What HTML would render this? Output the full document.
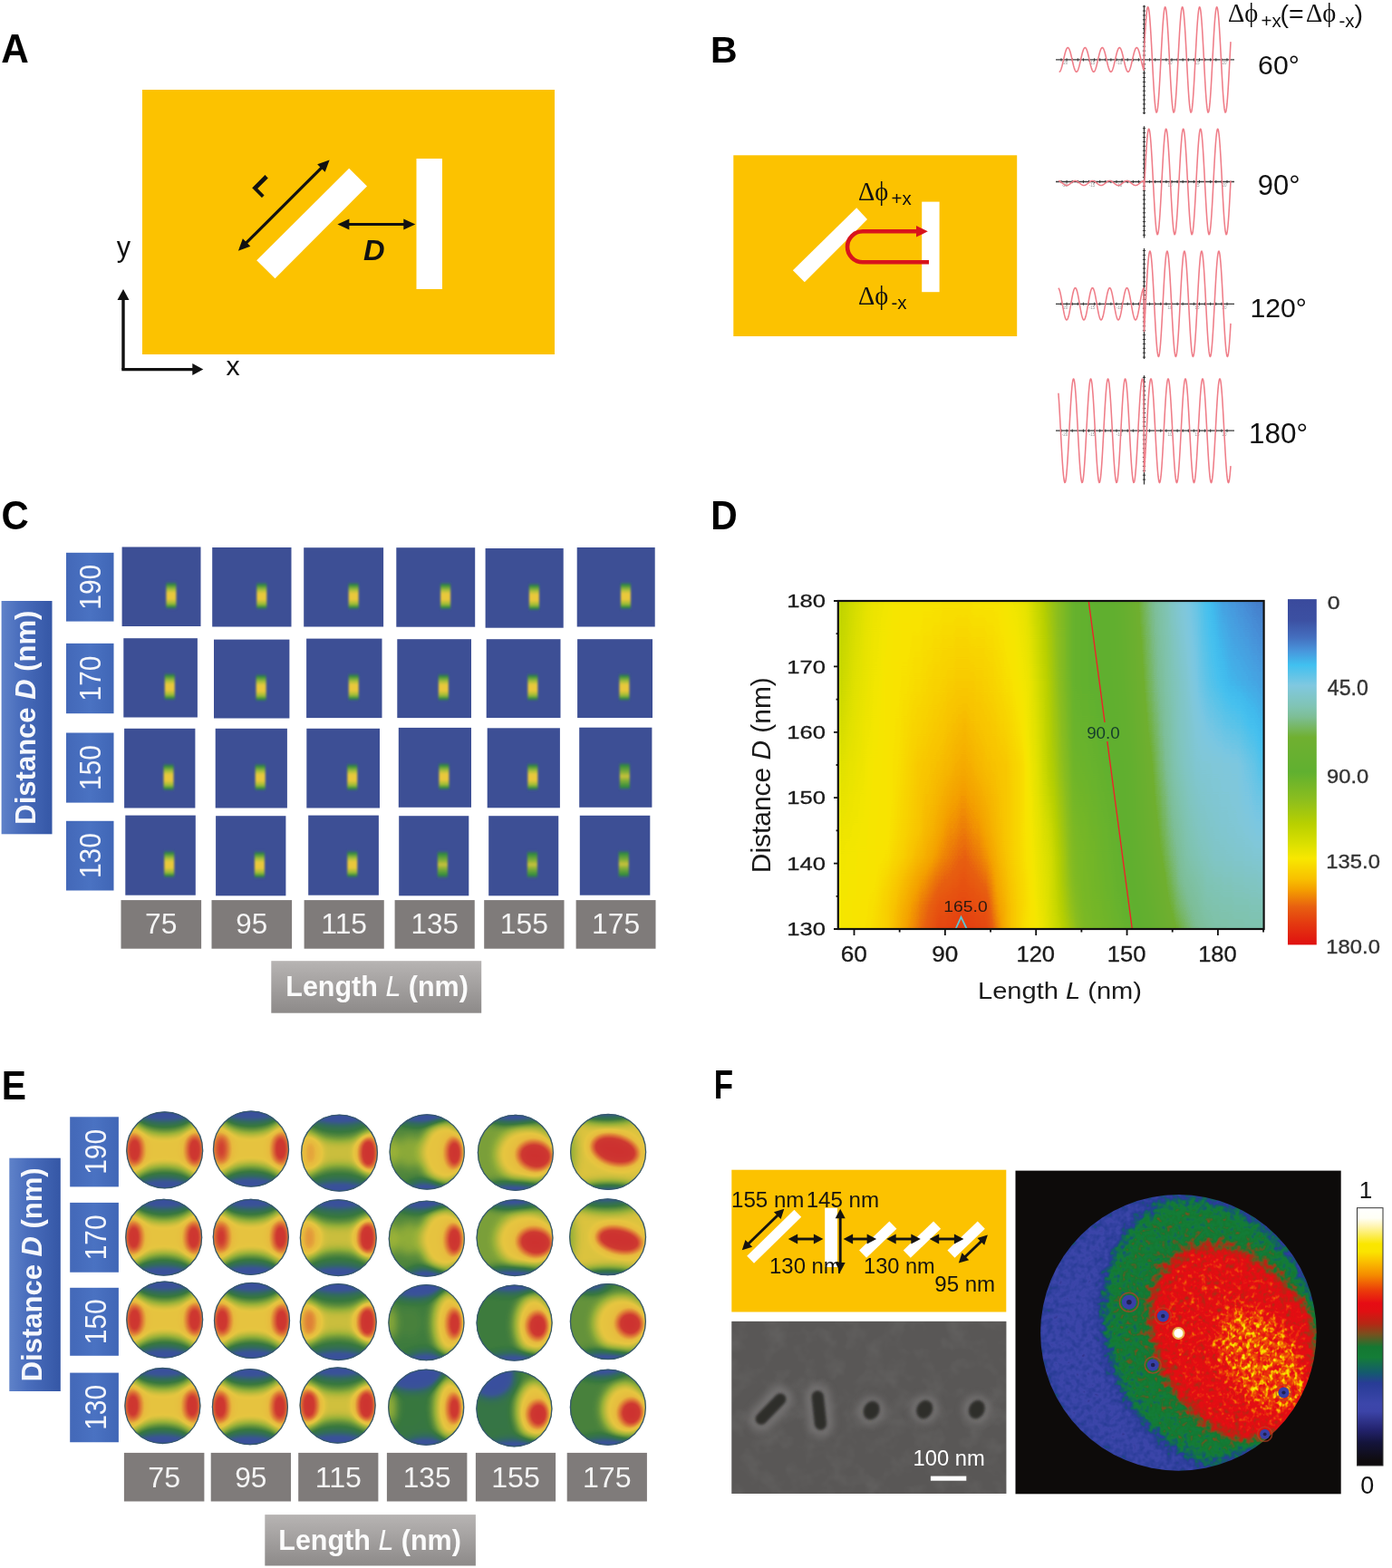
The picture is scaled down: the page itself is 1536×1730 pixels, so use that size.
<!DOCTYPE html>
<html><head><meta charset="utf-8"><title>Figure</title>
<style>html,body{margin:0;padding:0;background:#fff;}svg{display:block;}</style>
</head><body>
<svg width="1536" height="1730" viewBox="0 0 1536 1730">
<rect width="1536" height="1730" fill="#fff"/>
<text x="1.25" y="69.2" font-family="'Liberation Sans', Arial, sans-serif" font-size="44.04" font-weight="bold" textLength="30.57" lengthAdjust="spacingAndGlyphs" fill="#000" >A</text>
<text x="784.06" y="68.7" font-family="'Liberation Sans', Arial, sans-serif" font-size="40.99" font-weight="bold" fill="#000" >B</text>
<text x="1.38" y="583.6" font-family="'Liberation Sans', Arial, sans-serif" font-size="44.83" font-weight="bold" textLength="30.26" lengthAdjust="spacingAndGlyphs" fill="#000" >C</text>
<text x="784.27" y="583.6" font-family="'Liberation Sans', Arial, sans-serif" font-size="45.2" font-weight="bold" textLength="29.44" lengthAdjust="spacingAndGlyphs" fill="#000" >D</text>
<text x="1.67" y="1212.8" font-family="'Liberation Sans', Arial, sans-serif" font-size="44.33" font-weight="bold" textLength="27.22" lengthAdjust="spacingAndGlyphs" fill="#000" >E</text>
<text x="787.67" y="1212.1" font-family="'Liberation Sans', Arial, sans-serif" font-size="43.46" font-weight="bold" textLength="21.31" lengthAdjust="spacingAndGlyphs" fill="#000" >F</text>
<rect x="157" y="99" width="455" height="292" fill="#fcc200"/>
<polygon points="385.2,185.7 405,205.4 303.5,307.3 283.2,287.3" fill="#fff"/>
<rect x="459.5" y="175" width="28.5" height="144" fill="#fff"/>
<line x1="270.26" y1="269.46" x2="356.24" y2="183.74" stroke="#111" stroke-width="3.2"/><polygon points="363.6,176.4 358.63,189.83 350.16,181.33" fill="#111"/><polygon points="262.9,276.8 267.87,263.37 276.34,271.87" fill="#111"/>
<line x1="382.8" y1="247.5" x2="447.9" y2="247.5" stroke="#111" stroke-width="3.2"/><polygon points="458.3,247.5 445.3,253.5 445.3,241.5" fill="#111"/><polygon points="372.4,247.5 385.4,241.5 385.4,253.5" fill="#111"/>
<text x="0" y="0" font-family="Liberation Sans, Arial, sans-serif" font-weight="bold" font-size="28.5" text-anchor="middle" transform="translate(290.5,205) rotate(45) translate(0,10.2)" fill="#111" stroke="#111" stroke-width="0.6">L</text>
<text x="401.03" y="287" font-family="'Liberation Sans', Arial, sans-serif" font-size="30.81" font-weight="bold" font-style="italic" textLength="23.6" lengthAdjust="spacingAndGlyphs" fill="#111" >D</text>
<path d="M136,407.6 V330" stroke="#111" stroke-width="3.4" fill="none"/>
<path d="M134.3,407.6 H214" stroke="#111" stroke-width="3.4" fill="none"/>
<polygon points="136,319.1 142.5,331.1 129.5,331.1" fill="#111"/>
<polygon points="224.3,407.6 212.3,414.1 212.3,401.1" fill="#111"/>
<text x="128.68" y="282.6" font-family="'Liberation Sans', Arial, sans-serif" font-size="30.66" fill="#111" >y</text>
<text x="249.47" y="414" font-family="'Liberation Sans', Arial, sans-serif" font-size="30.28" fill="#111" >x</text>
<rect x="809.3" y="171.3" width="312.9" height="199.7" fill="#fcc200"/>
<polygon points="945.2,229.2 957,242.1 887.8,311.2 874.9,298.3" fill="#fff"/>
<rect x="1017.2" y="222.6" width="19.4" height="99.6" fill="#fff"/>
<path d="M1013,255.3 H952 A17,17 0 0 0 952,289.3 H1025" stroke="#d8141c" stroke-width="4.6" fill="none"/>
<polygon points="1023.8,255.3 1011,249 1011,261.6" fill="#d8141c"/>
<text x="947" y="221" font-family="Liberation Serif, Times New Roman, serif" font-size="28.5" fill="#111">&#916;&#981;</text>
<text x="983.5" y="226" font-family="Liberation Sans, Arial, sans-serif" font-size="20.5" fill="#111">+x</text>
<text x="947" y="335.8" font-family="Liberation Serif, Times New Roman, serif" font-size="28.5" fill="#111">&#916;&#981;</text>
<text x="983.5" y="340.5" font-family="Liberation Sans, Arial, sans-serif" font-size="20.5" fill="#111">-x</text>
<text x="1355" y="24.2" font-family="Liberation Serif, Times New Roman, serif" font-size="28.5" fill="#111">&#916;&#981;</text>
<text x="1391.5" y="30.4" font-family="Liberation Sans, Arial, sans-serif" font-size="20.5" fill="#111">+x</text>
<text x="1412.5" y="25" font-family="Liberation Sans, Arial, sans-serif" font-size="28.5" fill="#111">(=</text>
<text x="1441" y="24.2" font-family="Liberation Serif, Times New Roman, serif" font-size="28.5" fill="#111">&#916;&#981;</text>
<text x="1477.5" y="30.4" font-family="Liberation Sans, Arial, sans-serif" font-size="20.5" fill="#111">-x</text>
<text x="1494.5" y="25" font-family="Liberation Sans, Arial, sans-serif" font-size="28.5" fill="#111">)</text>
<text x="1388.09" y="81.7" font-family="'Liberation Sans', Arial, sans-serif" font-size="30.22" fill="#111" >60°</text>
<text x="1387.86" y="214.8" font-family="'Liberation Sans', Arial, sans-serif" font-size="30.93" fill="#111" >90°</text>
<text x="1379.4" y="349.8" font-family="'Liberation Sans', Arial, sans-serif" font-size="30.22" fill="#111" >120°</text>
<text x="1378.06" y="488.7" font-family="'Liberation Sans', Arial, sans-serif" font-size="31.51" fill="#111" >180°</text>
<path d="M1165,65.9 H1362 M1262.5,5.7 V126" stroke="#3a3a3a" stroke-width="1.3" fill="none"/>
<path d="M1171,64.3 V67.5 M1177.1,64.3 V67.5 M1183.2,64.3 V67.5 M1189.3,64.3 V67.5 M1195.4,64.3 V67.5 M1201.5,64.3 V67.5 M1207.6,64.3 V67.5 M1213.7,64.3 V67.5 M1219.8,64.3 V67.5 M1225.9,64.3 V67.5 M1232,64.3 V67.5 M1238.1,64.3 V67.5 M1244.2,64.3 V67.5 M1250.3,64.3 V67.5 M1256.4,64.3 V67.5 M1268.6,64.3 V67.5 M1274.7,64.3 V67.5 M1280.8,64.3 V67.5 M1286.9,64.3 V67.5 M1293,64.3 V67.5 M1299.1,64.3 V67.5 M1305.2,64.3 V67.5 M1311.3,64.3 V67.5 M1317.4,64.3 V67.5 M1323.5,64.3 V67.5 M1329.6,64.3 V67.5 M1335.7,64.3 V67.5 M1341.8,64.3 V67.5 M1347.9,64.3 V67.5 M1354,64.3 V67.5 M1260.9,7.1 H1264.1 M1260.9,12 H1264.1 M1260.9,16.9 H1264.1 M1260.9,21.8 H1264.1 M1260.9,26.7 H1264.1 M1260.9,31.6 H1264.1 M1260.9,36.5 H1264.1 M1260.9,41.4 H1264.1 M1260.9,46.3 H1264.1 M1260.9,51.2 H1264.1 M1260.9,56.1 H1264.1 M1260.9,61 H1264.1 M1260.9,70.8 H1264.1 M1260.9,75.7 H1264.1 M1260.9,80.6 H1264.1 M1260.9,85.5 H1264.1 M1260.9,90.4 H1264.1 M1260.9,95.3 H1264.1 M1260.9,100.2 H1264.1 M1260.9,105.1 H1264.1 M1260.9,110 H1264.1 M1260.9,114.9 H1264.1 M1260.9,119.8 H1264.1 M1260.9,124.7 H1264.1" stroke="#333" stroke-width="1" fill="none"/>
<text x="1175" y="71.4" font-family="Liberation Sans, Arial, sans-serif" font-size="4.5" fill="#999" text-anchor="middle">-20</text>
<text x="1205" y="71.4" font-family="Liberation Sans, Arial, sans-serif" font-size="4.5" fill="#999" text-anchor="middle">-15</text>
<text x="1235" y="71.4" font-family="Liberation Sans, Arial, sans-serif" font-size="4.5" fill="#999" text-anchor="middle">-10</text>
<text x="1291" y="71.4" font-family="Liberation Sans, Arial, sans-serif" font-size="4.5" fill="#999" text-anchor="middle">10</text>
<text x="1321" y="71.4" font-family="Liberation Sans, Arial, sans-serif" font-size="4.5" fill="#999" text-anchor="middle">15</text>
<text x="1351" y="71.4" font-family="Liberation Sans, Arial, sans-serif" font-size="4.5" fill="#999" text-anchor="middle">20</text>
<path d="M1168.6,79.3 L1169.1,79.2 L1169.6,78.8 L1170.1,78.1 L1170.6,77.0 L1171.1,75.6 L1171.6,74.0 L1172.1,72.1 L1172.6,70.0 L1173.1,67.9 L1173.6,65.7 L1174.1,63.5 L1174.6,61.3 L1175.1,59.3 L1175.6,57.5 L1176.1,55.9 L1176.6,54.6 L1177.1,53.5 L1177.6,52.9 L1178.1,52.5 L1178.6,52.6 L1179.1,53.0 L1179.6,53.7 L1180.1,54.8 L1180.6,56.2 L1181.1,57.8 L1181.6,59.7 L1182.1,61.8 L1182.6,63.9 L1183.1,66.1 L1183.6,68.3 L1184.1,70.5 L1184.6,72.5 L1185.1,74.3 L1185.6,75.9 L1186.1,77.2 L1186.6,78.3 L1187.1,78.9 L1187.6,79.3 L1188.1,79.2 L1188.6,78.8 L1189.1,78.1 L1189.6,77.0 L1190.1,75.6 L1190.6,74.0 L1191.1,72.1 L1191.6,70.0 L1192.1,67.9 L1192.6,65.7 L1193.1,63.5 L1193.6,61.3 L1194.1,59.3 L1194.6,57.5 L1195.1,55.9 L1195.6,54.6 L1196.1,53.5 L1196.6,52.9 L1197.1,52.5 L1197.6,52.6 L1198.1,53.0 L1198.6,53.7 L1199.1,54.8 L1199.6,56.2 L1200.1,57.8 L1200.6,59.7 L1201.1,61.8 L1201.6,63.9 L1202.1,66.1 L1202.6,68.3 L1203.1,70.5 L1203.6,72.5 L1204.1,74.3 L1204.6,75.9 L1205.1,77.2 L1205.6,78.3 L1206.1,78.9 L1206.6,79.3 L1207.1,79.2 L1207.6,78.8 L1208.1,78.1 L1208.6,77.0 L1209.1,75.6 L1209.6,74.0 L1210.1,72.1 L1210.6,70.0 L1211.1,67.9 L1211.6,65.7 L1212.1,63.5 L1212.6,61.3 L1213.1,59.3 L1213.6,57.5 L1214.1,55.9 L1214.6,54.6 L1215.1,53.5 L1215.6,52.9 L1216.1,52.5 L1216.6,52.6 L1217.1,53.0 L1217.6,53.7 L1218.1,54.8 L1218.6,56.2 L1219.1,57.8 L1219.6,59.7 L1220.1,61.8 L1220.6,63.9 L1221.1,66.1 L1221.6,68.3 L1222.1,70.5 L1222.6,72.5 L1223.1,74.3 L1223.6,75.9 L1224.1,77.2 L1224.6,78.3 L1225.1,78.9 L1225.6,79.3 L1226.1,79.2 L1226.6,78.8 L1227.1,78.1 L1227.6,77.0 L1228.1,75.6 L1228.6,74.0 L1229.1,72.1 L1229.6,70.0 L1230.1,67.9 L1230.6,65.7 L1231.1,63.5 L1231.6,61.3 L1232.1,59.3 L1232.6,57.5 L1233.1,55.9 L1233.6,54.6 L1234.1,53.5 L1234.6,52.9 L1235.1,52.5 L1235.6,52.6 L1236.1,53.0 L1236.6,53.7 L1237.1,54.8 L1237.6,56.2 L1238.1,57.8 L1238.6,59.7 L1239.1,61.8 L1239.6,63.9 L1240.1,66.1 L1240.6,68.3 L1241.1,70.5 L1241.6,72.5 L1242.1,74.3 L1242.6,75.9 L1243.1,77.2 L1243.6,78.3 L1244.1,78.9 L1244.6,79.3 L1245.1,79.2 L1245.6,78.8 L1246.1,78.1 L1246.6,77.0 L1247.1,75.6 L1247.6,74.0 L1248.1,72.1 L1248.6,70.0 L1249.1,67.9 L1249.6,65.7 L1250.1,63.5 L1250.6,61.3 L1251.1,59.3 L1251.6,57.5 L1252.1,55.9 L1252.6,54.6 L1253.1,53.5 L1253.6,52.9 L1254.1,52.5 L1254.6,52.6 L1255.1,53.0 L1255.6,53.7 L1256.1,54.8 L1256.6,56.2 L1257.1,57.8 L1257.6,59.7 L1258.1,61.8 L1258.6,63.9 L1259.1,66.1 L1259.6,68.3 L1260.1,70.5 L1260.6,72.5 L1261.1,74.3 L1261.6,75.9 L1262.1,77.2 L1262.5,55.4 L1263.0,46.1 L1263.5,37.3 L1264.0,29.3 L1264.5,22.4 L1265.0,16.6 L1265.5,12.1 L1266.0,9.2 L1266.5,7.7 L1267.0,7.9 L1267.5,9.6 L1268.0,12.9 L1268.5,17.6 L1269.0,23.7 L1269.5,30.9 L1270.0,39.0 L1270.5,47.9 L1271.0,57.3 L1271.5,66.9 L1272.0,76.4 L1272.5,85.7 L1273.0,94.5 L1273.5,102.5 L1274.0,109.4 L1274.5,115.2 L1275.0,119.7 L1275.5,122.6 L1276.0,124.1 L1276.5,123.9 L1277.0,122.2 L1277.5,118.9 L1278.0,114.2 L1278.5,108.1 L1279.0,100.9 L1279.5,92.8 L1280.0,83.9 L1280.5,74.5 L1281.0,64.9 L1281.5,55.4 L1282.0,46.1 L1282.5,37.3 L1283.0,29.3 L1283.5,22.4 L1284.0,16.6 L1284.5,12.1 L1285.0,9.2 L1285.5,7.7 L1286.0,7.9 L1286.5,9.6 L1287.0,12.9 L1287.5,17.6 L1288.0,23.7 L1288.5,30.9 L1289.0,39.0 L1289.5,47.9 L1290.0,57.3 L1290.5,66.9 L1291.0,76.4 L1291.5,85.7 L1292.0,94.5 L1292.5,102.5 L1293.0,109.4 L1293.5,115.2 L1294.0,119.7 L1294.5,122.6 L1295.0,124.1 L1295.5,123.9 L1296.0,122.2 L1296.5,118.9 L1297.0,114.2 L1297.5,108.1 L1298.0,100.9 L1298.5,92.8 L1299.0,83.9 L1299.5,74.5 L1300.0,64.9 L1300.5,55.4 L1301.0,46.1 L1301.5,37.3 L1302.0,29.3 L1302.5,22.4 L1303.0,16.6 L1303.5,12.1 L1304.0,9.2 L1304.5,7.7 L1305.0,7.9 L1305.5,9.6 L1306.0,12.9 L1306.5,17.6 L1307.0,23.7 L1307.5,30.9 L1308.0,39.0 L1308.5,47.9 L1309.0,57.3 L1309.5,66.9 L1310.0,76.4 L1310.5,85.7 L1311.0,94.5 L1311.5,102.5 L1312.0,109.4 L1312.5,115.2 L1313.0,119.7 L1313.5,122.6 L1314.0,124.1 L1314.5,123.9 L1315.0,122.2 L1315.5,118.9 L1316.0,114.2 L1316.5,108.1 L1317.0,100.9 L1317.5,92.8 L1318.0,83.9 L1318.5,74.5 L1319.0,64.9 L1319.5,55.4 L1320.0,46.1 L1320.5,37.3 L1321.0,29.3 L1321.5,22.4 L1322.0,16.6 L1322.5,12.1 L1323.0,9.2 L1323.5,7.7 L1324.0,7.9 L1324.5,9.6 L1325.0,12.9 L1325.5,17.6 L1326.0,23.7 L1326.5,30.9 L1327.0,39.0 L1327.5,47.9 L1328.0,57.3 L1328.5,66.9 L1329.0,76.4 L1329.5,85.7 L1330.0,94.5 L1330.5,102.5 L1331.0,109.4 L1331.5,115.2 L1332.0,119.7 L1332.5,122.6 L1333.0,124.1 L1333.5,123.9 L1334.0,122.2 L1334.5,118.9 L1335.0,114.2 L1335.5,108.1 L1336.0,100.9 L1336.5,92.8 L1337.0,83.9 L1337.5,74.5 L1338.0,64.9 L1338.5,55.4 L1339.0,46.1 L1339.5,37.3 L1340.0,29.3 L1340.5,22.4 L1341.0,16.6 L1341.5,12.1 L1342.0,9.2 L1342.5,7.7 L1343.0,7.9 L1343.5,9.6 L1344.0,12.9 L1344.5,17.6 L1345.0,23.7 L1345.5,30.9 L1346.0,39.0 L1346.5,47.9 L1347.0,57.3 L1347.5,66.9 L1348.0,76.4 L1348.5,85.7 L1349.0,94.5 L1349.5,102.5 L1350.0,109.4 L1350.5,115.2 L1351.0,119.7 L1351.5,122.6 L1352.0,124.1 L1352.5,123.9 L1353.0,122.2 L1353.5,118.9 L1354.0,114.2 L1354.5,108.1 L1355.0,100.9 L1355.5,92.8 L1356.0,83.9 L1356.5,74.5 L1357.0,64.9 L1357.5,55.4 L1358.0,46.1" stroke="#ef7d88" stroke-width="1.55" fill="none" stroke-linejoin="round"/>
<path d="M1165,200.5 H1362 M1262.5,139.3 V262.5" stroke="#3a3a3a" stroke-width="1.3" fill="none"/>
<path d="M1171,198.9 V202.1 M1177.1,198.9 V202.1 M1183.2,198.9 V202.1 M1189.3,198.9 V202.1 M1195.4,198.9 V202.1 M1201.5,198.9 V202.1 M1207.6,198.9 V202.1 M1213.7,198.9 V202.1 M1219.8,198.9 V202.1 M1225.9,198.9 V202.1 M1232,198.9 V202.1 M1238.1,198.9 V202.1 M1244.2,198.9 V202.1 M1250.3,198.9 V202.1 M1256.4,198.9 V202.1 M1268.6,198.9 V202.1 M1274.7,198.9 V202.1 M1280.8,198.9 V202.1 M1286.9,198.9 V202.1 M1293,198.9 V202.1 M1299.1,198.9 V202.1 M1305.2,198.9 V202.1 M1311.3,198.9 V202.1 M1317.4,198.9 V202.1 M1323.5,198.9 V202.1 M1329.6,198.9 V202.1 M1335.7,198.9 V202.1 M1341.8,198.9 V202.1 M1347.9,198.9 V202.1 M1354,198.9 V202.1 M1260.9,141.7 H1264.1 M1260.9,146.6 H1264.1 M1260.9,151.5 H1264.1 M1260.9,156.4 H1264.1 M1260.9,161.3 H1264.1 M1260.9,166.2 H1264.1 M1260.9,171.1 H1264.1 M1260.9,176 H1264.1 M1260.9,180.9 H1264.1 M1260.9,185.8 H1264.1 M1260.9,190.7 H1264.1 M1260.9,195.6 H1264.1 M1260.9,205.4 H1264.1 M1260.9,210.3 H1264.1 M1260.9,215.2 H1264.1 M1260.9,220.1 H1264.1 M1260.9,225 H1264.1 M1260.9,229.9 H1264.1 M1260.9,234.8 H1264.1 M1260.9,239.7 H1264.1 M1260.9,244.6 H1264.1 M1260.9,249.5 H1264.1 M1260.9,254.4 H1264.1 M1260.9,259.3 H1264.1" stroke="#333" stroke-width="1" fill="none"/>
<text x="1175" y="206" font-family="Liberation Sans, Arial, sans-serif" font-size="4.5" fill="#999" text-anchor="middle">-20</text>
<text x="1205" y="206" font-family="Liberation Sans, Arial, sans-serif" font-size="4.5" fill="#999" text-anchor="middle">-15</text>
<text x="1235" y="206" font-family="Liberation Sans, Arial, sans-serif" font-size="4.5" fill="#999" text-anchor="middle">-10</text>
<text x="1291" y="206" font-family="Liberation Sans, Arial, sans-serif" font-size="4.5" fill="#999" text-anchor="middle">10</text>
<text x="1321" y="206" font-family="Liberation Sans, Arial, sans-serif" font-size="4.5" fill="#999" text-anchor="middle">15</text>
<text x="1351" y="206" font-family="Liberation Sans, Arial, sans-serif" font-size="4.5" fill="#999" text-anchor="middle">20</text>
<path d="M1168.0,199.5 L1168.5,199.6 L1169.0,199.8 L1169.5,200.0 L1170.0,200.3 L1170.5,200.6 L1171.0,201.0 L1171.5,201.4 L1172.0,201.8 L1172.5,202.2 L1173.0,202.6 L1173.5,203.0 L1174.0,203.4 L1174.5,203.7 L1175.0,204.0 L1175.5,204.2 L1176.0,204.4 L1176.5,204.5 L1177.0,204.5 L1177.5,204.5 L1178.0,204.4 L1178.5,204.2 L1179.0,204.0 L1179.5,203.7 L1180.0,203.4 L1180.5,203.0 L1181.0,202.6 L1181.5,202.2 L1182.0,201.8 L1182.5,201.4 L1183.0,201.0 L1183.5,200.6 L1184.0,200.3 L1184.5,200.0 L1185.0,199.8 L1185.5,199.6 L1186.0,199.5 L1186.5,199.5 L1187.0,199.5 L1187.5,199.6 L1188.0,199.8 L1188.5,200.0 L1189.0,200.3 L1189.5,200.6 L1190.0,201.0 L1190.5,201.4 L1191.0,201.8 L1191.5,202.2 L1192.0,202.6 L1192.5,203.0 L1193.0,203.4 L1193.5,203.7 L1194.0,204.0 L1194.5,204.2 L1195.0,204.4 L1195.5,204.5 L1196.0,204.5 L1196.5,204.5 L1197.0,204.4 L1197.5,204.2 L1198.0,204.0 L1198.5,203.7 L1199.0,203.4 L1199.5,203.0 L1200.0,202.6 L1200.5,202.2 L1201.0,201.8 L1201.5,201.4 L1202.0,201.0 L1202.5,200.6 L1203.0,200.3 L1203.5,200.0 L1204.0,199.8 L1204.5,199.6 L1205.0,199.5 L1205.5,199.5 L1206.0,199.5 L1206.5,199.6 L1207.0,199.8 L1207.5,200.0 L1208.0,200.3 L1208.5,200.6 L1209.0,201.0 L1209.5,201.4 L1210.0,201.8 L1210.5,202.2 L1211.0,202.6 L1211.5,203.0 L1212.0,203.4 L1212.5,203.7 L1213.0,204.0 L1213.5,204.2 L1214.0,204.4 L1214.5,204.5 L1215.0,204.5 L1215.5,204.5 L1216.0,204.4 L1216.5,204.2 L1217.0,204.0 L1217.5,203.7 L1218.0,203.4 L1218.5,203.0 L1219.0,202.6 L1219.5,202.2 L1220.0,201.8 L1220.5,201.4 L1221.0,201.0 L1221.5,200.6 L1222.0,200.3 L1222.5,200.0 L1223.0,199.8 L1223.5,199.6 L1224.0,199.5 L1224.5,199.5 L1225.0,199.5 L1225.5,199.6 L1226.0,199.8 L1226.5,200.0 L1227.0,200.3 L1227.5,200.6 L1228.0,201.0 L1228.5,201.4 L1229.0,201.8 L1229.5,202.2 L1230.0,202.6 L1230.5,203.0 L1231.0,203.4 L1231.5,203.7 L1232.0,204.0 L1232.5,204.2 L1233.0,204.4 L1233.5,204.5 L1234.0,204.5 L1234.5,204.5 L1235.0,204.4 L1235.5,204.2 L1236.0,204.0 L1236.5,203.7 L1237.0,203.4 L1237.5,203.0 L1238.0,202.6 L1238.5,202.2 L1239.0,201.8 L1239.5,201.4 L1240.0,201.0 L1240.5,200.6 L1241.0,200.3 L1241.5,200.0 L1242.0,199.8 L1242.5,199.6 L1243.0,199.5 L1243.5,199.5 L1244.0,199.5 L1244.5,199.6 L1245.0,199.8 L1245.5,200.0 L1246.0,200.3 L1246.5,200.6 L1247.0,201.0 L1247.5,201.4 L1248.0,201.8 L1248.5,202.2 L1249.0,202.6 L1249.5,203.0 L1250.0,203.4 L1250.5,203.7 L1251.0,204.0 L1251.5,204.2 L1252.0,204.4 L1252.5,204.5 L1253.0,204.5 L1253.5,204.5 L1254.0,204.4 L1254.5,204.2 L1255.0,204.0 L1255.5,203.7 L1256.0,203.4 L1256.5,203.0 L1257.0,202.6 L1257.5,202.2 L1258.0,201.8 L1258.5,201.4 L1259.0,201.0 L1259.5,200.6 L1260.0,200.3 L1260.5,200.0 L1261.0,199.8 L1261.5,199.6 L1262.0,199.5 L1262.5,209.1 L1263.0,199.5 L1263.5,190.0 L1264.0,180.7 L1264.5,171.9 L1265.0,163.9 L1265.5,157.0 L1266.0,151.2 L1266.5,146.7 L1267.0,143.8 L1267.5,142.3 L1268.0,142.5 L1268.5,144.2 L1269.0,147.5 L1269.5,152.2 L1270.0,158.3 L1270.5,165.5 L1271.0,173.6 L1271.5,182.5 L1272.0,191.9 L1272.5,201.5 L1273.0,211.0 L1273.5,220.3 L1274.0,229.1 L1274.5,237.1 L1275.0,244.0 L1275.5,249.8 L1276.0,254.3 L1276.5,257.2 L1277.0,258.7 L1277.5,258.5 L1278.0,256.8 L1278.5,253.5 L1279.0,248.8 L1279.5,242.7 L1280.0,235.5 L1280.5,227.4 L1281.0,218.5 L1281.5,209.1 L1282.0,199.5 L1282.5,190.0 L1283.0,180.7 L1283.5,171.9 L1284.0,163.9 L1284.5,157.0 L1285.0,151.2 L1285.5,146.7 L1286.0,143.8 L1286.5,142.3 L1287.0,142.5 L1287.5,144.2 L1288.0,147.5 L1288.5,152.2 L1289.0,158.3 L1289.5,165.5 L1290.0,173.6 L1290.5,182.5 L1291.0,191.9 L1291.5,201.5 L1292.0,211.0 L1292.5,220.3 L1293.0,229.1 L1293.5,237.1 L1294.0,244.0 L1294.5,249.8 L1295.0,254.3 L1295.5,257.2 L1296.0,258.7 L1296.5,258.5 L1297.0,256.8 L1297.5,253.5 L1298.0,248.8 L1298.5,242.7 L1299.0,235.5 L1299.5,227.4 L1300.0,218.5 L1300.5,209.1 L1301.0,199.5 L1301.5,190.0 L1302.0,180.7 L1302.5,171.9 L1303.0,163.9 L1303.5,157.0 L1304.0,151.2 L1304.5,146.7 L1305.0,143.8 L1305.5,142.3 L1306.0,142.5 L1306.5,144.2 L1307.0,147.5 L1307.5,152.2 L1308.0,158.3 L1308.5,165.5 L1309.0,173.6 L1309.5,182.5 L1310.0,191.9 L1310.5,201.5 L1311.0,211.0 L1311.5,220.3 L1312.0,229.1 L1312.5,237.1 L1313.0,244.0 L1313.5,249.8 L1314.0,254.3 L1314.5,257.2 L1315.0,258.7 L1315.5,258.5 L1316.0,256.8 L1316.5,253.5 L1317.0,248.8 L1317.5,242.7 L1318.0,235.5 L1318.5,227.4 L1319.0,218.5 L1319.5,209.1 L1320.0,199.5 L1320.5,190.0 L1321.0,180.7 L1321.5,171.9 L1322.0,163.9 L1322.5,157.0 L1323.0,151.2 L1323.5,146.7 L1324.0,143.8 L1324.5,142.3 L1325.0,142.5 L1325.5,144.2 L1326.0,147.5 L1326.5,152.2 L1327.0,158.3 L1327.5,165.5 L1328.0,173.6 L1328.5,182.5 L1329.0,191.9 L1329.5,201.5 L1330.0,211.0 L1330.5,220.3 L1331.0,229.1 L1331.5,237.1 L1332.0,244.0 L1332.5,249.8 L1333.0,254.3 L1333.5,257.2 L1334.0,258.7 L1334.5,258.5 L1335.0,256.8 L1335.5,253.5 L1336.0,248.8 L1336.5,242.7 L1337.0,235.5 L1337.5,227.4 L1338.0,218.5 L1338.5,209.1 L1339.0,199.5 L1339.5,190.0 L1340.0,180.7 L1340.5,171.9 L1341.0,163.9 L1341.5,157.0 L1342.0,151.2 L1342.5,146.7 L1343.0,143.8 L1343.5,142.3 L1344.0,142.5 L1344.5,144.2 L1345.0,147.5 L1345.5,152.2 L1346.0,158.3 L1346.5,165.5 L1347.0,173.6 L1347.5,182.5 L1348.0,191.9 L1348.5,201.5 L1349.0,211.0 L1349.5,220.3 L1350.0,229.1 L1350.5,237.1 L1351.0,244.0 L1351.5,249.8 L1352.0,254.3 L1352.5,257.2 L1353.0,258.7 L1353.5,258.5 L1354.0,256.8 L1354.5,253.5 L1355.0,248.8 L1355.5,242.7 L1356.0,235.5 L1356.5,227.4 L1357.0,218.5 L1357.5,209.1 L1358.0,199.5" stroke="#ef7d88" stroke-width="1.55" fill="none" stroke-linejoin="round"/>
<path d="M1165,335.3 H1362 M1262.5,273.9 V396" stroke="#3a3a3a" stroke-width="1.3" fill="none"/>
<path d="M1171,333.7 V336.9 M1177.1,333.7 V336.9 M1183.2,333.7 V336.9 M1189.3,333.7 V336.9 M1195.4,333.7 V336.9 M1201.5,333.7 V336.9 M1207.6,333.7 V336.9 M1213.7,333.7 V336.9 M1219.8,333.7 V336.9 M1225.9,333.7 V336.9 M1232,333.7 V336.9 M1238.1,333.7 V336.9 M1244.2,333.7 V336.9 M1250.3,333.7 V336.9 M1256.4,333.7 V336.9 M1268.6,333.7 V336.9 M1274.7,333.7 V336.9 M1280.8,333.7 V336.9 M1286.9,333.7 V336.9 M1293,333.7 V336.9 M1299.1,333.7 V336.9 M1305.2,333.7 V336.9 M1311.3,333.7 V336.9 M1317.4,333.7 V336.9 M1323.5,333.7 V336.9 M1329.6,333.7 V336.9 M1335.7,333.7 V336.9 M1341.8,333.7 V336.9 M1347.9,333.7 V336.9 M1354,333.7 V336.9 M1260.9,276.5 H1264.1 M1260.9,281.4 H1264.1 M1260.9,286.3 H1264.1 M1260.9,291.2 H1264.1 M1260.9,296.1 H1264.1 M1260.9,301 H1264.1 M1260.9,305.9 H1264.1 M1260.9,310.8 H1264.1 M1260.9,315.7 H1264.1 M1260.9,320.6 H1264.1 M1260.9,325.5 H1264.1 M1260.9,330.4 H1264.1 M1260.9,340.2 H1264.1 M1260.9,345.1 H1264.1 M1260.9,350 H1264.1 M1260.9,354.9 H1264.1 M1260.9,359.8 H1264.1 M1260.9,364.7 H1264.1 M1260.9,369.6 H1264.1 M1260.9,374.5 H1264.1 M1260.9,379.4 H1264.1 M1260.9,384.3 H1264.1 M1260.9,389.2 H1264.1 M1260.9,394.1 H1264.1" stroke="#333" stroke-width="1" fill="none"/>
<text x="1175" y="340.8" font-family="Liberation Sans, Arial, sans-serif" font-size="4.5" fill="#999" text-anchor="middle">-20</text>
<text x="1205" y="340.8" font-family="Liberation Sans, Arial, sans-serif" font-size="4.5" fill="#999" text-anchor="middle">-15</text>
<text x="1235" y="340.8" font-family="Liberation Sans, Arial, sans-serif" font-size="4.5" fill="#999" text-anchor="middle">-10</text>
<text x="1291" y="340.8" font-family="Liberation Sans, Arial, sans-serif" font-size="4.5" fill="#999" text-anchor="middle">10</text>
<text x="1321" y="340.8" font-family="Liberation Sans, Arial, sans-serif" font-size="4.5" fill="#999" text-anchor="middle">15</text>
<text x="1351" y="340.8" font-family="Liberation Sans, Arial, sans-serif" font-size="4.5" fill="#999" text-anchor="middle">20</text>
<path d="M1167.9,317.8 L1168.4,318.4 L1168.9,319.5 L1169.4,321.0 L1169.9,322.9 L1170.4,325.1 L1170.9,327.7 L1171.4,330.4 L1171.9,333.3 L1172.4,336.2 L1172.9,339.1 L1173.4,341.9 L1173.9,344.5 L1174.4,346.9 L1174.9,348.9 L1175.4,350.6 L1175.9,351.8 L1176.4,352.7 L1176.9,353.0 L1177.4,352.8 L1177.9,352.2 L1178.4,351.1 L1178.9,349.6 L1179.4,347.7 L1179.9,345.5 L1180.4,342.9 L1180.9,340.2 L1181.4,337.3 L1181.9,334.4 L1182.4,331.5 L1182.9,328.7 L1183.4,326.1 L1183.9,323.7 L1184.4,321.7 L1184.9,320.0 L1185.4,318.8 L1185.9,317.9 L1186.4,317.6 L1186.9,317.8 L1187.4,318.4 L1187.9,319.5 L1188.4,321.0 L1188.9,322.9 L1189.4,325.1 L1189.9,327.7 L1190.4,330.4 L1190.9,333.3 L1191.4,336.2 L1191.9,339.1 L1192.4,341.9 L1192.9,344.5 L1193.4,346.9 L1193.9,348.9 L1194.4,350.6 L1194.9,351.8 L1195.4,352.7 L1195.9,353.0 L1196.4,352.8 L1196.9,352.2 L1197.4,351.1 L1197.9,349.6 L1198.4,347.7 L1198.9,345.5 L1199.4,342.9 L1199.9,340.2 L1200.4,337.3 L1200.9,334.4 L1201.4,331.5 L1201.9,328.7 L1202.4,326.1 L1202.9,323.7 L1203.4,321.7 L1203.9,320.0 L1204.4,318.8 L1204.9,317.9 L1205.4,317.6 L1205.9,317.8 L1206.4,318.4 L1206.9,319.5 L1207.4,321.0 L1207.9,322.9 L1208.4,325.1 L1208.9,327.7 L1209.4,330.4 L1209.9,333.3 L1210.4,336.2 L1210.9,339.1 L1211.4,341.9 L1211.9,344.5 L1212.4,346.9 L1212.9,348.9 L1213.4,350.6 L1213.9,351.8 L1214.4,352.7 L1214.9,353.0 L1215.4,352.8 L1215.9,352.2 L1216.4,351.1 L1216.9,349.6 L1217.4,347.7 L1217.9,345.5 L1218.4,342.9 L1218.9,340.2 L1219.4,337.3 L1219.9,334.4 L1220.4,331.5 L1220.9,328.7 L1221.4,326.1 L1221.9,323.7 L1222.4,321.7 L1222.9,320.0 L1223.4,318.8 L1223.9,317.9 L1224.4,317.6 L1224.9,317.8 L1225.4,318.4 L1225.9,319.5 L1226.4,321.0 L1226.9,322.9 L1227.4,325.1 L1227.9,327.7 L1228.4,330.4 L1228.9,333.3 L1229.4,336.2 L1229.9,339.1 L1230.4,341.9 L1230.9,344.5 L1231.4,346.9 L1231.9,348.9 L1232.4,350.6 L1232.9,351.8 L1233.4,352.7 L1233.9,353.0 L1234.4,352.8 L1234.9,352.2 L1235.4,351.1 L1235.9,349.6 L1236.4,347.7 L1236.9,345.5 L1237.4,342.9 L1237.9,340.2 L1238.4,337.3 L1238.9,334.4 L1239.4,331.5 L1239.9,328.7 L1240.4,326.1 L1240.9,323.7 L1241.4,321.7 L1241.9,320.0 L1242.4,318.8 L1242.9,317.9 L1243.4,317.6 L1243.9,317.8 L1244.4,318.4 L1244.9,319.5 L1245.4,321.0 L1245.9,322.9 L1246.4,325.1 L1246.9,327.7 L1247.4,330.4 L1247.9,333.3 L1248.4,336.2 L1248.9,339.1 L1249.4,341.9 L1249.9,344.5 L1250.4,346.9 L1250.9,348.9 L1251.4,350.6 L1251.9,351.8 L1252.4,352.7 L1252.9,353.0 L1253.4,352.8 L1253.9,352.2 L1254.4,351.1 L1254.9,349.6 L1255.4,347.7 L1255.9,345.5 L1256.4,342.9 L1256.9,340.2 L1257.4,337.3 L1257.9,334.4 L1258.4,331.5 L1258.9,328.7 L1259.4,326.1 L1259.9,323.7 L1260.4,321.7 L1260.9,320.0 L1261.4,318.8 L1261.9,317.9 L1262.5,365.5 L1263.0,356.9 L1263.5,347.7 L1264.0,338.2 L1264.5,328.6 L1265.0,319.2 L1265.5,310.2 L1266.0,301.9 L1266.5,294.5 L1267.0,288.2 L1267.5,283.2 L1268.0,279.7 L1268.5,277.6 L1269.0,277.1 L1269.5,278.2 L1270.0,280.9 L1270.5,285.1 L1271.0,290.6 L1271.5,297.3 L1272.0,305.1 L1272.5,313.7 L1273.0,322.9 L1273.5,332.4 L1274.0,342.0 L1274.5,351.4 L1275.0,360.4 L1275.5,368.7 L1276.0,376.1 L1276.5,382.4 L1277.0,387.4 L1277.5,390.9 L1278.0,393.0 L1278.5,393.5 L1279.0,392.4 L1279.5,389.7 L1280.0,385.5 L1280.5,380.0 L1281.0,373.3 L1281.5,365.5 L1282.0,356.9 L1282.5,347.7 L1283.0,338.2 L1283.5,328.6 L1284.0,319.2 L1284.5,310.2 L1285.0,301.9 L1285.5,294.5 L1286.0,288.2 L1286.5,283.2 L1287.0,279.7 L1287.5,277.6 L1288.0,277.1 L1288.5,278.2 L1289.0,280.9 L1289.5,285.1 L1290.0,290.6 L1290.5,297.3 L1291.0,305.1 L1291.5,313.7 L1292.0,322.9 L1292.5,332.4 L1293.0,342.0 L1293.5,351.4 L1294.0,360.4 L1294.5,368.7 L1295.0,376.1 L1295.5,382.4 L1296.0,387.4 L1296.5,390.9 L1297.0,393.0 L1297.5,393.5 L1298.0,392.4 L1298.5,389.7 L1299.0,385.5 L1299.5,380.0 L1300.0,373.3 L1300.5,365.5 L1301.0,356.9 L1301.5,347.7 L1302.0,338.2 L1302.5,328.6 L1303.0,319.2 L1303.5,310.2 L1304.0,301.9 L1304.5,294.5 L1305.0,288.2 L1305.5,283.2 L1306.0,279.7 L1306.5,277.6 L1307.0,277.1 L1307.5,278.2 L1308.0,280.9 L1308.5,285.1 L1309.0,290.6 L1309.5,297.3 L1310.0,305.1 L1310.5,313.7 L1311.0,322.9 L1311.5,332.4 L1312.0,342.0 L1312.5,351.4 L1313.0,360.4 L1313.5,368.7 L1314.0,376.1 L1314.5,382.4 L1315.0,387.4 L1315.5,390.9 L1316.0,393.0 L1316.5,393.5 L1317.0,392.4 L1317.5,389.7 L1318.0,385.5 L1318.5,380.0 L1319.0,373.3 L1319.5,365.5 L1320.0,356.9 L1320.5,347.7 L1321.0,338.2 L1321.5,328.6 L1322.0,319.2 L1322.5,310.2 L1323.0,301.9 L1323.5,294.5 L1324.0,288.2 L1324.5,283.2 L1325.0,279.7 L1325.5,277.6 L1326.0,277.1 L1326.5,278.2 L1327.0,280.9 L1327.5,285.1 L1328.0,290.6 L1328.5,297.3 L1329.0,305.1 L1329.5,313.7 L1330.0,322.9 L1330.5,332.4 L1331.0,342.0 L1331.5,351.4 L1332.0,360.4 L1332.5,368.7 L1333.0,376.1 L1333.5,382.4 L1334.0,387.4 L1334.5,390.9 L1335.0,393.0 L1335.5,393.5 L1336.0,392.4 L1336.5,389.7 L1337.0,385.5 L1337.5,380.0 L1338.0,373.3 L1338.5,365.5 L1339.0,356.9 L1339.5,347.7 L1340.0,338.2 L1340.5,328.6 L1341.0,319.2 L1341.5,310.2 L1342.0,301.9 L1342.5,294.5 L1343.0,288.2 L1343.5,283.2 L1344.0,279.7 L1344.5,277.6 L1345.0,277.1 L1345.5,278.2 L1346.0,280.9 L1346.5,285.1 L1347.0,290.6 L1347.5,297.3 L1348.0,305.1 L1348.5,313.7 L1349.0,322.9 L1349.5,332.4 L1350.0,342.0 L1350.5,351.4 L1351.0,360.4 L1351.5,368.7 L1352.0,376.1 L1352.5,382.4 L1353.0,387.4 L1353.5,390.9 L1354.0,393.0 L1354.5,393.5 L1355.0,392.4 L1355.5,389.7 L1356.0,385.5 L1356.5,380.0 L1357.0,373.3 L1357.5,365.5 L1358.0,356.9" stroke="#ef7d88" stroke-width="1.55" fill="none" stroke-linejoin="round"/>
<path d="M1165,475.2 H1362 M1262.5,414.3 V534.6" stroke="#3a3a3a" stroke-width="1.3" fill="none"/>
<path d="M1171,473.6 V476.8 M1177.1,473.6 V476.8 M1183.2,473.6 V476.8 M1189.3,473.6 V476.8 M1195.4,473.6 V476.8 M1201.5,473.6 V476.8 M1207.6,473.6 V476.8 M1213.7,473.6 V476.8 M1219.8,473.6 V476.8 M1225.9,473.6 V476.8 M1232,473.6 V476.8 M1238.1,473.6 V476.8 M1244.2,473.6 V476.8 M1250.3,473.6 V476.8 M1256.4,473.6 V476.8 M1268.6,473.6 V476.8 M1274.7,473.6 V476.8 M1280.8,473.6 V476.8 M1286.9,473.6 V476.8 M1293,473.6 V476.8 M1299.1,473.6 V476.8 M1305.2,473.6 V476.8 M1311.3,473.6 V476.8 M1317.4,473.6 V476.8 M1323.5,473.6 V476.8 M1329.6,473.6 V476.8 M1335.7,473.6 V476.8 M1341.8,473.6 V476.8 M1347.9,473.6 V476.8 M1354,473.6 V476.8 M1260.9,416.4 H1264.1 M1260.9,421.3 H1264.1 M1260.9,426.2 H1264.1 M1260.9,431.1 H1264.1 M1260.9,436 H1264.1 M1260.9,440.9 H1264.1 M1260.9,445.8 H1264.1 M1260.9,450.7 H1264.1 M1260.9,455.6 H1264.1 M1260.9,460.5 H1264.1 M1260.9,465.4 H1264.1 M1260.9,470.3 H1264.1 M1260.9,480.1 H1264.1 M1260.9,485 H1264.1 M1260.9,489.9 H1264.1 M1260.9,494.8 H1264.1 M1260.9,499.7 H1264.1 M1260.9,504.6 H1264.1 M1260.9,509.5 H1264.1 M1260.9,514.4 H1264.1 M1260.9,519.3 H1264.1 M1260.9,524.2 H1264.1 M1260.9,529.1 H1264.1" stroke="#333" stroke-width="1" fill="none"/>
<text x="1175" y="480.7" font-family="Liberation Sans, Arial, sans-serif" font-size="4.5" fill="#999" text-anchor="middle">-20</text>
<text x="1205" y="480.7" font-family="Liberation Sans, Arial, sans-serif" font-size="4.5" fill="#999" text-anchor="middle">-15</text>
<text x="1235" y="480.7" font-family="Liberation Sans, Arial, sans-serif" font-size="4.5" fill="#999" text-anchor="middle">-10</text>
<text x="1291" y="480.7" font-family="Liberation Sans, Arial, sans-serif" font-size="4.5" fill="#999" text-anchor="middle">10</text>
<text x="1321" y="480.7" font-family="Liberation Sans, Arial, sans-serif" font-size="4.5" fill="#999" text-anchor="middle">15</text>
<text x="1351" y="480.7" font-family="Liberation Sans, Arial, sans-serif" font-size="4.5" fill="#999" text-anchor="middle">20</text>
<path d="M1167.9,433.7 L1168.4,440.8 L1168.9,448.8 L1169.4,457.5 L1169.9,466.7 L1170.4,476.1 L1170.9,485.6 L1171.4,494.7 L1171.9,503.3 L1172.4,511.1 L1172.9,518.0 L1173.4,523.7 L1173.9,528.0 L1174.4,531.0 L1174.9,532.4 L1175.4,532.2 L1175.9,530.5 L1176.4,527.3 L1176.9,522.6 L1177.4,516.7 L1177.9,509.6 L1178.4,501.6 L1178.9,492.9 L1179.4,483.7 L1179.9,474.3 L1180.4,464.8 L1180.9,455.7 L1181.4,447.1 L1181.9,439.3 L1182.4,432.4 L1182.9,426.7 L1183.4,422.4 L1183.9,419.4 L1184.4,418.0 L1184.9,418.2 L1185.4,419.9 L1185.9,423.1 L1186.4,427.8 L1186.9,433.7 L1187.4,440.8 L1187.9,448.8 L1188.4,457.5 L1188.9,466.7 L1189.4,476.1 L1189.9,485.6 L1190.4,494.7 L1190.9,503.3 L1191.4,511.1 L1191.9,518.0 L1192.4,523.7 L1192.9,528.0 L1193.4,531.0 L1193.9,532.4 L1194.4,532.2 L1194.9,530.5 L1195.4,527.3 L1195.9,522.6 L1196.4,516.7 L1196.9,509.6 L1197.4,501.6 L1197.9,492.9 L1198.4,483.7 L1198.9,474.3 L1199.4,464.8 L1199.9,455.7 L1200.4,447.1 L1200.9,439.3 L1201.4,432.4 L1201.9,426.7 L1202.4,422.4 L1202.9,419.4 L1203.4,418.0 L1203.9,418.2 L1204.4,419.9 L1204.9,423.1 L1205.4,427.8 L1205.9,433.7 L1206.4,440.8 L1206.9,448.8 L1207.4,457.5 L1207.9,466.7 L1208.4,476.1 L1208.9,485.6 L1209.4,494.7 L1209.9,503.3 L1210.4,511.1 L1210.9,518.0 L1211.4,523.7 L1211.9,528.0 L1212.4,531.0 L1212.9,532.4 L1213.4,532.2 L1213.9,530.5 L1214.4,527.3 L1214.9,522.6 L1215.4,516.7 L1215.9,509.6 L1216.4,501.6 L1216.9,492.9 L1217.4,483.7 L1217.9,474.3 L1218.4,464.8 L1218.9,455.7 L1219.4,447.1 L1219.9,439.3 L1220.4,432.4 L1220.9,426.7 L1221.4,422.4 L1221.9,419.4 L1222.4,418.0 L1222.9,418.2 L1223.4,419.9 L1223.9,423.1 L1224.4,427.8 L1224.9,433.7 L1225.4,440.8 L1225.9,448.8 L1226.4,457.5 L1226.9,466.7 L1227.4,476.1 L1227.9,485.6 L1228.4,494.7 L1228.9,503.3 L1229.4,511.1 L1229.9,518.0 L1230.4,523.7 L1230.9,528.0 L1231.4,531.0 L1231.9,532.4 L1232.4,532.2 L1232.9,530.5 L1233.4,527.3 L1233.9,522.6 L1234.4,516.7 L1234.9,509.6 L1235.4,501.6 L1235.9,492.9 L1236.4,483.7 L1236.9,474.3 L1237.4,464.8 L1237.9,455.7 L1238.4,447.1 L1238.9,439.3 L1239.4,432.4 L1239.9,426.7 L1240.4,422.4 L1240.9,419.4 L1241.4,418.0 L1241.9,418.2 L1242.4,419.9 L1242.9,423.1 L1243.4,427.8 L1243.9,433.7 L1244.4,440.8 L1244.9,448.8 L1245.4,457.5 L1245.9,466.7 L1246.4,476.1 L1246.9,485.6 L1247.4,494.7 L1247.9,503.3 L1248.4,511.1 L1248.9,518.0 L1249.4,523.7 L1249.9,528.0 L1250.4,531.0 L1250.9,532.4 L1251.4,532.2 L1251.9,530.5 L1252.4,527.3 L1252.9,522.6 L1253.4,516.7 L1253.9,509.6 L1254.4,501.6 L1254.9,492.9 L1255.4,483.7 L1255.9,474.3 L1256.4,464.8 L1256.9,455.7 L1257.4,447.1 L1257.9,439.3 L1258.4,432.4 L1258.9,426.7 L1259.4,422.4 L1259.9,419.4 L1260.4,418.0 L1260.9,418.2 L1261.4,419.9 L1261.9,423.1 L1262.5,520.5 L1263.0,514.1 L1263.5,506.6 L1264.0,498.3 L1264.5,489.3 L1265.0,479.9 L1265.5,470.5 L1266.0,461.1 L1266.5,452.1 L1267.0,443.8 L1267.5,436.3 L1268.0,429.9 L1268.5,424.7 L1269.0,420.9 L1269.5,418.6 L1270.0,417.8 L1270.5,418.6 L1271.0,420.9 L1271.5,424.7 L1272.0,429.9 L1272.5,436.3 L1273.0,443.8 L1273.5,452.1 L1274.0,461.1 L1274.5,470.5 L1275.0,479.9 L1275.5,489.3 L1276.0,498.3 L1276.5,506.6 L1277.0,514.1 L1277.5,520.5 L1278.0,525.7 L1278.5,529.5 L1279.0,531.8 L1279.5,532.6 L1280.0,531.8 L1280.5,529.5 L1281.0,525.7 L1281.5,520.5 L1282.0,514.1 L1282.5,506.6 L1283.0,498.3 L1283.5,489.3 L1284.0,479.9 L1284.5,470.5 L1285.0,461.1 L1285.5,452.1 L1286.0,443.8 L1286.5,436.3 L1287.0,429.9 L1287.5,424.7 L1288.0,420.9 L1288.5,418.6 L1289.0,417.8 L1289.5,418.6 L1290.0,420.9 L1290.5,424.7 L1291.0,429.9 L1291.5,436.3 L1292.0,443.8 L1292.5,452.1 L1293.0,461.1 L1293.5,470.5 L1294.0,479.9 L1294.5,489.3 L1295.0,498.3 L1295.5,506.6 L1296.0,514.1 L1296.5,520.5 L1297.0,525.7 L1297.5,529.5 L1298.0,531.8 L1298.5,532.6 L1299.0,531.8 L1299.5,529.5 L1300.0,525.7 L1300.5,520.5 L1301.0,514.1 L1301.5,506.6 L1302.0,498.3 L1302.5,489.3 L1303.0,479.9 L1303.5,470.5 L1304.0,461.1 L1304.5,452.1 L1305.0,443.8 L1305.5,436.3 L1306.0,429.9 L1306.5,424.7 L1307.0,420.9 L1307.5,418.6 L1308.0,417.8 L1308.5,418.6 L1309.0,420.9 L1309.5,424.7 L1310.0,429.9 L1310.5,436.3 L1311.0,443.8 L1311.5,452.1 L1312.0,461.1 L1312.5,470.5 L1313.0,479.9 L1313.5,489.3 L1314.0,498.3 L1314.5,506.6 L1315.0,514.1 L1315.5,520.5 L1316.0,525.7 L1316.5,529.5 L1317.0,531.8 L1317.5,532.6 L1318.0,531.8 L1318.5,529.5 L1319.0,525.7 L1319.5,520.5 L1320.0,514.1 L1320.5,506.6 L1321.0,498.3 L1321.5,489.3 L1322.0,479.9 L1322.5,470.5 L1323.0,461.1 L1323.5,452.1 L1324.0,443.8 L1324.5,436.3 L1325.0,429.9 L1325.5,424.7 L1326.0,420.9 L1326.5,418.6 L1327.0,417.8 L1327.5,418.6 L1328.0,420.9 L1328.5,424.7 L1329.0,429.9 L1329.5,436.3 L1330.0,443.8 L1330.5,452.1 L1331.0,461.1 L1331.5,470.5 L1332.0,479.9 L1332.5,489.3 L1333.0,498.3 L1333.5,506.6 L1334.0,514.1 L1334.5,520.5 L1335.0,525.7 L1335.5,529.5 L1336.0,531.8 L1336.5,532.6 L1337.0,531.8 L1337.5,529.5 L1338.0,525.7 L1338.5,520.5 L1339.0,514.1 L1339.5,506.6 L1340.0,498.3 L1340.5,489.3 L1341.0,479.9 L1341.5,470.5 L1342.0,461.1 L1342.5,452.1 L1343.0,443.8 L1343.5,436.3 L1344.0,429.9 L1344.5,424.7 L1345.0,420.9 L1345.5,418.6 L1346.0,417.8 L1346.5,418.6 L1347.0,420.9 L1347.5,424.7 L1348.0,429.9 L1348.5,436.3 L1349.0,443.8 L1349.5,452.1 L1350.0,461.1 L1350.5,470.5 L1351.0,479.9 L1351.5,489.3 L1352.0,498.3 L1352.5,506.6 L1353.0,514.1 L1353.5,520.5 L1354.0,525.7 L1354.5,529.5 L1355.0,531.8 L1355.5,532.6 L1356.0,531.8 L1356.5,529.5 L1357.0,525.7 L1357.5,520.5 L1358.0,514.1" stroke="#ef7d88" stroke-width="1.55" fill="none" stroke-linejoin="round"/>
<defs>
<linearGradient id="gLab" x1="0" y1="0" x2="1" y2="0">
 <stop offset="0" stop-color="#4368b8"/><stop offset="0.5" stop-color="#4a72c2"/><stop offset="1" stop-color="#4066b6"/>
</linearGradient>
<linearGradient id="gBig" x1="0" y1="0" x2="1" y2="0">
 <stop offset="0" stop-color="#5f82c9"/><stop offset="0.35" stop-color="#4a6ebd"/><stop offset="1" stop-color="#3557a6"/>
</linearGradient>
<linearGradient id="gLen" x1="0" y1="0" x2="0" y2="1">
 <stop offset="0" stop-color="#b7b4b3"/><stop offset="1" stop-color="#8d8a89"/>
</linearGradient>
<linearGradient id="gBar" x1="0" y1="0" x2="0" y2="1">
 <stop offset="0" stop-color="#3d5a80" stop-opacity="0"/>
 <stop offset="0.12" stop-color="#2f8a3e"/>
 <stop offset="0.3" stop-color="#a8c03a"/>
 <stop offset="0.42" stop-color="#e9c93c"/>
 <stop offset="0.62" stop-color="#eac83a"/>
 <stop offset="0.78" stop-color="#9cbc38"/>
 <stop offset="0.9" stop-color="#2f8a3e"/>
 <stop offset="1" stop-color="#3d5a80" stop-opacity="0"/>
</linearGradient>
<linearGradient id="gBarG" x1="0" y1="0" x2="0" y2="1">
 <stop offset="0" stop-color="#3d5a80" stop-opacity="0"/>
 <stop offset="0.12" stop-color="#2f8a3e"/>
 <stop offset="0.35" stop-color="#7fae38"/>
 <stop offset="0.5" stop-color="#c8c23a"/>
 <stop offset="0.65" stop-color="#7fae38"/>
 <stop offset="0.88" stop-color="#2f8a3e"/>
 <stop offset="1" stop-color="#3d5a80" stop-opacity="0"/>
</linearGradient>
<filter id="fb1" x="-50%" y="-50%" width="200%" height="200%"><feGaussianBlur stdDeviation="0.9"/></filter>
<filter id="fb3" x="-50%" y="-50%" width="200%" height="200%"><feGaussianBlur stdDeviation="3"/></filter>
</defs>
<rect x="73" y="609.8" width="52.5" height="75.8" fill="url(#gLab)"/>
<text x="0" y="0" transform="translate(111.4,647.7) rotate(-90)" font-family="Liberation Sans, Arial, sans-serif" font-size="32.5" text-anchor="middle" fill="#f4f6fb" textLength="49.9" lengthAdjust="spacingAndGlyphs">190</text>
<rect x="73" y="709.9" width="52.5" height="77.3" fill="url(#gLab)"/>
<text x="0" y="0" transform="translate(111.4,748.55) rotate(-90)" font-family="Liberation Sans, Arial, sans-serif" font-size="32.5" text-anchor="middle" fill="#f4f6fb" textLength="49.9" lengthAdjust="spacingAndGlyphs">170</text>
<rect x="73" y="808.5" width="52.5" height="77.1" fill="url(#gLab)"/>
<text x="0" y="0" transform="translate(111.4,847.05) rotate(-90)" font-family="Liberation Sans, Arial, sans-serif" font-size="32.5" text-anchor="middle" fill="#f4f6fb" textLength="49.9" lengthAdjust="spacingAndGlyphs">150</text>
<rect x="73" y="905.8" width="52.5" height="76.7" fill="url(#gLab)"/>
<text x="0" y="0" transform="translate(111.4,944.15) rotate(-90)" font-family="Liberation Sans, Arial, sans-serif" font-size="32.5" text-anchor="middle" fill="#f4f6fb" textLength="49.9" lengthAdjust="spacingAndGlyphs">130</text>
<rect x="1.6" y="663" width="55.9" height="257.3" fill="url(#gBig)"/>
<text x="0" y="0" transform="translate(38.8,791.65) rotate(-90)" font-family="Liberation Sans, Arial, sans-serif" font-size="31" font-weight="bold" text-anchor="middle" fill="#f6f8fc">Distance <tspan font-style="italic">D</tspan> (nm)</text>
<rect x="134.6" y="603.5" width="86.9" height="87.5" fill="#3d4f95"/>
<rect x="183.41" y="640.88" width="11" height="32" fill="url(#gBar)" filter="url(#fb1)"/>
<rect x="234.2" y="604" width="87.3" height="87.5" fill="#3d4f95"/>
<rect x="283.26" y="641.38" width="11" height="32" fill="url(#gBar)" filter="url(#fb1)"/>
<rect x="335.2" y="604.2" width="87.9" height="87.3" fill="#3d4f95"/>
<rect x="384.64" y="641.45" width="11" height="32" fill="url(#gBar)" filter="url(#fb1)"/>
<rect x="437.3" y="604.2" width="86.9" height="87.5" fill="#3d4f95"/>
<rect x="486.11" y="641.58" width="11" height="32" fill="url(#gBar)" filter="url(#fb1)"/>
<rect x="535.6" y="605" width="86.1" height="87.7" fill="#3d4f95"/>
<rect x="583.91" y="642.5" width="11" height="32" fill="url(#gBar)" filter="url(#fb1)"/>
<rect x="636.7" y="604" width="86" height="87.5" fill="#3d4f95"/>
<rect x="684.95" y="641.38" width="11" height="32" fill="url(#gBar)" filter="url(#fb1)"/>
<rect x="136.3" y="704.2" width="81.6" height="87.3" fill="#3d4f95"/>
<rect x="181.8" y="741.45" width="11" height="32" fill="url(#gBar)" filter="url(#fb1)"/>
<rect x="236" y="705.6" width="83.4" height="86.9" fill="#3d4f95"/>
<rect x="282.62" y="742.61" width="11" height="32" fill="url(#gBar)" filter="url(#fb1)"/>
<rect x="338.1" y="704.6" width="83.4" height="87.5" fill="#3d4f95"/>
<rect x="384.73" y="741.98" width="11" height="32" fill="url(#gBar)" filter="url(#fb1)"/>
<rect x="438.3" y="705.2" width="81.7" height="86.9" fill="#3d4f95"/>
<rect x="483.86" y="742.21" width="11" height="32" fill="url(#gBar)" filter="url(#fb1)"/>
<rect x="536.7" y="705.2" width="81.8" height="86.8" fill="#3d4f95"/>
<rect x="582.33" y="742.15" width="11" height="32" fill="url(#gBar)" filter="url(#fb1)"/>
<rect x="637.1" y="705.2" width="82.9" height="86.8" fill="#3d4f95"/>
<rect x="683.41" y="742.15" width="11" height="32" fill="url(#gBar)" filter="url(#fb1)"/>
<rect x="137.1" y="803.8" width="78.3" height="87.7" fill="#3d4f95"/>
<rect x="180.54" y="841.3" width="11" height="32" fill="url(#gBar)" filter="url(#fb1)"/>
<rect x="237.7" y="803.8" width="79.2" height="87.7" fill="#3d4f95"/>
<rect x="281.7" y="841.3" width="11" height="32" fill="url(#gBar)" filter="url(#fb1)"/>
<rect x="338.3" y="803.8" width="80.7" height="87.7" fill="#3d4f95"/>
<rect x="383.24" y="841.3" width="11" height="32" fill="url(#gBar)" filter="url(#fb1)"/>
<rect x="439.8" y="802.9" width="80.2" height="87.9" fill="#3d4f95"/>
<rect x="484.43" y="840.52" width="11" height="32" fill="url(#gBar)" filter="url(#fb1)"/>
<rect x="537.7" y="803.3" width="80.2" height="88" fill="#3d4f95"/>
<rect x="582.33" y="840.98" width="11" height="32" fill="url(#gBar)" filter="url(#fb1)"/>
<rect x="639.2" y="802.7" width="80.2" height="88.1" fill="#3d4f95"/>
<rect x="683.83" y="840.44" width="11" height="32" fill="url(#gBarG)" filter="url(#fb1)"/>
<rect x="138.3" y="899.6" width="77.5" height="88.1" fill="#3d4f95"/>
<rect x="181.24" y="937.34" width="11" height="32" fill="url(#gBar)" filter="url(#fb1)"/>
<rect x="238.1" y="900.2" width="77.3" height="88.1" fill="#3d4f95"/>
<rect x="280.91" y="937.94" width="11" height="32" fill="url(#gBar)" filter="url(#fb1)"/>
<rect x="340.2" y="899.6" width="77.7" height="88.1" fill="#3d4f95"/>
<rect x="383.26" y="937.34" width="11" height="32" fill="url(#gBar)" filter="url(#fb1)"/>
<rect x="440.2" y="900.2" width="77.1" height="88.1" fill="#3d4f95"/>
<rect x="482.89" y="937.94" width="11" height="32" fill="url(#gBarG)" filter="url(#fb1)"/>
<rect x="539.2" y="900.2" width="77.05" height="88.1" fill="#3d4f95"/>
<rect x="581.86" y="937.94" width="11" height="32" fill="url(#gBarG)" filter="url(#fb1)"/>
<rect x="639.8" y="899.8" width="77.5" height="87.9" fill="#3d4f95"/>
<rect x="682.74" y="937.42" width="11" height="32" fill="url(#gBarG)" filter="url(#fb1)"/>
<rect x="133.5" y="993.1" width="88.6" height="53.6" fill="#7f7b7a"/>
<text x="177.8" y="1030" font-family="Liberation Sans, Arial, sans-serif" font-size="31.83" text-anchor="middle" fill="#f5f5f5">75</text>
<rect x="233.5" y="993.1" width="88.6" height="53.6" fill="#7f7b7a"/>
<text x="277.8" y="1030" font-family="Liberation Sans, Arial, sans-serif" font-size="31.36" text-anchor="middle" fill="#f5f5f5">95</text>
<rect x="335.6" y="993.1" width="88.15" height="53.6" fill="#7f7b7a"/>
<text x="379.68" y="1030" font-family="Liberation Sans, Arial, sans-serif" font-size="31.83" text-anchor="middle" fill="#f5f5f5">115</text>
<rect x="435.6" y="993.1" width="88.15" height="53.6" fill="#7f7b7a"/>
<text x="479.68" y="1030" font-family="Liberation Sans, Arial, sans-serif" font-size="31.36" text-anchor="middle" fill="#f5f5f5">135</text>
<rect x="534.2" y="993.1" width="88.3" height="53.6" fill="#7f7b7a"/>
<text x="578.35" y="1030" font-family="Liberation Sans, Arial, sans-serif" font-size="31.83" text-anchor="middle" fill="#f5f5f5">155</text>
<rect x="635.6" y="993.1" width="87.9" height="53.6" fill="#7f7b7a"/>
<text x="679.55" y="1030" font-family="Liberation Sans, Arial, sans-serif" font-size="31.83" text-anchor="middle" fill="#f5f5f5">175</text>
<rect x="299.3" y="1060.2" width="231.9" height="57.5" fill="url(#gLen)"/>
<text x="416.1" y="1099.4" font-family="Liberation Sans, Arial, sans-serif" font-size="30.5" font-weight="bold" text-anchor="middle" fill="#fbfbfb">Length <tspan font-style="italic" font-weight="normal">L</tspan> (nm)</text>
<rect x="77.2" y="1232.3" width="53.7" height="77.1" fill="url(#gLab)"/>
<text x="0" y="0" transform="translate(116.8,1270.85) rotate(-90)" font-family="Liberation Sans, Arial, sans-serif" font-size="32.5" text-anchor="middle" fill="#f4f6fb" textLength="49.9" lengthAdjust="spacingAndGlyphs">190</text>
<rect x="77.2" y="1326.9" width="53.7" height="76.85" fill="url(#gLab)"/>
<text x="0" y="0" transform="translate(116.8,1365.33) rotate(-90)" font-family="Liberation Sans, Arial, sans-serif" font-size="32.5" text-anchor="middle" fill="#f4f6fb" textLength="49.9" lengthAdjust="spacingAndGlyphs">170</text>
<rect x="77.2" y="1420.8" width="53.7" height="75" fill="url(#gLab)"/>
<text x="0" y="0" transform="translate(116.8,1458.3) rotate(-90)" font-family="Liberation Sans, Arial, sans-serif" font-size="32.5" text-anchor="middle" fill="#f4f6fb" textLength="49.9" lengthAdjust="spacingAndGlyphs">150</text>
<rect x="77.2" y="1514.6" width="53.7" height="76.65" fill="url(#gLab)"/>
<text x="0" y="0" transform="translate(116.8,1552.92) rotate(-90)" font-family="Liberation Sans, Arial, sans-serif" font-size="32.5" text-anchor="middle" fill="#f4f6fb" textLength="49.9" lengthAdjust="spacingAndGlyphs">130</text>
<rect x="10.3" y="1277.7" width="56.5" height="257.3" fill="url(#gBig)"/>
<text x="0" y="0" transform="translate(45.5,1406.35) rotate(-90)" font-family="Liberation Sans, Arial, sans-serif" font-size="31" font-weight="bold" text-anchor="middle" fill="#f6f8fc">Distance <tspan font-style="italic">D</tspan> (nm)</text>
<rect x="136.9" y="1602.9" width="88.5" height="53.6" fill="#7f7b7a"/>
<text x="181.15" y="1640.8" font-family="Liberation Sans, Arial, sans-serif" font-size="32.12" text-anchor="middle" fill="#f5f5f5">75</text>
<rect x="232.7" y="1602.9" width="88.3" height="53.6" fill="#7f7b7a"/>
<text x="276.85" y="1640.8" font-family="Liberation Sans, Arial, sans-serif" font-size="31.65" text-anchor="middle" fill="#f5f5f5">95</text>
<rect x="329.2" y="1602.9" width="88.2" height="53.6" fill="#7f7b7a"/>
<text x="373.3" y="1640.8" font-family="Liberation Sans, Arial, sans-serif" font-size="32.12" text-anchor="middle" fill="#f5f5f5">115</text>
<rect x="426.9" y="1602.9" width="88.5" height="53.6" fill="#7f7b7a"/>
<text x="471.15" y="1640.8" font-family="Liberation Sans, Arial, sans-serif" font-size="31.65" text-anchor="middle" fill="#f5f5f5">135</text>
<rect x="524.9" y="1602.9" width="88.2" height="53.6" fill="#7f7b7a"/>
<text x="569" y="1640.8" font-family="Liberation Sans, Arial, sans-serif" font-size="32.12" text-anchor="middle" fill="#f5f5f5">155</text>
<rect x="625.7" y="1602.9" width="88.2" height="53.6" fill="#7f7b7a"/>
<text x="669.8" y="1640.8" font-family="Liberation Sans, Arial, sans-serif" font-size="32.12" text-anchor="middle" fill="#f5f5f5">175</text>
<rect x="292.3" y="1671.1" width="232.6" height="56.4" fill="url(#gLen)"/>
<text x="408.1" y="1710.3" font-family="Liberation Sans, Arial, sans-serif" font-size="30.5" font-weight="bold" text-anchor="middle" fill="#fbfbfb">Length <tspan font-style="italic" font-weight="normal">L</tspan> (nm)</text>
<filter id="cmD" x="0" y="0" width="1" height="1" color-interpolation-filters="sRGB">
<feGaussianBlur stdDeviation="1.2 0"/>
<feComponentTransfer><feFuncR type="table" tableValues="0.227 0.229 0.231 0.232 0.234 0.235 0.242 0.248 0.254 0.26 0.267 0.271 0.276 0.28 0.278 0.271 0.263 0.255 0.276 0.326 0.376 0.427 0.477 0.502 0.502 0.502 0.502 0.502 0.5 0.497 0.494 0.49 0.48 0.47 0.46 0.449 0.439 0.432 0.425 0.418 0.411 0.404 0.397 0.39 0.383 0.376 0.399 0.422 0.445 0.468 0.492 0.515 0.538 0.563 0.592 0.621 0.65 0.678 0.707 0.736 0.764 0.792 0.82 0.849 0.876 0.904 0.931 0.959 0.973 0.973 0.973 0.973 0.973 0.97 0.966 0.961 0.957 0.945 0.933 0.922 0.91 0.907 0.904 0.9 0.897 0.894 0.891 0.888 0.885 0.882 0.878"/><feFuncG type="table" tableValues="0.29 0.295 0.3 0.304 0.309 0.314 0.337 0.361 0.384 0.408 0.431 0.476 0.521 0.566 0.609 0.65 0.691 0.732 0.756 0.762 0.769 0.775 0.781 0.783 0.78 0.776 0.773 0.77 0.765 0.759 0.752 0.745 0.734 0.723 0.712 0.701 0.69 0.69 0.69 0.69 0.69 0.69 0.69 0.69 0.69 0.69 0.698 0.705 0.712 0.719 0.727 0.734 0.741 0.751 0.763 0.775 0.786 0.798 0.81 0.822 0.835 0.847 0.86 0.872 0.882 0.89 0.898 0.906 0.894 0.863 0.831 0.8 0.769 0.735 0.699 0.663 0.627 0.565 0.502 0.439 0.376 0.345 0.314 0.282 0.251 0.22 0.188 0.157 0.125 0.094 0.063"/><feFuncB type="table" tableValues="0.612 0.616 0.621 0.626 0.631 0.635 0.657 0.679 0.701 0.723 0.745 0.779 0.812 0.846 0.873 0.892 0.912 0.931 0.935 0.922 0.91 0.897 0.885 0.861 0.827 0.792 0.758 0.723 0.689 0.655 0.622 0.588 0.508 0.428 0.348 0.268 0.188 0.188 0.188 0.188 0.188 0.188 0.188 0.188 0.188 0.188 0.179 0.169 0.16 0.151 0.141 0.132 0.122 0.108 0.088 0.069 0.049 0.029 0.01 0 0 0 0 0 0 0 0 0 0 0 0 0 0 0 0 0 0 0.016 0.031 0.047 0.063 0.063 0.063 0.063 0.063 0.063 0.063 0.063 0.063 0.063 0.063"/></feComponentTransfer>
</filter>
<defs><linearGradient id="dc0" x1="0" y1="0" x2="0" y2="1"><stop offset="0" stop-color="#a8a8a8"/><stop offset="0.12" stop-color="#aaaaaa"/><stop offset="0.25" stop-color="#acacac"/><stop offset="0.38" stop-color="#b1b1b1"/><stop offset="0.5" stop-color="#b6b6b6"/><stop offset="0.6" stop-color="#b8b8b8"/><stop offset="0.7" stop-color="#bbbbbb"/><stop offset="0.78" stop-color="#bdbdbd"/><stop offset="0.85" stop-color="#bdbdbd"/><stop offset="0.93" stop-color="#bebebe"/><stop offset="1.0" stop-color="#bebebe"/></linearGradient><linearGradient id="dc1" x1="0" y1="0" x2="0" y2="1"><stop offset="0" stop-color="#aaaaaa"/><stop offset="0.12" stop-color="#acacac"/><stop offset="0.25" stop-color="#aeaeae"/><stop offset="0.38" stop-color="#b2b2b2"/><stop offset="0.5" stop-color="#b6b6b6"/><stop offset="0.6" stop-color="#b9b9b9"/><stop offset="0.7" stop-color="#bbbbbb"/><stop offset="0.78" stop-color="#bdbdbd"/><stop offset="0.85" stop-color="#bebebe"/><stop offset="0.93" stop-color="#bebebe"/><stop offset="1.0" stop-color="#bebebe"/></linearGradient><linearGradient id="dc2" x1="0" y1="0" x2="0" y2="1"><stop offset="0" stop-color="#ababab"/><stop offset="0.12" stop-color="#adadad"/><stop offset="0.25" stop-color="#b0b0b0"/><stop offset="0.38" stop-color="#b3b3b3"/><stop offset="0.5" stop-color="#b7b7b7"/><stop offset="0.6" stop-color="#b9b9b9"/><stop offset="0.7" stop-color="#bcbcbc"/><stop offset="0.78" stop-color="#bdbdbd"/><stop offset="0.85" stop-color="#bebebe"/><stop offset="0.93" stop-color="#bfbfbf"/><stop offset="1.0" stop-color="#bfbfbf"/></linearGradient><linearGradient id="dc3" x1="0" y1="0" x2="0" y2="1"><stop offset="0" stop-color="#adadad"/><stop offset="0.12" stop-color="#afafaf"/><stop offset="0.25" stop-color="#b1b1b1"/><stop offset="0.38" stop-color="#b5b5b5"/><stop offset="0.5" stop-color="#b8b8b8"/><stop offset="0.6" stop-color="#bababa"/><stop offset="0.7" stop-color="#bcbcbc"/><stop offset="0.78" stop-color="#bebebe"/><stop offset="0.85" stop-color="#bebebe"/><stop offset="0.93" stop-color="#bfbfbf"/><stop offset="1.0" stop-color="#bfbfbf"/></linearGradient><linearGradient id="dc4" x1="0" y1="0" x2="0" y2="1"><stop offset="0" stop-color="#afafaf"/><stop offset="0.12" stop-color="#b1b1b1"/><stop offset="0.25" stop-color="#b3b3b3"/><stop offset="0.38" stop-color="#b6b6b6"/><stop offset="0.5" stop-color="#b9b9b9"/><stop offset="0.6" stop-color="#bbbbbb"/><stop offset="0.7" stop-color="#bcbcbc"/><stop offset="0.78" stop-color="#bebebe"/><stop offset="0.85" stop-color="#bfbfbf"/><stop offset="0.93" stop-color="#bfbfbf"/><stop offset="1.0" stop-color="#bfbfbf"/></linearGradient><linearGradient id="dc5" x1="0" y1="0" x2="0" y2="1"><stop offset="0" stop-color="#b0b0b0"/><stop offset="0.12" stop-color="#b2b2b2"/><stop offset="0.25" stop-color="#b5b5b5"/><stop offset="0.38" stop-color="#b7b7b7"/><stop offset="0.5" stop-color="#b9b9b9"/><stop offset="0.6" stop-color="#bbbbbb"/><stop offset="0.7" stop-color="#bdbdbd"/><stop offset="0.78" stop-color="#bebebe"/><stop offset="0.85" stop-color="#bfbfbf"/><stop offset="0.93" stop-color="#c0c0c0"/><stop offset="1.0" stop-color="#c0c0c0"/></linearGradient><linearGradient id="dc6" x1="0" y1="0" x2="0" y2="1"><stop offset="0" stop-color="#b2b2b2"/><stop offset="0.12" stop-color="#b4b4b4"/><stop offset="0.25" stop-color="#b6b6b6"/><stop offset="0.38" stop-color="#b8b8b8"/><stop offset="0.5" stop-color="#bababa"/><stop offset="0.6" stop-color="#bcbcbc"/><stop offset="0.7" stop-color="#bdbdbd"/><stop offset="0.78" stop-color="#bebebe"/><stop offset="0.85" stop-color="#bfbfbf"/><stop offset="0.93" stop-color="#c0c0c0"/><stop offset="1.0" stop-color="#c0c0c0"/></linearGradient><linearGradient id="dc7" x1="0" y1="0" x2="0" y2="1"><stop offset="0" stop-color="#b3b3b3"/><stop offset="0.12" stop-color="#b5b5b5"/><stop offset="0.25" stop-color="#b7b7b7"/><stop offset="0.38" stop-color="#b9b9b9"/><stop offset="0.5" stop-color="#bbbbbb"/><stop offset="0.6" stop-color="#bcbcbc"/><stop offset="0.7" stop-color="#bdbdbd"/><stop offset="0.78" stop-color="#bfbfbf"/><stop offset="0.85" stop-color="#c0c0c0"/><stop offset="0.93" stop-color="#c0c0c0"/><stop offset="1.0" stop-color="#c1c1c1"/></linearGradient><linearGradient id="dc8" x1="0" y1="0" x2="0" y2="1"><stop offset="0" stop-color="#b5b5b5"/><stop offset="0.12" stop-color="#b6b6b6"/><stop offset="0.25" stop-color="#b8b8b8"/><stop offset="0.38" stop-color="#bababa"/><stop offset="0.5" stop-color="#bbbbbb"/><stop offset="0.6" stop-color="#bdbdbd"/><stop offset="0.7" stop-color="#bebebe"/><stop offset="0.78" stop-color="#bfbfbf"/><stop offset="0.85" stop-color="#c0c0c0"/><stop offset="0.93" stop-color="#c1c1c1"/><stop offset="1.0" stop-color="#c1c1c1"/></linearGradient><linearGradient id="dc9" x1="0" y1="0" x2="0" y2="1"><stop offset="0" stop-color="#b6b6b6"/><stop offset="0.12" stop-color="#b8b8b8"/><stop offset="0.25" stop-color="#b9b9b9"/><stop offset="0.38" stop-color="#bbbbbb"/><stop offset="0.5" stop-color="#bcbcbc"/><stop offset="0.6" stop-color="#bdbdbd"/><stop offset="0.7" stop-color="#bebebe"/><stop offset="0.78" stop-color="#bfbfbf"/><stop offset="0.85" stop-color="#c0c0c0"/><stop offset="0.93" stop-color="#c1c1c1"/><stop offset="1.0" stop-color="#c1c1c1"/></linearGradient><linearGradient id="dc10" x1="0" y1="0" x2="0" y2="1"><stop offset="0" stop-color="#b8b8b8"/><stop offset="0.12" stop-color="#b9b9b9"/><stop offset="0.25" stop-color="#bababa"/><stop offset="0.38" stop-color="#bcbcbc"/><stop offset="0.5" stop-color="#bdbdbd"/><stop offset="0.6" stop-color="#bebebe"/><stop offset="0.7" stop-color="#bebebe"/><stop offset="0.78" stop-color="#bfbfbf"/><stop offset="0.85" stop-color="#c0c0c0"/><stop offset="0.93" stop-color="#c1c1c1"/><stop offset="1.0" stop-color="#c2c2c2"/></linearGradient><linearGradient id="dc11" x1="0" y1="0" x2="0" y2="1"><stop offset="0" stop-color="#b9b9b9"/><stop offset="0.12" stop-color="#bababa"/><stop offset="0.25" stop-color="#bbbbbb"/><stop offset="0.38" stop-color="#bcbcbc"/><stop offset="0.5" stop-color="#bebebe"/><stop offset="0.6" stop-color="#bebebe"/><stop offset="0.7" stop-color="#bfbfbf"/><stop offset="0.78" stop-color="#c0c0c0"/><stop offset="0.85" stop-color="#c1c1c1"/><stop offset="0.93" stop-color="#c2c2c2"/><stop offset="1.0" stop-color="#c2c2c2"/></linearGradient><linearGradient id="dc12" x1="0" y1="0" x2="0" y2="1"><stop offset="0" stop-color="#bababa"/><stop offset="0.12" stop-color="#bbbbbb"/><stop offset="0.25" stop-color="#bcbcbc"/><stop offset="0.38" stop-color="#bdbdbd"/><stop offset="0.5" stop-color="#bebebe"/><stop offset="0.6" stop-color="#bfbfbf"/><stop offset="0.7" stop-color="#bfbfbf"/><stop offset="0.78" stop-color="#c0c0c0"/><stop offset="0.85" stop-color="#c1c1c1"/><stop offset="0.93" stop-color="#c2c2c2"/><stop offset="1.0" stop-color="#c3c3c3"/></linearGradient><linearGradient id="dc13" x1="0" y1="0" x2="0" y2="1"><stop offset="0" stop-color="#bbbbbb"/><stop offset="0.12" stop-color="#bcbcbc"/><stop offset="0.25" stop-color="#bdbdbd"/><stop offset="0.38" stop-color="#bebebe"/><stop offset="0.5" stop-color="#bfbfbf"/><stop offset="0.6" stop-color="#bfbfbf"/><stop offset="0.7" stop-color="#bfbfbf"/><stop offset="0.78" stop-color="#c0c0c0"/><stop offset="0.85" stop-color="#c1c1c1"/><stop offset="0.93" stop-color="#c3c3c3"/><stop offset="1.0" stop-color="#c4c4c4"/></linearGradient><linearGradient id="dc14" x1="0" y1="0" x2="0" y2="1"><stop offset="0" stop-color="#bbbbbb"/><stop offset="0.12" stop-color="#bcbcbc"/><stop offset="0.25" stop-color="#bdbdbd"/><stop offset="0.38" stop-color="#bebebe"/><stop offset="0.5" stop-color="#bfbfbf"/><stop offset="0.6" stop-color="#bfbfbf"/><stop offset="0.7" stop-color="#c0c0c0"/><stop offset="0.78" stop-color="#c1c1c1"/><stop offset="0.85" stop-color="#c2c2c2"/><stop offset="0.93" stop-color="#c4c4c4"/><stop offset="1.0" stop-color="#c5c5c5"/></linearGradient><linearGradient id="dc15" x1="0" y1="0" x2="0" y2="1"><stop offset="0" stop-color="#bcbcbc"/><stop offset="0.12" stop-color="#bdbdbd"/><stop offset="0.25" stop-color="#bebebe"/><stop offset="0.38" stop-color="#bfbfbf"/><stop offset="0.5" stop-color="#bfbfbf"/><stop offset="0.6" stop-color="#c0c0c0"/><stop offset="0.7" stop-color="#c0c0c0"/><stop offset="0.78" stop-color="#c1c1c1"/><stop offset="0.85" stop-color="#c3c3c3"/><stop offset="0.93" stop-color="#c5c5c5"/><stop offset="1.0" stop-color="#c6c6c6"/></linearGradient><linearGradient id="dc16" x1="0" y1="0" x2="0" y2="1"><stop offset="0" stop-color="#bcbcbc"/><stop offset="0.12" stop-color="#bebebe"/><stop offset="0.25" stop-color="#bfbfbf"/><stop offset="0.38" stop-color="#bfbfbf"/><stop offset="0.5" stop-color="#c0c0c0"/><stop offset="0.6" stop-color="#c0c0c0"/><stop offset="0.7" stop-color="#c0c0c0"/><stop offset="0.78" stop-color="#c1c1c1"/><stop offset="0.85" stop-color="#c4c4c4"/><stop offset="0.93" stop-color="#c7c7c7"/><stop offset="1.0" stop-color="#c7c7c7"/></linearGradient><linearGradient id="dc17" x1="0" y1="0" x2="0" y2="1"><stop offset="0" stop-color="#bdbdbd"/><stop offset="0.12" stop-color="#bebebe"/><stop offset="0.25" stop-color="#c0c0c0"/><stop offset="0.38" stop-color="#c0c0c0"/><stop offset="0.5" stop-color="#c0c0c0"/><stop offset="0.6" stop-color="#c0c0c0"/><stop offset="0.7" stop-color="#c0c0c0"/><stop offset="0.78" stop-color="#c2c2c2"/><stop offset="0.85" stop-color="#c5c5c5"/><stop offset="0.93" stop-color="#c8c8c8"/><stop offset="1.0" stop-color="#c8c8c8"/></linearGradient><linearGradient id="dc18" x1="0" y1="0" x2="0" y2="1"><stop offset="0" stop-color="#bdbdbd"/><stop offset="0.12" stop-color="#bfbfbf"/><stop offset="0.25" stop-color="#c0c0c0"/><stop offset="0.38" stop-color="#c0c0c0"/><stop offset="0.5" stop-color="#c1c1c1"/><stop offset="0.6" stop-color="#c1c1c1"/><stop offset="0.7" stop-color="#c1c1c1"/><stop offset="0.78" stop-color="#c2c2c2"/><stop offset="0.85" stop-color="#c6c6c6"/><stop offset="0.93" stop-color="#c9c9c9"/><stop offset="1.0" stop-color="#c9c9c9"/></linearGradient><linearGradient id="dc19" x1="0" y1="0" x2="0" y2="1"><stop offset="0" stop-color="#bebebe"/><stop offset="0.12" stop-color="#bfbfbf"/><stop offset="0.25" stop-color="#c0c0c0"/><stop offset="0.38" stop-color="#c1c1c1"/><stop offset="0.5" stop-color="#c1c1c1"/><stop offset="0.6" stop-color="#c1c1c1"/><stop offset="0.7" stop-color="#c2c2c2"/><stop offset="0.78" stop-color="#c4c4c4"/><stop offset="0.85" stop-color="#c8c8c8"/><stop offset="0.93" stop-color="#cbcbcb"/><stop offset="1.0" stop-color="#cccccc"/></linearGradient><linearGradient id="dc20" x1="0" y1="0" x2="0" y2="1"><stop offset="0" stop-color="#bfbfbf"/><stop offset="0.12" stop-color="#c0c0c0"/><stop offset="0.25" stop-color="#c1c1c1"/><stop offset="0.38" stop-color="#c1c1c1"/><stop offset="0.5" stop-color="#c2c2c2"/><stop offset="0.6" stop-color="#c2c2c2"/><stop offset="0.7" stop-color="#c3c3c3"/><stop offset="0.78" stop-color="#c5c5c5"/><stop offset="0.85" stop-color="#c9c9c9"/><stop offset="0.93" stop-color="#cccccc"/><stop offset="1.0" stop-color="#cecece"/></linearGradient><linearGradient id="dc21" x1="0" y1="0" x2="0" y2="1"><stop offset="0" stop-color="#bfbfbf"/><stop offset="0.12" stop-color="#c0c0c0"/><stop offset="0.25" stop-color="#c1c1c1"/><stop offset="0.38" stop-color="#c2c2c2"/><stop offset="0.5" stop-color="#c2c2c2"/><stop offset="0.6" stop-color="#c3c3c3"/><stop offset="0.7" stop-color="#c4c4c4"/><stop offset="0.78" stop-color="#c6c6c6"/><stop offset="0.85" stop-color="#cacaca"/><stop offset="0.93" stop-color="#cecece"/><stop offset="1.0" stop-color="#d0d0d0"/></linearGradient><linearGradient id="dc22" x1="0" y1="0" x2="0" y2="1"><stop offset="0" stop-color="#bfbfbf"/><stop offset="0.12" stop-color="#c0c0c0"/><stop offset="0.25" stop-color="#c1c1c1"/><stop offset="0.38" stop-color="#c2c2c2"/><stop offset="0.5" stop-color="#c3c3c3"/><stop offset="0.6" stop-color="#c4c4c4"/><stop offset="0.7" stop-color="#c5c5c5"/><stop offset="0.78" stop-color="#c7c7c7"/><stop offset="0.85" stop-color="#cccccc"/><stop offset="0.93" stop-color="#d0d0d0"/><stop offset="1.0" stop-color="#d2d2d2"/></linearGradient><linearGradient id="dc23" x1="0" y1="0" x2="0" y2="1"><stop offset="0" stop-color="#c0c0c0"/><stop offset="0.12" stop-color="#c1c1c1"/><stop offset="0.25" stop-color="#c2c2c2"/><stop offset="0.38" stop-color="#c3c3c3"/><stop offset="0.5" stop-color="#c4c4c4"/><stop offset="0.6" stop-color="#c5c5c5"/><stop offset="0.7" stop-color="#c6c6c6"/><stop offset="0.78" stop-color="#c8c8c8"/><stop offset="0.85" stop-color="#cdcdcd"/><stop offset="0.93" stop-color="#d2d2d2"/><stop offset="1.0" stop-color="#d4d4d4"/></linearGradient><linearGradient id="dc24" x1="0" y1="0" x2="0" y2="1"><stop offset="0" stop-color="#c0c0c0"/><stop offset="0.12" stop-color="#c1c1c1"/><stop offset="0.25" stop-color="#c2c2c2"/><stop offset="0.38" stop-color="#c4c4c4"/><stop offset="0.5" stop-color="#c5c5c5"/><stop offset="0.6" stop-color="#c6c6c6"/><stop offset="0.7" stop-color="#c7c7c7"/><stop offset="0.78" stop-color="#c9c9c9"/><stop offset="0.85" stop-color="#cfcfcf"/><stop offset="0.93" stop-color="#d3d3d3"/><stop offset="1.0" stop-color="#d6d6d6"/></linearGradient><linearGradient id="dc25" x1="0" y1="0" x2="0" y2="1"><stop offset="0" stop-color="#c0c0c0"/><stop offset="0.12" stop-color="#c1c1c1"/><stop offset="0.25" stop-color="#c2c2c2"/><stop offset="0.38" stop-color="#c4c4c4"/><stop offset="0.5" stop-color="#c6c6c6"/><stop offset="0.6" stop-color="#c7c7c7"/><stop offset="0.7" stop-color="#c8c8c8"/><stop offset="0.78" stop-color="#cbcbcb"/><stop offset="0.85" stop-color="#d0d0d0"/><stop offset="0.93" stop-color="#d5d5d5"/><stop offset="1.0" stop-color="#d8d8d8"/></linearGradient><linearGradient id="dc26" x1="0" y1="0" x2="0" y2="1"><stop offset="0" stop-color="#c0c0c0"/><stop offset="0.12" stop-color="#c1c1c1"/><stop offset="0.25" stop-color="#c3c3c3"/><stop offset="0.38" stop-color="#c5c5c5"/><stop offset="0.5" stop-color="#c7c7c7"/><stop offset="0.6" stop-color="#c8c8c8"/><stop offset="0.7" stop-color="#c9c9c9"/><stop offset="0.78" stop-color="#cccccc"/><stop offset="0.85" stop-color="#d2d2d2"/><stop offset="0.93" stop-color="#d7d7d7"/><stop offset="1.0" stop-color="#dadada"/></linearGradient><linearGradient id="dc27" x1="0" y1="0" x2="0" y2="1"><stop offset="0" stop-color="#c0c0c0"/><stop offset="0.12" stop-color="#c2c2c2"/><stop offset="0.25" stop-color="#c3c3c3"/><stop offset="0.38" stop-color="#c6c6c6"/><stop offset="0.5" stop-color="#c8c8c8"/><stop offset="0.6" stop-color="#c9c9c9"/><stop offset="0.7" stop-color="#cacaca"/><stop offset="0.78" stop-color="#cdcdcd"/><stop offset="0.85" stop-color="#d3d3d3"/><stop offset="0.93" stop-color="#d9d9d9"/><stop offset="1.0" stop-color="#dbdbdb"/></linearGradient><linearGradient id="dc28" x1="0" y1="0" x2="0" y2="1"><stop offset="0" stop-color="#c0c0c0"/><stop offset="0.12" stop-color="#c2c2c2"/><stop offset="0.25" stop-color="#c4c4c4"/><stop offset="0.38" stop-color="#c6c6c6"/><stop offset="0.5" stop-color="#c9c9c9"/><stop offset="0.6" stop-color="#cacaca"/><stop offset="0.7" stop-color="#cbcbcb"/><stop offset="0.78" stop-color="#cfcfcf"/><stop offset="0.85" stop-color="#d5d5d5"/><stop offset="0.93" stop-color="#dadada"/><stop offset="1.0" stop-color="#dddddd"/></linearGradient><linearGradient id="dc29" x1="0" y1="0" x2="0" y2="1"><stop offset="0" stop-color="#c0c0c0"/><stop offset="0.12" stop-color="#c2c2c2"/><stop offset="0.25" stop-color="#c4c4c4"/><stop offset="0.38" stop-color="#c7c7c7"/><stop offset="0.5" stop-color="#cacaca"/><stop offset="0.6" stop-color="#cbcbcb"/><stop offset="0.7" stop-color="#cccccc"/><stop offset="0.78" stop-color="#d0d0d0"/><stop offset="0.85" stop-color="#d6d6d6"/><stop offset="0.93" stop-color="#dcdcdc"/><stop offset="1.0" stop-color="#dfdfdf"/></linearGradient><linearGradient id="dc30" x1="0" y1="0" x2="0" y2="1"><stop offset="0" stop-color="#c0c0c0"/><stop offset="0.12" stop-color="#c2c2c2"/><stop offset="0.25" stop-color="#c4c4c4"/><stop offset="0.38" stop-color="#c7c7c7"/><stop offset="0.5" stop-color="#cacaca"/><stop offset="0.6" stop-color="#cccccc"/><stop offset="0.7" stop-color="#cdcdcd"/><stop offset="0.78" stop-color="#d1d1d1"/><stop offset="0.85" stop-color="#d8d8d8"/><stop offset="0.93" stop-color="#dedede"/><stop offset="1.0" stop-color="#e1e1e1"/></linearGradient><linearGradient id="dc31" x1="0" y1="0" x2="0" y2="1"><stop offset="0" stop-color="#c1c1c1"/><stop offset="0.12" stop-color="#c3c3c3"/><stop offset="0.25" stop-color="#c5c5c5"/><stop offset="0.38" stop-color="#c8c8c8"/><stop offset="0.5" stop-color="#cbcbcb"/><stop offset="0.6" stop-color="#cdcdcd"/><stop offset="0.7" stop-color="#cfcfcf"/><stop offset="0.78" stop-color="#d2d2d2"/><stop offset="0.85" stop-color="#d9d9d9"/><stop offset="0.93" stop-color="#dfdfdf"/><stop offset="1.0" stop-color="#e2e2e2"/></linearGradient><linearGradient id="dc32" x1="0" y1="0" x2="0" y2="1"><stop offset="0" stop-color="#c1c1c1"/><stop offset="0.12" stop-color="#c3c3c3"/><stop offset="0.25" stop-color="#c5c5c5"/><stop offset="0.38" stop-color="#c8c8c8"/><stop offset="0.5" stop-color="#cbcbcb"/><stop offset="0.6" stop-color="#cecece"/><stop offset="0.7" stop-color="#d0d0d0"/><stop offset="0.78" stop-color="#d4d4d4"/><stop offset="0.85" stop-color="#dadada"/><stop offset="0.93" stop-color="#e1e1e1"/><stop offset="1.0" stop-color="#e4e4e4"/></linearGradient><linearGradient id="dc33" x1="0" y1="0" x2="0" y2="1"><stop offset="0" stop-color="#c1c1c1"/><stop offset="0.12" stop-color="#c3c3c3"/><stop offset="0.25" stop-color="#c6c6c6"/><stop offset="0.38" stop-color="#c9c9c9"/><stop offset="0.5" stop-color="#cccccc"/><stop offset="0.6" stop-color="#cecece"/><stop offset="0.7" stop-color="#d1d1d1"/><stop offset="0.78" stop-color="#d5d5d5"/><stop offset="0.85" stop-color="#dcdcdc"/><stop offset="0.93" stop-color="#e2e2e2"/><stop offset="1.0" stop-color="#e6e6e6"/></linearGradient><linearGradient id="dc34" x1="0" y1="0" x2="0" y2="1"><stop offset="0" stop-color="#c1c1c1"/><stop offset="0.12" stop-color="#c3c3c3"/><stop offset="0.25" stop-color="#c6c6c6"/><stop offset="0.38" stop-color="#c9c9c9"/><stop offset="0.5" stop-color="#cdcdcd"/><stop offset="0.6" stop-color="#cfcfcf"/><stop offset="0.7" stop-color="#d2d2d2"/><stop offset="0.78" stop-color="#d6d6d6"/><stop offset="0.85" stop-color="#dddddd"/><stop offset="0.93" stop-color="#e4e4e4"/><stop offset="1.0" stop-color="#e7e7e7"/></linearGradient><linearGradient id="dc35" x1="0" y1="0" x2="0" y2="1"><stop offset="0" stop-color="#c1c1c1"/><stop offset="0.12" stop-color="#c4c4c4"/><stop offset="0.25" stop-color="#c7c7c7"/><stop offset="0.38" stop-color="#cacaca"/><stop offset="0.5" stop-color="#cdcdcd"/><stop offset="0.6" stop-color="#d0d0d0"/><stop offset="0.7" stop-color="#d3d3d3"/><stop offset="0.78" stop-color="#d8d8d8"/><stop offset="0.85" stop-color="#dfdfdf"/><stop offset="0.93" stop-color="#e5e5e5"/><stop offset="1.0" stop-color="#e9e9e9"/></linearGradient><linearGradient id="dc36" x1="0" y1="0" x2="0" y2="1"><stop offset="0" stop-color="#c1c1c1"/><stop offset="0.12" stop-color="#c4c4c4"/><stop offset="0.25" stop-color="#c7c7c7"/><stop offset="0.38" stop-color="#cacaca"/><stop offset="0.5" stop-color="#cecece"/><stop offset="0.6" stop-color="#d1d1d1"/><stop offset="0.7" stop-color="#d5d5d5"/><stop offset="0.78" stop-color="#d9d9d9"/><stop offset="0.85" stop-color="#e0e0e0"/><stop offset="0.93" stop-color="#e7e7e7"/><stop offset="1.0" stop-color="#ebebeb"/></linearGradient><linearGradient id="dc37" x1="0" y1="0" x2="0" y2="1"><stop offset="0" stop-color="#c1c1c1"/><stop offset="0.12" stop-color="#c4c4c4"/><stop offset="0.25" stop-color="#c7c7c7"/><stop offset="0.38" stop-color="#cbcbcb"/><stop offset="0.5" stop-color="#cecece"/><stop offset="0.6" stop-color="#d2d2d2"/><stop offset="0.7" stop-color="#d6d6d6"/><stop offset="0.78" stop-color="#dbdbdb"/><stop offset="0.85" stop-color="#e1e1e1"/><stop offset="0.93" stop-color="#e8e8e8"/><stop offset="1.0" stop-color="#ececec"/></linearGradient><linearGradient id="dc38" x1="0" y1="0" x2="0" y2="1"><stop offset="0" stop-color="#c2c2c2"/><stop offset="0.12" stop-color="#c5c5c5"/><stop offset="0.25" stop-color="#c8c8c8"/><stop offset="0.38" stop-color="#cbcbcb"/><stop offset="0.5" stop-color="#cfcfcf"/><stop offset="0.6" stop-color="#d3d3d3"/><stop offset="0.7" stop-color="#d7d7d7"/><stop offset="0.78" stop-color="#dcdcdc"/><stop offset="0.85" stop-color="#e2e2e2"/><stop offset="0.93" stop-color="#e8e8e8"/><stop offset="1.0" stop-color="#ececec"/></linearGradient><linearGradient id="dc39" x1="0" y1="0" x2="0" y2="1"><stop offset="0" stop-color="#c2c2c2"/><stop offset="0.12" stop-color="#c5c5c5"/><stop offset="0.25" stop-color="#c8c8c8"/><stop offset="0.38" stop-color="#cccccc"/><stop offset="0.5" stop-color="#d0d0d0"/><stop offset="0.6" stop-color="#d4d4d4"/><stop offset="0.7" stop-color="#d9d9d9"/><stop offset="0.78" stop-color="#dddddd"/><stop offset="0.85" stop-color="#e3e3e3"/><stop offset="0.93" stop-color="#e8e8e8"/><stop offset="1.0" stop-color="#ececec"/></linearGradient><linearGradient id="dc40" x1="0" y1="0" x2="0" y2="1"><stop offset="0" stop-color="#c2c2c2"/><stop offset="0.12" stop-color="#c5c5c5"/><stop offset="0.25" stop-color="#c9c9c9"/><stop offset="0.38" stop-color="#cdcdcd"/><stop offset="0.5" stop-color="#d0d0d0"/><stop offset="0.6" stop-color="#d5d5d5"/><stop offset="0.7" stop-color="#dadada"/><stop offset="0.78" stop-color="#dedede"/><stop offset="0.85" stop-color="#e3e3e3"/><stop offset="0.93" stop-color="#e9e9e9"/><stop offset="1.0" stop-color="#ededed"/></linearGradient><linearGradient id="dc41" x1="0" y1="0" x2="0" y2="1"><stop offset="0" stop-color="#c2c2c2"/><stop offset="0.12" stop-color="#c5c5c5"/><stop offset="0.25" stop-color="#c9c9c9"/><stop offset="0.38" stop-color="#cdcdcd"/><stop offset="0.5" stop-color="#d1d1d1"/><stop offset="0.6" stop-color="#d6d6d6"/><stop offset="0.7" stop-color="#dbdbdb"/><stop offset="0.78" stop-color="#dfdfdf"/><stop offset="0.85" stop-color="#e4e4e4"/><stop offset="0.93" stop-color="#e9e9e9"/><stop offset="1.0" stop-color="#ededed"/></linearGradient><linearGradient id="dc42" x1="0" y1="0" x2="0" y2="1"><stop offset="0" stop-color="#c2c2c2"/><stop offset="0.12" stop-color="#c5c5c5"/><stop offset="0.25" stop-color="#c9c9c9"/><stop offset="0.38" stop-color="#cecece"/><stop offset="0.5" stop-color="#d2d2d2"/><stop offset="0.6" stop-color="#d7d7d7"/><stop offset="0.7" stop-color="#dbdbdb"/><stop offset="0.78" stop-color="#e0e0e0"/><stop offset="0.85" stop-color="#e5e5e5"/><stop offset="0.93" stop-color="#eaeaea"/><stop offset="1.0" stop-color="#eeeeee"/></linearGradient><linearGradient id="dc43" x1="0" y1="0" x2="0" y2="1"><stop offset="0" stop-color="#c2c2c2"/><stop offset="0.12" stop-color="#c6c6c6"/><stop offset="0.25" stop-color="#cacaca"/><stop offset="0.38" stop-color="#cecece"/><stop offset="0.5" stop-color="#d3d3d3"/><stop offset="0.6" stop-color="#d7d7d7"/><stop offset="0.7" stop-color="#dcdcdc"/><stop offset="0.78" stop-color="#e1e1e1"/><stop offset="0.85" stop-color="#e5e5e5"/><stop offset="0.93" stop-color="#eaeaea"/><stop offset="1.0" stop-color="#eeeeee"/></linearGradient><linearGradient id="dc44" x1="0" y1="0" x2="0" y2="1"><stop offset="0" stop-color="#c2c2c2"/><stop offset="0.12" stop-color="#c6c6c6"/><stop offset="0.25" stop-color="#cacaca"/><stop offset="0.38" stop-color="#cfcfcf"/><stop offset="0.5" stop-color="#d3d3d3"/><stop offset="0.6" stop-color="#d8d8d8"/><stop offset="0.7" stop-color="#dddddd"/><stop offset="0.78" stop-color="#e2e2e2"/><stop offset="0.85" stop-color="#e6e6e6"/><stop offset="0.93" stop-color="#ebebeb"/><stop offset="1.0" stop-color="#efefef"/></linearGradient><linearGradient id="dc45" x1="0" y1="0" x2="0" y2="1"><stop offset="0" stop-color="#c2c2c2"/><stop offset="0.12" stop-color="#c6c6c6"/><stop offset="0.25" stop-color="#cacaca"/><stop offset="0.38" stop-color="#cfcfcf"/><stop offset="0.5" stop-color="#d4d4d4"/><stop offset="0.6" stop-color="#d9d9d9"/><stop offset="0.7" stop-color="#dedede"/><stop offset="0.78" stop-color="#e2e2e2"/><stop offset="0.85" stop-color="#e7e7e7"/><stop offset="0.93" stop-color="#ebebeb"/><stop offset="1.0" stop-color="#efefef"/></linearGradient><linearGradient id="dc46" x1="0" y1="0" x2="0" y2="1"><stop offset="0" stop-color="#c2c2c2"/><stop offset="0.12" stop-color="#c6c6c6"/><stop offset="0.25" stop-color="#cacaca"/><stop offset="0.38" stop-color="#d0d0d0"/><stop offset="0.5" stop-color="#d4d4d4"/><stop offset="0.6" stop-color="#d9d9d9"/><stop offset="0.7" stop-color="#dedede"/><stop offset="0.78" stop-color="#e3e3e3"/><stop offset="0.85" stop-color="#e7e7e7"/><stop offset="0.93" stop-color="#ebebeb"/><stop offset="1.0" stop-color="#efefef"/></linearGradient><linearGradient id="dc47" x1="0" y1="0" x2="0" y2="1"><stop offset="0" stop-color="#c2c2c2"/><stop offset="0.12" stop-color="#c6c6c6"/><stop offset="0.25" stop-color="#cacaca"/><stop offset="0.38" stop-color="#cfcfcf"/><stop offset="0.5" stop-color="#d3d3d3"/><stop offset="0.6" stop-color="#d8d8d8"/><stop offset="0.7" stop-color="#dddddd"/><stop offset="0.78" stop-color="#e2e2e2"/><stop offset="0.85" stop-color="#e6e6e6"/><stop offset="0.93" stop-color="#ebebeb"/><stop offset="1.0" stop-color="#efefef"/></linearGradient><linearGradient id="dc48" x1="0" y1="0" x2="0" y2="1"><stop offset="0" stop-color="#c2c2c2"/><stop offset="0.12" stop-color="#c5c5c5"/><stop offset="0.25" stop-color="#cacaca"/><stop offset="0.38" stop-color="#cecece"/><stop offset="0.5" stop-color="#d3d3d3"/><stop offset="0.6" stop-color="#d7d7d7"/><stop offset="0.7" stop-color="#dcdcdc"/><stop offset="0.78" stop-color="#e1e1e1"/><stop offset="0.85" stop-color="#e5e5e5"/><stop offset="0.93" stop-color="#eaeaea"/><stop offset="1.0" stop-color="#eeeeee"/></linearGradient><linearGradient id="dc49" x1="0" y1="0" x2="0" y2="1"><stop offset="0" stop-color="#c1c1c1"/><stop offset="0.12" stop-color="#c5c5c5"/><stop offset="0.25" stop-color="#cacaca"/><stop offset="0.38" stop-color="#cecece"/><stop offset="0.5" stop-color="#d2d2d2"/><stop offset="0.6" stop-color="#d7d7d7"/><stop offset="0.7" stop-color="#dbdbdb"/><stop offset="0.78" stop-color="#e0e0e0"/><stop offset="0.85" stop-color="#e5e5e5"/><stop offset="0.93" stop-color="#eaeaea"/><stop offset="1.0" stop-color="#eeeeee"/></linearGradient><linearGradient id="dc50" x1="0" y1="0" x2="0" y2="1"><stop offset="0" stop-color="#c1c1c1"/><stop offset="0.12" stop-color="#c5c5c5"/><stop offset="0.25" stop-color="#c9c9c9"/><stop offset="0.38" stop-color="#cdcdcd"/><stop offset="0.5" stop-color="#d1d1d1"/><stop offset="0.6" stop-color="#d6d6d6"/><stop offset="0.7" stop-color="#dadada"/><stop offset="0.78" stop-color="#dfdfdf"/><stop offset="0.85" stop-color="#e4e4e4"/><stop offset="0.93" stop-color="#e9e9e9"/><stop offset="1.0" stop-color="#ededed"/></linearGradient><linearGradient id="dc51" x1="0" y1="0" x2="0" y2="1"><stop offset="0" stop-color="#c1c1c1"/><stop offset="0.12" stop-color="#c5c5c5"/><stop offset="0.25" stop-color="#c9c9c9"/><stop offset="0.38" stop-color="#cdcdcd"/><stop offset="0.5" stop-color="#d0d0d0"/><stop offset="0.6" stop-color="#d5d5d5"/><stop offset="0.7" stop-color="#dadada"/><stop offset="0.78" stop-color="#dedede"/><stop offset="0.85" stop-color="#e3e3e3"/><stop offset="0.93" stop-color="#e9e9e9"/><stop offset="1.0" stop-color="#ededed"/></linearGradient><linearGradient id="dc52" x1="0" y1="0" x2="0" y2="1"><stop offset="0" stop-color="#c1c1c1"/><stop offset="0.12" stop-color="#c5c5c5"/><stop offset="0.25" stop-color="#c9c9c9"/><stop offset="0.38" stop-color="#cccccc"/><stop offset="0.5" stop-color="#d0d0d0"/><stop offset="0.6" stop-color="#d4d4d4"/><stop offset="0.7" stop-color="#d8d8d8"/><stop offset="0.78" stop-color="#dddddd"/><stop offset="0.85" stop-color="#e2e2e2"/><stop offset="0.93" stop-color="#e8e8e8"/><stop offset="1.0" stop-color="#ececec"/></linearGradient><linearGradient id="dc53" x1="0" y1="0" x2="0" y2="1"><stop offset="0" stop-color="#c1c1c1"/><stop offset="0.12" stop-color="#c5c5c5"/><stop offset="0.25" stop-color="#c8c8c8"/><stop offset="0.38" stop-color="#cccccc"/><stop offset="0.5" stop-color="#cfcfcf"/><stop offset="0.6" stop-color="#d3d3d3"/><stop offset="0.7" stop-color="#d7d7d7"/><stop offset="0.78" stop-color="#dbdbdb"/><stop offset="0.85" stop-color="#e1e1e1"/><stop offset="0.93" stop-color="#e8e8e8"/><stop offset="1.0" stop-color="#ececec"/></linearGradient><linearGradient id="dc54" x1="0" y1="0" x2="0" y2="1"><stop offset="0" stop-color="#c1c1c1"/><stop offset="0.12" stop-color="#c4c4c4"/><stop offset="0.25" stop-color="#c8c8c8"/><stop offset="0.38" stop-color="#cbcbcb"/><stop offset="0.5" stop-color="#cecece"/><stop offset="0.6" stop-color="#d2d2d2"/><stop offset="0.7" stop-color="#d5d5d5"/><stop offset="0.78" stop-color="#dadada"/><stop offset="0.85" stop-color="#e0e0e0"/><stop offset="0.93" stop-color="#e7e7e7"/><stop offset="1.0" stop-color="#ebebeb"/></linearGradient><linearGradient id="dc55" x1="0" y1="0" x2="0" y2="1"><stop offset="0" stop-color="#c1c1c1"/><stop offset="0.12" stop-color="#c4c4c4"/><stop offset="0.25" stop-color="#c7c7c7"/><stop offset="0.38" stop-color="#cbcbcb"/><stop offset="0.5" stop-color="#cecece"/><stop offset="0.6" stop-color="#d1d1d1"/><stop offset="0.7" stop-color="#d4d4d4"/><stop offset="0.78" stop-color="#d8d8d8"/><stop offset="0.85" stop-color="#dddddd"/><stop offset="0.93" stop-color="#e4e4e4"/><stop offset="1.0" stop-color="#e9e9e9"/></linearGradient><linearGradient id="dc56" x1="0" y1="0" x2="0" y2="1"><stop offset="0" stop-color="#c1c1c1"/><stop offset="0.12" stop-color="#c4c4c4"/><stop offset="0.25" stop-color="#c7c7c7"/><stop offset="0.38" stop-color="#cacaca"/><stop offset="0.5" stop-color="#cdcdcd"/><stop offset="0.6" stop-color="#d0d0d0"/><stop offset="0.7" stop-color="#d2d2d2"/><stop offset="0.78" stop-color="#d6d6d6"/><stop offset="0.85" stop-color="#dbdbdb"/><stop offset="0.93" stop-color="#e0e0e0"/><stop offset="1.0" stop-color="#e5e5e5"/></linearGradient><linearGradient id="dc57" x1="0" y1="0" x2="0" y2="1"><stop offset="0" stop-color="#c1c1c1"/><stop offset="0.12" stop-color="#c3c3c3"/><stop offset="0.25" stop-color="#c6c6c6"/><stop offset="0.38" stop-color="#cacaca"/><stop offset="0.5" stop-color="#cdcdcd"/><stop offset="0.6" stop-color="#cfcfcf"/><stop offset="0.7" stop-color="#d1d1d1"/><stop offset="0.78" stop-color="#d4d4d4"/><stop offset="0.85" stop-color="#d8d8d8"/><stop offset="0.93" stop-color="#dcdcdc"/><stop offset="1.0" stop-color="#e1e1e1"/></linearGradient><linearGradient id="dc58" x1="0" y1="0" x2="0" y2="1"><stop offset="0" stop-color="#c1c1c1"/><stop offset="0.12" stop-color="#c3c3c3"/><stop offset="0.25" stop-color="#c5c5c5"/><stop offset="0.38" stop-color="#c9c9c9"/><stop offset="0.5" stop-color="#cccccc"/><stop offset="0.6" stop-color="#cecece"/><stop offset="0.7" stop-color="#cfcfcf"/><stop offset="0.78" stop-color="#d2d2d2"/><stop offset="0.85" stop-color="#d5d5d5"/><stop offset="0.93" stop-color="#d9d9d9"/><stop offset="1.0" stop-color="#dddddd"/></linearGradient><linearGradient id="dc59" x1="0" y1="0" x2="0" y2="1"><stop offset="0" stop-color="#c0c0c0"/><stop offset="0.12" stop-color="#c2c2c2"/><stop offset="0.25" stop-color="#c5c5c5"/><stop offset="0.38" stop-color="#c8c8c8"/><stop offset="0.5" stop-color="#cccccc"/><stop offset="0.6" stop-color="#cdcdcd"/><stop offset="0.7" stop-color="#cecece"/><stop offset="0.78" stop-color="#d0d0d0"/><stop offset="0.85" stop-color="#d3d3d3"/><stop offset="0.93" stop-color="#d6d6d6"/><stop offset="1.0" stop-color="#dadada"/></linearGradient><linearGradient id="dc60" x1="0" y1="0" x2="0" y2="1"><stop offset="0" stop-color="#bfbfbf"/><stop offset="0.12" stop-color="#c2c2c2"/><stop offset="0.25" stop-color="#c4c4c4"/><stop offset="0.38" stop-color="#c8c8c8"/><stop offset="0.5" stop-color="#cbcbcb"/><stop offset="0.6" stop-color="#cccccc"/><stop offset="0.7" stop-color="#cdcdcd"/><stop offset="0.78" stop-color="#cecece"/><stop offset="0.85" stop-color="#d1d1d1"/><stop offset="0.93" stop-color="#d4d4d4"/><stop offset="1.0" stop-color="#d6d6d6"/></linearGradient><linearGradient id="dc61" x1="0" y1="0" x2="0" y2="1"><stop offset="0" stop-color="#bebebe"/><stop offset="0.12" stop-color="#c1c1c1"/><stop offset="0.25" stop-color="#c3c3c3"/><stop offset="0.38" stop-color="#c7c7c7"/><stop offset="0.5" stop-color="#cbcbcb"/><stop offset="0.6" stop-color="#cbcbcb"/><stop offset="0.7" stop-color="#cbcbcb"/><stop offset="0.78" stop-color="#cdcdcd"/><stop offset="0.85" stop-color="#cfcfcf"/><stop offset="0.93" stop-color="#d2d2d2"/><stop offset="1.0" stop-color="#d3d3d3"/></linearGradient><linearGradient id="dc62" x1="0" y1="0" x2="0" y2="1"><stop offset="0" stop-color="#bebebe"/><stop offset="0.12" stop-color="#c0c0c0"/><stop offset="0.25" stop-color="#c3c3c3"/><stop offset="0.38" stop-color="#c6c6c6"/><stop offset="0.5" stop-color="#cacaca"/><stop offset="0.6" stop-color="#cacaca"/><stop offset="0.7" stop-color="#cacaca"/><stop offset="0.78" stop-color="#cbcbcb"/><stop offset="0.85" stop-color="#cdcdcd"/><stop offset="0.93" stop-color="#cfcfcf"/><stop offset="1.0" stop-color="#d0d0d0"/></linearGradient><linearGradient id="dc63" x1="0" y1="0" x2="0" y2="1"><stop offset="0" stop-color="#bdbdbd"/><stop offset="0.12" stop-color="#bfbfbf"/><stop offset="0.25" stop-color="#c2c2c2"/><stop offset="0.38" stop-color="#c5c5c5"/><stop offset="0.5" stop-color="#c8c8c8"/><stop offset="0.6" stop-color="#c9c9c9"/><stop offset="0.7" stop-color="#c9c9c9"/><stop offset="0.78" stop-color="#c9c9c9"/><stop offset="0.85" stop-color="#cbcbcb"/><stop offset="0.93" stop-color="#cdcdcd"/><stop offset="1.0" stop-color="#cdcdcd"/></linearGradient><linearGradient id="dc64" x1="0" y1="0" x2="0" y2="1"><stop offset="0" stop-color="#bcbcbc"/><stop offset="0.12" stop-color="#bfbfbf"/><stop offset="0.25" stop-color="#c1c1c1"/><stop offset="0.38" stop-color="#c4c4c4"/><stop offset="0.5" stop-color="#c7c7c7"/><stop offset="0.6" stop-color="#c7c7c7"/><stop offset="0.7" stop-color="#c7c7c7"/><stop offset="0.78" stop-color="#c8c8c8"/><stop offset="0.85" stop-color="#c9c9c9"/><stop offset="0.93" stop-color="#cbcbcb"/><stop offset="1.0" stop-color="#cbcbcb"/></linearGradient><linearGradient id="dc65" x1="0" y1="0" x2="0" y2="1"><stop offset="0" stop-color="#bcbcbc"/><stop offset="0.12" stop-color="#bebebe"/><stop offset="0.25" stop-color="#c0c0c0"/><stop offset="0.38" stop-color="#c3c3c3"/><stop offset="0.5" stop-color="#c6c6c6"/><stop offset="0.6" stop-color="#c6c6c6"/><stop offset="0.7" stop-color="#c6c6c6"/><stop offset="0.78" stop-color="#c6c6c6"/><stop offset="0.85" stop-color="#c8c8c8"/><stop offset="0.93" stop-color="#c9c9c9"/><stop offset="1.0" stop-color="#c9c9c9"/></linearGradient><linearGradient id="dc66" x1="0" y1="0" x2="0" y2="1"><stop offset="0" stop-color="#bbbbbb"/><stop offset="0.12" stop-color="#bdbdbd"/><stop offset="0.25" stop-color="#bfbfbf"/><stop offset="0.38" stop-color="#c2c2c2"/><stop offset="0.5" stop-color="#c5c5c5"/><stop offset="0.6" stop-color="#c5c5c5"/><stop offset="0.7" stop-color="#c5c5c5"/><stop offset="0.78" stop-color="#c5c5c5"/><stop offset="0.85" stop-color="#c6c6c6"/><stop offset="0.93" stop-color="#c7c7c7"/><stop offset="1.0" stop-color="#c7c7c7"/></linearGradient><linearGradient id="dc67" x1="0" y1="0" x2="0" y2="1"><stop offset="0" stop-color="#bababa"/><stop offset="0.12" stop-color="#bcbcbc"/><stop offset="0.25" stop-color="#bebebe"/><stop offset="0.38" stop-color="#c1c1c1"/><stop offset="0.5" stop-color="#c4c4c4"/><stop offset="0.6" stop-color="#c4c4c4"/><stop offset="0.7" stop-color="#c3c3c3"/><stop offset="0.78" stop-color="#c4c4c4"/><stop offset="0.85" stop-color="#c5c5c5"/><stop offset="0.93" stop-color="#c6c6c6"/><stop offset="1.0" stop-color="#c5c5c5"/></linearGradient><linearGradient id="dc68" x1="0" y1="0" x2="0" y2="1"><stop offset="0" stop-color="#b9b9b9"/><stop offset="0.12" stop-color="#bbbbbb"/><stop offset="0.25" stop-color="#bdbdbd"/><stop offset="0.38" stop-color="#bfbfbf"/><stop offset="0.5" stop-color="#c2c2c2"/><stop offset="0.6" stop-color="#c2c2c2"/><stop offset="0.7" stop-color="#c2c2c2"/><stop offset="0.78" stop-color="#c2c2c2"/><stop offset="0.85" stop-color="#c4c4c4"/><stop offset="0.93" stop-color="#c4c4c4"/><stop offset="1.0" stop-color="#c3c3c3"/></linearGradient><linearGradient id="dc69" x1="0" y1="0" x2="0" y2="1"><stop offset="0" stop-color="#b7b7b7"/><stop offset="0.12" stop-color="#b9b9b9"/><stop offset="0.25" stop-color="#bcbcbc"/><stop offset="0.38" stop-color="#bdbdbd"/><stop offset="0.5" stop-color="#bfbfbf"/><stop offset="0.6" stop-color="#c0c0c0"/><stop offset="0.7" stop-color="#c0c0c0"/><stop offset="0.78" stop-color="#c1c1c1"/><stop offset="0.85" stop-color="#c2c2c2"/><stop offset="0.93" stop-color="#c3c3c3"/><stop offset="1.0" stop-color="#c2c2c2"/></linearGradient><linearGradient id="dc70" x1="0" y1="0" x2="0" y2="1"><stop offset="0" stop-color="#b4b4b4"/><stop offset="0.12" stop-color="#b7b7b7"/><stop offset="0.25" stop-color="#bababa"/><stop offset="0.38" stop-color="#bbbbbb"/><stop offset="0.5" stop-color="#bdbdbd"/><stop offset="0.6" stop-color="#bebebe"/><stop offset="0.7" stop-color="#bfbfbf"/><stop offset="0.78" stop-color="#c0c0c0"/><stop offset="0.85" stop-color="#c1c1c1"/><stop offset="0.93" stop-color="#c1c1c1"/><stop offset="1.0" stop-color="#c1c1c1"/></linearGradient><linearGradient id="dc71" x1="0" y1="0" x2="0" y2="1"><stop offset="0" stop-color="#b1b1b1"/><stop offset="0.12" stop-color="#b4b4b4"/><stop offset="0.25" stop-color="#b7b7b7"/><stop offset="0.38" stop-color="#b8b8b8"/><stop offset="0.5" stop-color="#bababa"/><stop offset="0.6" stop-color="#bcbcbc"/><stop offset="0.7" stop-color="#bdbdbd"/><stop offset="0.78" stop-color="#bebebe"/><stop offset="0.85" stop-color="#bfbfbf"/><stop offset="0.93" stop-color="#c0c0c0"/><stop offset="1.0" stop-color="#c0c0c0"/></linearGradient><linearGradient id="dc72" x1="0" y1="0" x2="0" y2="1"><stop offset="0" stop-color="#aeaeae"/><stop offset="0.12" stop-color="#b1b1b1"/><stop offset="0.25" stop-color="#b4b4b4"/><stop offset="0.38" stop-color="#b6b6b6"/><stop offset="0.5" stop-color="#b8b8b8"/><stop offset="0.6" stop-color="#b9b9b9"/><stop offset="0.7" stop-color="#bbbbbb"/><stop offset="0.78" stop-color="#bcbcbc"/><stop offset="0.85" stop-color="#bdbdbd"/><stop offset="0.93" stop-color="#bebebe"/><stop offset="1.0" stop-color="#bfbfbf"/></linearGradient><linearGradient id="dc73" x1="0" y1="0" x2="0" y2="1"><stop offset="0" stop-color="#ababab"/><stop offset="0.12" stop-color="#aeaeae"/><stop offset="0.25" stop-color="#b1b1b1"/><stop offset="0.38" stop-color="#b3b3b3"/><stop offset="0.5" stop-color="#b5b5b5"/><stop offset="0.6" stop-color="#b7b7b7"/><stop offset="0.7" stop-color="#b9b9b9"/><stop offset="0.78" stop-color="#bababa"/><stop offset="0.85" stop-color="#bbbbbb"/><stop offset="0.93" stop-color="#bcbcbc"/><stop offset="1.0" stop-color="#bdbdbd"/></linearGradient><linearGradient id="dc74" x1="0" y1="0" x2="0" y2="1"><stop offset="0" stop-color="#a9a9a9"/><stop offset="0.12" stop-color="#ababab"/><stop offset="0.25" stop-color="#aeaeae"/><stop offset="0.38" stop-color="#b0b0b0"/><stop offset="0.5" stop-color="#b2b2b2"/><stop offset="0.6" stop-color="#b4b4b4"/><stop offset="0.7" stop-color="#b7b7b7"/><stop offset="0.78" stop-color="#b8b8b8"/><stop offset="0.85" stop-color="#b9b9b9"/><stop offset="0.93" stop-color="#bababa"/><stop offset="1.0" stop-color="#bcbcbc"/></linearGradient><linearGradient id="dc75" x1="0" y1="0" x2="0" y2="1"><stop offset="0" stop-color="#a6a6a6"/><stop offset="0.12" stop-color="#a8a8a8"/><stop offset="0.25" stop-color="#ababab"/><stop offset="0.38" stop-color="#adadad"/><stop offset="0.5" stop-color="#aeaeae"/><stop offset="0.6" stop-color="#b1b1b1"/><stop offset="0.7" stop-color="#b4b4b4"/><stop offset="0.78" stop-color="#b6b6b6"/><stop offset="0.85" stop-color="#b7b7b7"/><stop offset="0.93" stop-color="#b8b8b8"/><stop offset="1.0" stop-color="#bababa"/></linearGradient><linearGradient id="dc76" x1="0" y1="0" x2="0" y2="1"><stop offset="0" stop-color="#a2a2a2"/><stop offset="0.12" stop-color="#a5a5a5"/><stop offset="0.25" stop-color="#a8a8a8"/><stop offset="0.38" stop-color="#a9a9a9"/><stop offset="0.5" stop-color="#ababab"/><stop offset="0.6" stop-color="#aeaeae"/><stop offset="0.7" stop-color="#b2b2b2"/><stop offset="0.78" stop-color="#b4b4b4"/><stop offset="0.85" stop-color="#b5b5b5"/><stop offset="0.93" stop-color="#b6b6b6"/><stop offset="1.0" stop-color="#b7b7b7"/></linearGradient><linearGradient id="dc77" x1="0" y1="0" x2="0" y2="1"><stop offset="0" stop-color="#9f9f9f"/><stop offset="0.12" stop-color="#a1a1a1"/><stop offset="0.25" stop-color="#a4a4a4"/><stop offset="0.38" stop-color="#a6a6a6"/><stop offset="0.5" stop-color="#a7a7a7"/><stop offset="0.6" stop-color="#ababab"/><stop offset="0.7" stop-color="#b0b0b0"/><stop offset="0.78" stop-color="#b2b2b2"/><stop offset="0.85" stop-color="#b3b3b3"/><stop offset="0.93" stop-color="#b3b3b3"/><stop offset="1.0" stop-color="#b5b5b5"/></linearGradient><linearGradient id="dc78" x1="0" y1="0" x2="0" y2="1"><stop offset="0" stop-color="#9b9b9b"/><stop offset="0.12" stop-color="#9e9e9e"/><stop offset="0.25" stop-color="#a0a0a0"/><stop offset="0.38" stop-color="#a2a2a2"/><stop offset="0.5" stop-color="#a4a4a4"/><stop offset="0.6" stop-color="#a8a8a8"/><stop offset="0.7" stop-color="#adadad"/><stop offset="0.78" stop-color="#b0b0b0"/><stop offset="0.85" stop-color="#b0b0b0"/><stop offset="0.93" stop-color="#b1b1b1"/><stop offset="1.0" stop-color="#b2b2b2"/></linearGradient><linearGradient id="dc79" x1="0" y1="0" x2="0" y2="1"><stop offset="0" stop-color="#989898"/><stop offset="0.12" stop-color="#9a9a9a"/><stop offset="0.25" stop-color="#9c9c9c"/><stop offset="0.38" stop-color="#9e9e9e"/><stop offset="0.5" stop-color="#a1a1a1"/><stop offset="0.6" stop-color="#a5a5a5"/><stop offset="0.7" stop-color="#a9a9a9"/><stop offset="0.78" stop-color="#acacac"/><stop offset="0.85" stop-color="#adadad"/><stop offset="0.93" stop-color="#aeaeae"/><stop offset="1.0" stop-color="#b0b0b0"/></linearGradient><linearGradient id="dc80" x1="0" y1="0" x2="0" y2="1"><stop offset="0" stop-color="#959595"/><stop offset="0.12" stop-color="#969696"/><stop offset="0.25" stop-color="#989898"/><stop offset="0.38" stop-color="#9b9b9b"/><stop offset="0.5" stop-color="#9d9d9d"/><stop offset="0.6" stop-color="#a1a1a1"/><stop offset="0.7" stop-color="#a5a5a5"/><stop offset="0.78" stop-color="#a8a8a8"/><stop offset="0.85" stop-color="#a9a9a9"/><stop offset="0.93" stop-color="#ababab"/><stop offset="1.0" stop-color="#adadad"/></linearGradient><linearGradient id="dc81" x1="0" y1="0" x2="0" y2="1"><stop offset="0" stop-color="#929292"/><stop offset="0.12" stop-color="#939393"/><stop offset="0.25" stop-color="#949494"/><stop offset="0.38" stop-color="#979797"/><stop offset="0.5" stop-color="#999999"/><stop offset="0.6" stop-color="#9d9d9d"/><stop offset="0.7" stop-color="#a1a1a1"/><stop offset="0.78" stop-color="#a4a4a4"/><stop offset="0.85" stop-color="#a5a5a5"/><stop offset="0.93" stop-color="#a7a7a7"/><stop offset="1.0" stop-color="#ababab"/></linearGradient><linearGradient id="dc82" x1="0" y1="0" x2="0" y2="1"><stop offset="0" stop-color="#8f8f8f"/><stop offset="0.12" stop-color="#909090"/><stop offset="0.25" stop-color="#919191"/><stop offset="0.38" stop-color="#939393"/><stop offset="0.5" stop-color="#969696"/><stop offset="0.6" stop-color="#9a9a9a"/><stop offset="0.7" stop-color="#9d9d9d"/><stop offset="0.78" stop-color="#a0a0a0"/><stop offset="0.85" stop-color="#a1a1a1"/><stop offset="0.93" stop-color="#a4a4a4"/><stop offset="1.0" stop-color="#a7a7a7"/></linearGradient><linearGradient id="dc83" x1="0" y1="0" x2="0" y2="1"><stop offset="0" stop-color="#8c8c8c"/><stop offset="0.12" stop-color="#8d8d8d"/><stop offset="0.25" stop-color="#8d8d8d"/><stop offset="0.38" stop-color="#909090"/><stop offset="0.5" stop-color="#929292"/><stop offset="0.6" stop-color="#969696"/><stop offset="0.7" stop-color="#999999"/><stop offset="0.78" stop-color="#9c9c9c"/><stop offset="0.85" stop-color="#9d9d9d"/><stop offset="0.93" stop-color="#a0a0a0"/><stop offset="1.0" stop-color="#a4a4a4"/></linearGradient><linearGradient id="dc84" x1="0" y1="0" x2="0" y2="1"><stop offset="0" stop-color="#898989"/><stop offset="0.12" stop-color="#898989"/><stop offset="0.25" stop-color="#8a8a8a"/><stop offset="0.38" stop-color="#8c8c8c"/><stop offset="0.5" stop-color="#8f8f8f"/><stop offset="0.6" stop-color="#929292"/><stop offset="0.7" stop-color="#959595"/><stop offset="0.78" stop-color="#979797"/><stop offset="0.85" stop-color="#999999"/><stop offset="0.93" stop-color="#9c9c9c"/><stop offset="1.0" stop-color="#a1a1a1"/></linearGradient><linearGradient id="dc85" x1="0" y1="0" x2="0" y2="1"><stop offset="0" stop-color="#868686"/><stop offset="0.12" stop-color="#868686"/><stop offset="0.25" stop-color="#878787"/><stop offset="0.38" stop-color="#898989"/><stop offset="0.5" stop-color="#8b8b8b"/><stop offset="0.6" stop-color="#8e8e8e"/><stop offset="0.7" stop-color="#919191"/><stop offset="0.78" stop-color="#939393"/><stop offset="0.85" stop-color="#959595"/><stop offset="0.93" stop-color="#989898"/><stop offset="1.0" stop-color="#9d9d9d"/></linearGradient><linearGradient id="dc86" x1="0" y1="0" x2="0" y2="1"><stop offset="0" stop-color="#838383"/><stop offset="0.12" stop-color="#838383"/><stop offset="0.25" stop-color="#838383"/><stop offset="0.38" stop-color="#858585"/><stop offset="0.5" stop-color="#878787"/><stop offset="0.6" stop-color="#8a8a8a"/><stop offset="0.7" stop-color="#8d8d8d"/><stop offset="0.78" stop-color="#8f8f8f"/><stop offset="0.85" stop-color="#919191"/><stop offset="0.93" stop-color="#959595"/><stop offset="1.0" stop-color="#9a9a9a"/></linearGradient><linearGradient id="dc87" x1="0" y1="0" x2="0" y2="1"><stop offset="0" stop-color="#828282"/><stop offset="0.12" stop-color="#828282"/><stop offset="0.25" stop-color="#828282"/><stop offset="0.38" stop-color="#848484"/><stop offset="0.5" stop-color="#868686"/><stop offset="0.6" stop-color="#898989"/><stop offset="0.7" stop-color="#8c8c8c"/><stop offset="0.78" stop-color="#8d8d8d"/><stop offset="0.85" stop-color="#8e8e8e"/><stop offset="0.93" stop-color="#919191"/><stop offset="1.0" stop-color="#969696"/></linearGradient><linearGradient id="dc88" x1="0" y1="0" x2="0" y2="1"><stop offset="0" stop-color="#828282"/><stop offset="0.12" stop-color="#828282"/><stop offset="0.25" stop-color="#828282"/><stop offset="0.38" stop-color="#848484"/><stop offset="0.5" stop-color="#868686"/><stop offset="0.6" stop-color="#888888"/><stop offset="0.7" stop-color="#8b8b8b"/><stop offset="0.78" stop-color="#8c8c8c"/><stop offset="0.85" stop-color="#8d8d8d"/><stop offset="0.93" stop-color="#8f8f8f"/><stop offset="1.0" stop-color="#939393"/></linearGradient><linearGradient id="dc89" x1="0" y1="0" x2="0" y2="1"><stop offset="0" stop-color="#818181"/><stop offset="0.12" stop-color="#818181"/><stop offset="0.25" stop-color="#818181"/><stop offset="0.38" stop-color="#838383"/><stop offset="0.5" stop-color="#858585"/><stop offset="0.6" stop-color="#888888"/><stop offset="0.7" stop-color="#8a8a8a"/><stop offset="0.78" stop-color="#8c8c8c"/><stop offset="0.85" stop-color="#8c8c8c"/><stop offset="0.93" stop-color="#8d8d8d"/><stop offset="1.0" stop-color="#909090"/></linearGradient><linearGradient id="dc90" x1="0" y1="0" x2="0" y2="1"><stop offset="0" stop-color="#818181"/><stop offset="0.12" stop-color="#818181"/><stop offset="0.25" stop-color="#818181"/><stop offset="0.38" stop-color="#838383"/><stop offset="0.5" stop-color="#858585"/><stop offset="0.6" stop-color="#878787"/><stop offset="0.7" stop-color="#8a8a8a"/><stop offset="0.78" stop-color="#8b8b8b"/><stop offset="0.85" stop-color="#8b8b8b"/><stop offset="0.93" stop-color="#8c8c8c"/><stop offset="1.0" stop-color="#8d8d8d"/></linearGradient><linearGradient id="dc91" x1="0" y1="0" x2="0" y2="1"><stop offset="0" stop-color="#818181"/><stop offset="0.12" stop-color="#818181"/><stop offset="0.25" stop-color="#818181"/><stop offset="0.38" stop-color="#838383"/><stop offset="0.5" stop-color="#848484"/><stop offset="0.6" stop-color="#878787"/><stop offset="0.7" stop-color="#898989"/><stop offset="0.78" stop-color="#8a8a8a"/><stop offset="0.85" stop-color="#8b8b8b"/><stop offset="0.93" stop-color="#8b8b8b"/><stop offset="1.0" stop-color="#8d8d8d"/></linearGradient><linearGradient id="dc92" x1="0" y1="0" x2="0" y2="1"><stop offset="0" stop-color="#808080"/><stop offset="0.12" stop-color="#808080"/><stop offset="0.25" stop-color="#808080"/><stop offset="0.38" stop-color="#828282"/><stop offset="0.5" stop-color="#848484"/><stop offset="0.6" stop-color="#868686"/><stop offset="0.7" stop-color="#888888"/><stop offset="0.78" stop-color="#898989"/><stop offset="0.85" stop-color="#8a8a8a"/><stop offset="0.93" stop-color="#8b8b8b"/><stop offset="1.0" stop-color="#8c8c8c"/></linearGradient><linearGradient id="dc93" x1="0" y1="0" x2="0" y2="1"><stop offset="0" stop-color="#808080"/><stop offset="0.12" stop-color="#808080"/><stop offset="0.25" stop-color="#808080"/><stop offset="0.38" stop-color="#828282"/><stop offset="0.5" stop-color="#838383"/><stop offset="0.6" stop-color="#858585"/><stop offset="0.7" stop-color="#878787"/><stop offset="0.78" stop-color="#898989"/><stop offset="0.85" stop-color="#898989"/><stop offset="0.93" stop-color="#8a8a8a"/><stop offset="1.0" stop-color="#8b8b8b"/></linearGradient><linearGradient id="dc94" x1="0" y1="0" x2="0" y2="1"><stop offset="0" stop-color="#7f7f7f"/><stop offset="0.12" stop-color="#808080"/><stop offset="0.25" stop-color="#808080"/><stop offset="0.38" stop-color="#818181"/><stop offset="0.5" stop-color="#838383"/><stop offset="0.6" stop-color="#858585"/><stop offset="0.7" stop-color="#878787"/><stop offset="0.78" stop-color="#888888"/><stop offset="0.85" stop-color="#888888"/><stop offset="0.93" stop-color="#898989"/><stop offset="1.0" stop-color="#8a8a8a"/></linearGradient><linearGradient id="dc95" x1="0" y1="0" x2="0" y2="1"><stop offset="0" stop-color="#7f7f7f"/><stop offset="0.12" stop-color="#7f7f7f"/><stop offset="0.25" stop-color="#7f7f7f"/><stop offset="0.38" stop-color="#818181"/><stop offset="0.5" stop-color="#828282"/><stop offset="0.6" stop-color="#848484"/><stop offset="0.7" stop-color="#868686"/><stop offset="0.78" stop-color="#878787"/><stop offset="0.85" stop-color="#888888"/><stop offset="0.93" stop-color="#898989"/><stop offset="1.0" stop-color="#8a8a8a"/></linearGradient><linearGradient id="dc96" x1="0" y1="0" x2="0" y2="1"><stop offset="0" stop-color="#7f7f7f"/><stop offset="0.12" stop-color="#7f7f7f"/><stop offset="0.25" stop-color="#7f7f7f"/><stop offset="0.38" stop-color="#808080"/><stop offset="0.5" stop-color="#828282"/><stop offset="0.6" stop-color="#838383"/><stop offset="0.7" stop-color="#858585"/><stop offset="0.78" stop-color="#868686"/><stop offset="0.85" stop-color="#878787"/><stop offset="0.93" stop-color="#888888"/><stop offset="1.0" stop-color="#898989"/></linearGradient><linearGradient id="dc97" x1="0" y1="0" x2="0" y2="1"><stop offset="0" stop-color="#7e7e7e"/><stop offset="0.12" stop-color="#7e7e7e"/><stop offset="0.25" stop-color="#7f7f7f"/><stop offset="0.38" stop-color="#808080"/><stop offset="0.5" stop-color="#818181"/><stop offset="0.6" stop-color="#838383"/><stop offset="0.7" stop-color="#848484"/><stop offset="0.78" stop-color="#858585"/><stop offset="0.85" stop-color="#868686"/><stop offset="0.93" stop-color="#878787"/><stop offset="1.0" stop-color="#888888"/></linearGradient><linearGradient id="dc98" x1="0" y1="0" x2="0" y2="1"><stop offset="0" stop-color="#7e7e7e"/><stop offset="0.12" stop-color="#7e7e7e"/><stop offset="0.25" stop-color="#7e7e7e"/><stop offset="0.38" stop-color="#808080"/><stop offset="0.5" stop-color="#818181"/><stop offset="0.6" stop-color="#828282"/><stop offset="0.7" stop-color="#848484"/><stop offset="0.78" stop-color="#858585"/><stop offset="0.85" stop-color="#858585"/><stop offset="0.93" stop-color="#868686"/><stop offset="1.0" stop-color="#888888"/></linearGradient><linearGradient id="dc99" x1="0" y1="0" x2="0" y2="1"><stop offset="0" stop-color="#7e7e7e"/><stop offset="0.12" stop-color="#7e7e7e"/><stop offset="0.25" stop-color="#7e7e7e"/><stop offset="0.38" stop-color="#7f7f7f"/><stop offset="0.5" stop-color="#808080"/><stop offset="0.6" stop-color="#828282"/><stop offset="0.7" stop-color="#838383"/><stop offset="0.78" stop-color="#848484"/><stop offset="0.85" stop-color="#858585"/><stop offset="0.93" stop-color="#868686"/><stop offset="1.0" stop-color="#878787"/></linearGradient><linearGradient id="dc100" x1="0" y1="0" x2="0" y2="1"><stop offset="0" stop-color="#7d7d7d"/><stop offset="0.12" stop-color="#7d7d7d"/><stop offset="0.25" stop-color="#7e7e7e"/><stop offset="0.38" stop-color="#7f7f7f"/><stop offset="0.5" stop-color="#808080"/><stop offset="0.6" stop-color="#818181"/><stop offset="0.7" stop-color="#828282"/><stop offset="0.78" stop-color="#838383"/><stop offset="0.85" stop-color="#848484"/><stop offset="0.93" stop-color="#858585"/><stop offset="1.0" stop-color="#868686"/></linearGradient><linearGradient id="dc101" x1="0" y1="0" x2="0" y2="1"><stop offset="0" stop-color="#7d7d7d"/><stop offset="0.12" stop-color="#7d7d7d"/><stop offset="0.25" stop-color="#7d7d7d"/><stop offset="0.38" stop-color="#7e7e7e"/><stop offset="0.5" stop-color="#7f7f7f"/><stop offset="0.6" stop-color="#808080"/><stop offset="0.7" stop-color="#828282"/><stop offset="0.78" stop-color="#828282"/><stop offset="0.85" stop-color="#838383"/><stop offset="0.93" stop-color="#848484"/><stop offset="1.0" stop-color="#858585"/></linearGradient><linearGradient id="dc102" x1="0" y1="0" x2="0" y2="1"><stop offset="0" stop-color="#7b7b7b"/><stop offset="0.12" stop-color="#7c7c7c"/><stop offset="0.25" stop-color="#7d7d7d"/><stop offset="0.38" stop-color="#7e7e7e"/><stop offset="0.5" stop-color="#7f7f7f"/><stop offset="0.6" stop-color="#808080"/><stop offset="0.7" stop-color="#818181"/><stop offset="0.78" stop-color="#828282"/><stop offset="0.85" stop-color="#828282"/><stop offset="0.93" stop-color="#838383"/><stop offset="1.0" stop-color="#858585"/></linearGradient><linearGradient id="dc103" x1="0" y1="0" x2="0" y2="1"><stop offset="0" stop-color="#797979"/><stop offset="0.12" stop-color="#7a7a7a"/><stop offset="0.25" stop-color="#7c7c7c"/><stop offset="0.38" stop-color="#7d7d7d"/><stop offset="0.5" stop-color="#7e7e7e"/><stop offset="0.6" stop-color="#7f7f7f"/><stop offset="0.7" stop-color="#808080"/><stop offset="0.78" stop-color="#818181"/><stop offset="0.85" stop-color="#828282"/><stop offset="0.93" stop-color="#838383"/><stop offset="1.0" stop-color="#848484"/></linearGradient><linearGradient id="dc104" x1="0" y1="0" x2="0" y2="1"><stop offset="0" stop-color="#767676"/><stop offset="0.12" stop-color="#787878"/><stop offset="0.25" stop-color="#7a7a7a"/><stop offset="0.38" stop-color="#7c7c7c"/><stop offset="0.5" stop-color="#7e7e7e"/><stop offset="0.6" stop-color="#7f7f7f"/><stop offset="0.7" stop-color="#7f7f7f"/><stop offset="0.78" stop-color="#808080"/><stop offset="0.85" stop-color="#818181"/><stop offset="0.93" stop-color="#828282"/><stop offset="1.0" stop-color="#838383"/></linearGradient><linearGradient id="dc105" x1="0" y1="0" x2="0" y2="1"><stop offset="0" stop-color="#747474"/><stop offset="0.12" stop-color="#767676"/><stop offset="0.25" stop-color="#787878"/><stop offset="0.38" stop-color="#7b7b7b"/><stop offset="0.5" stop-color="#7d7d7d"/><stop offset="0.6" stop-color="#7e7e7e"/><stop offset="0.7" stop-color="#7f7f7f"/><stop offset="0.78" stop-color="#7f7f7f"/><stop offset="0.85" stop-color="#808080"/><stop offset="0.93" stop-color="#818181"/><stop offset="1.0" stop-color="#828282"/></linearGradient><linearGradient id="dc106" x1="0" y1="0" x2="0" y2="1"><stop offset="0" stop-color="#727272"/><stop offset="0.12" stop-color="#747474"/><stop offset="0.25" stop-color="#767676"/><stop offset="0.38" stop-color="#797979"/><stop offset="0.5" stop-color="#7d7d7d"/><stop offset="0.6" stop-color="#7d7d7d"/><stop offset="0.7" stop-color="#7e7e7e"/><stop offset="0.78" stop-color="#7f7f7f"/><stop offset="0.85" stop-color="#7f7f7f"/><stop offset="0.93" stop-color="#818181"/><stop offset="1.0" stop-color="#828282"/></linearGradient><linearGradient id="dc107" x1="0" y1="0" x2="0" y2="1"><stop offset="0" stop-color="#6f6f6f"/><stop offset="0.12" stop-color="#717171"/><stop offset="0.25" stop-color="#737373"/><stop offset="0.38" stop-color="#777777"/><stop offset="0.5" stop-color="#7b7b7b"/><stop offset="0.6" stop-color="#7c7c7c"/><stop offset="0.7" stop-color="#7d7d7d"/><stop offset="0.78" stop-color="#7e7e7e"/><stop offset="0.85" stop-color="#7f7f7f"/><stop offset="0.93" stop-color="#808080"/><stop offset="1.0" stop-color="#818181"/></linearGradient><linearGradient id="dc108" x1="0" y1="0" x2="0" y2="1"><stop offset="0" stop-color="#6c6c6c"/><stop offset="0.12" stop-color="#6e6e6e"/><stop offset="0.25" stop-color="#717171"/><stop offset="0.38" stop-color="#757575"/><stop offset="0.5" stop-color="#787878"/><stop offset="0.6" stop-color="#7a7a7a"/><stop offset="0.7" stop-color="#7c7c7c"/><stop offset="0.78" stop-color="#7d7d7d"/><stop offset="0.85" stop-color="#7e7e7e"/><stop offset="0.93" stop-color="#7f7f7f"/><stop offset="1.0" stop-color="#808080"/></linearGradient><linearGradient id="dc109" x1="0" y1="0" x2="0" y2="1"><stop offset="0" stop-color="#696969"/><stop offset="0.12" stop-color="#6c6c6c"/><stop offset="0.25" stop-color="#6e6e6e"/><stop offset="0.38" stop-color="#727272"/><stop offset="0.5" stop-color="#767676"/><stop offset="0.6" stop-color="#787878"/><stop offset="0.7" stop-color="#797979"/><stop offset="0.78" stop-color="#7b7b7b"/><stop offset="0.85" stop-color="#7d7d7d"/><stop offset="0.93" stop-color="#7e7e7e"/><stop offset="1.0" stop-color="#808080"/></linearGradient><linearGradient id="dc110" x1="0" y1="0" x2="0" y2="1"><stop offset="0" stop-color="#666666"/><stop offset="0.12" stop-color="#696969"/><stop offset="0.25" stop-color="#6b6b6b"/><stop offset="0.38" stop-color="#6f6f6f"/><stop offset="0.5" stop-color="#737373"/><stop offset="0.6" stop-color="#757575"/><stop offset="0.7" stop-color="#777777"/><stop offset="0.78" stop-color="#797979"/><stop offset="0.85" stop-color="#7b7b7b"/><stop offset="0.93" stop-color="#7e7e7e"/><stop offset="1.0" stop-color="#7f7f7f"/></linearGradient><linearGradient id="dc111" x1="0" y1="0" x2="0" y2="1"><stop offset="0" stop-color="#636363"/><stop offset="0.12" stop-color="#666666"/><stop offset="0.25" stop-color="#696969"/><stop offset="0.38" stop-color="#6d6d6d"/><stop offset="0.5" stop-color="#717171"/><stop offset="0.6" stop-color="#737373"/><stop offset="0.7" stop-color="#757575"/><stop offset="0.78" stop-color="#777777"/><stop offset="0.85" stop-color="#7a7a7a"/><stop offset="0.93" stop-color="#7c7c7c"/><stop offset="1.0" stop-color="#7e7e7e"/></linearGradient><linearGradient id="dc112" x1="0" y1="0" x2="0" y2="1"><stop offset="0" stop-color="#606060"/><stop offset="0.12" stop-color="#636363"/><stop offset="0.25" stop-color="#666666"/><stop offset="0.38" stop-color="#6a6a6a"/><stop offset="0.5" stop-color="#6e6e6e"/><stop offset="0.6" stop-color="#717171"/><stop offset="0.7" stop-color="#737373"/><stop offset="0.78" stop-color="#757575"/><stop offset="0.85" stop-color="#787878"/><stop offset="0.93" stop-color="#7b7b7b"/><stop offset="1.0" stop-color="#7d7d7d"/></linearGradient><linearGradient id="dc113" x1="0" y1="0" x2="0" y2="1"><stop offset="0" stop-color="#5e5e5e"/><stop offset="0.12" stop-color="#606060"/><stop offset="0.25" stop-color="#636363"/><stop offset="0.38" stop-color="#676767"/><stop offset="0.5" stop-color="#6b6b6b"/><stop offset="0.6" stop-color="#6e6e6e"/><stop offset="0.7" stop-color="#717171"/><stop offset="0.78" stop-color="#737373"/><stop offset="0.85" stop-color="#767676"/><stop offset="0.93" stop-color="#797979"/><stop offset="1.0" stop-color="#7c7c7c"/></linearGradient><linearGradient id="dc114" x1="0" y1="0" x2="0" y2="1"><stop offset="0" stop-color="#5b5b5b"/><stop offset="0.12" stop-color="#5e5e5e"/><stop offset="0.25" stop-color="#606060"/><stop offset="0.38" stop-color="#646464"/><stop offset="0.5" stop-color="#696969"/><stop offset="0.6" stop-color="#6b6b6b"/><stop offset="0.7" stop-color="#6e6e6e"/><stop offset="0.78" stop-color="#717171"/><stop offset="0.85" stop-color="#737373"/><stop offset="0.93" stop-color="#777777"/><stop offset="1.0" stop-color="#7a7a7a"/></linearGradient><linearGradient id="dc115" x1="0" y1="0" x2="0" y2="1"><stop offset="0" stop-color="#595959"/><stop offset="0.12" stop-color="#5b5b5b"/><stop offset="0.25" stop-color="#5e5e5e"/><stop offset="0.38" stop-color="#626262"/><stop offset="0.5" stop-color="#666666"/><stop offset="0.6" stop-color="#696969"/><stop offset="0.7" stop-color="#6c6c6c"/><stop offset="0.78" stop-color="#6f6f6f"/><stop offset="0.85" stop-color="#717171"/><stop offset="0.93" stop-color="#757575"/><stop offset="1.0" stop-color="#787878"/></linearGradient><linearGradient id="dc116" x1="0" y1="0" x2="0" y2="1"><stop offset="0" stop-color="#575757"/><stop offset="0.12" stop-color="#595959"/><stop offset="0.25" stop-color="#5b5b5b"/><stop offset="0.38" stop-color="#5f5f5f"/><stop offset="0.5" stop-color="#636363"/><stop offset="0.6" stop-color="#666666"/><stop offset="0.7" stop-color="#696969"/><stop offset="0.78" stop-color="#6c6c6c"/><stop offset="0.85" stop-color="#6f6f6f"/><stop offset="0.93" stop-color="#737373"/><stop offset="1.0" stop-color="#767676"/></linearGradient><linearGradient id="dc117" x1="0" y1="0" x2="0" y2="1"><stop offset="0" stop-color="#545454"/><stop offset="0.12" stop-color="#575757"/><stop offset="0.25" stop-color="#595959"/><stop offset="0.38" stop-color="#5d5d5d"/><stop offset="0.5" stop-color="#606060"/><stop offset="0.6" stop-color="#636363"/><stop offset="0.7" stop-color="#676767"/><stop offset="0.78" stop-color="#6a6a6a"/><stop offset="0.85" stop-color="#6d6d6d"/><stop offset="0.93" stop-color="#717171"/><stop offset="1.0" stop-color="#747474"/></linearGradient><linearGradient id="dc118" x1="0" y1="0" x2="0" y2="1"><stop offset="0" stop-color="#525252"/><stop offset="0.12" stop-color="#545454"/><stop offset="0.25" stop-color="#575757"/><stop offset="0.38" stop-color="#5a5a5a"/><stop offset="0.5" stop-color="#5d5d5d"/><stop offset="0.6" stop-color="#616161"/><stop offset="0.7" stop-color="#646464"/><stop offset="0.78" stop-color="#676767"/><stop offset="0.85" stop-color="#6a6a6a"/><stop offset="0.93" stop-color="#6e6e6e"/><stop offset="1.0" stop-color="#727272"/></linearGradient><linearGradient id="dc119" x1="0" y1="0" x2="0" y2="1"><stop offset="0" stop-color="#505050"/><stop offset="0.12" stop-color="#525252"/><stop offset="0.25" stop-color="#555555"/><stop offset="0.38" stop-color="#585858"/><stop offset="0.5" stop-color="#5b5b5b"/><stop offset="0.6" stop-color="#5e5e5e"/><stop offset="0.7" stop-color="#616161"/><stop offset="0.78" stop-color="#656565"/><stop offset="0.85" stop-color="#686868"/><stop offset="0.93" stop-color="#6c6c6c"/><stop offset="1.0" stop-color="#707070"/></linearGradient><linearGradient id="dc120" x1="0" y1="0" x2="0" y2="1"><stop offset="0" stop-color="#4e4e4e"/><stop offset="0.12" stop-color="#505050"/><stop offset="0.25" stop-color="#525252"/><stop offset="0.38" stop-color="#555555"/><stop offset="0.5" stop-color="#585858"/><stop offset="0.6" stop-color="#5c5c5c"/><stop offset="0.7" stop-color="#5f5f5f"/><stop offset="0.78" stop-color="#626262"/><stop offset="0.85" stop-color="#666666"/><stop offset="0.93" stop-color="#6a6a6a"/><stop offset="1.0" stop-color="#6e6e6e"/></linearGradient><linearGradient id="dc121" x1="0" y1="0" x2="0" y2="1"><stop offset="0" stop-color="#4c4c4c"/><stop offset="0.12" stop-color="#4e4e4e"/><stop offset="0.25" stop-color="#505050"/><stop offset="0.38" stop-color="#535353"/><stop offset="0.5" stop-color="#565656"/><stop offset="0.6" stop-color="#595959"/><stop offset="0.7" stop-color="#5c5c5c"/><stop offset="0.78" stop-color="#606060"/><stop offset="0.85" stop-color="#636363"/><stop offset="0.93" stop-color="#676767"/><stop offset="1.0" stop-color="#6c6c6c"/></linearGradient><linearGradient id="dc122" x1="0" y1="0" x2="0" y2="1"><stop offset="0" stop-color="#494949"/><stop offset="0.12" stop-color="#4c4c4c"/><stop offset="0.25" stop-color="#4e4e4e"/><stop offset="0.38" stop-color="#515151"/><stop offset="0.5" stop-color="#535353"/><stop offset="0.6" stop-color="#575757"/><stop offset="0.7" stop-color="#5a5a5a"/><stop offset="0.78" stop-color="#5d5d5d"/><stop offset="0.85" stop-color="#616161"/><stop offset="0.93" stop-color="#656565"/><stop offset="1.0" stop-color="#6a6a6a"/></linearGradient><linearGradient id="dc123" x1="0" y1="0" x2="0" y2="1"><stop offset="0" stop-color="#474747"/><stop offset="0.12" stop-color="#4a4a4a"/><stop offset="0.25" stop-color="#4c4c4c"/><stop offset="0.38" stop-color="#4e4e4e"/><stop offset="0.5" stop-color="#505050"/><stop offset="0.6" stop-color="#545454"/><stop offset="0.7" stop-color="#585858"/><stop offset="0.78" stop-color="#5b5b5b"/><stop offset="0.85" stop-color="#5e5e5e"/><stop offset="0.93" stop-color="#636363"/><stop offset="1.0" stop-color="#686868"/></linearGradient><linearGradient id="dc124" x1="0" y1="0" x2="0" y2="1"><stop offset="0" stop-color="#454545"/><stop offset="0.12" stop-color="#484848"/><stop offset="0.25" stop-color="#4b4b4b"/><stop offset="0.38" stop-color="#4c4c4c"/><stop offset="0.5" stop-color="#4e4e4e"/><stop offset="0.6" stop-color="#525252"/><stop offset="0.7" stop-color="#565656"/><stop offset="0.78" stop-color="#595959"/><stop offset="0.85" stop-color="#5c5c5c"/><stop offset="0.93" stop-color="#606060"/><stop offset="1.0" stop-color="#666666"/></linearGradient><linearGradient id="dc125" x1="0" y1="0" x2="0" y2="1"><stop offset="0" stop-color="#434343"/><stop offset="0.12" stop-color="#464646"/><stop offset="0.25" stop-color="#494949"/><stop offset="0.38" stop-color="#4a4a4a"/><stop offset="0.5" stop-color="#4c4c4c"/><stop offset="0.6" stop-color="#505050"/><stop offset="0.7" stop-color="#545454"/><stop offset="0.78" stop-color="#575757"/><stop offset="0.85" stop-color="#595959"/><stop offset="0.93" stop-color="#5e5e5e"/><stop offset="1.0" stop-color="#646464"/></linearGradient><linearGradient id="dc126" x1="0" y1="0" x2="0" y2="1"><stop offset="0" stop-color="#424242"/><stop offset="0.12" stop-color="#444444"/><stop offset="0.25" stop-color="#474747"/><stop offset="0.38" stop-color="#494949"/><stop offset="0.5" stop-color="#4b4b4b"/><stop offset="0.6" stop-color="#4e4e4e"/><stop offset="0.7" stop-color="#525252"/><stop offset="0.78" stop-color="#555555"/><stop offset="0.85" stop-color="#585858"/><stop offset="0.93" stop-color="#5c5c5c"/><stop offset="1.0" stop-color="#626262"/></linearGradient><linearGradient id="dc127" x1="0" y1="0" x2="0" y2="1"><stop offset="0" stop-color="#414141"/><stop offset="0.12" stop-color="#434343"/><stop offset="0.25" stop-color="#464646"/><stop offset="0.38" stop-color="#484848"/><stop offset="0.5" stop-color="#494949"/><stop offset="0.6" stop-color="#4d4d4d"/><stop offset="0.7" stop-color="#505050"/><stop offset="0.78" stop-color="#535353"/><stop offset="0.85" stop-color="#565656"/><stop offset="0.93" stop-color="#5b5b5b"/><stop offset="1.0" stop-color="#606060"/></linearGradient><linearGradient id="dc128" x1="0" y1="0" x2="0" y2="1"><stop offset="0" stop-color="#3f3f3f"/><stop offset="0.12" stop-color="#414141"/><stop offset="0.25" stop-color="#444444"/><stop offset="0.38" stop-color="#464646"/><stop offset="0.5" stop-color="#484848"/><stop offset="0.6" stop-color="#4b4b4b"/><stop offset="0.7" stop-color="#4e4e4e"/><stop offset="0.78" stop-color="#515151"/><stop offset="0.85" stop-color="#555555"/><stop offset="0.93" stop-color="#595959"/><stop offset="1.0" stop-color="#5e5e5e"/></linearGradient><linearGradient id="dc129" x1="0" y1="0" x2="0" y2="1"><stop offset="0" stop-color="#3e3e3e"/><stop offset="0.12" stop-color="#404040"/><stop offset="0.25" stop-color="#424242"/><stop offset="0.38" stop-color="#454545"/><stop offset="0.5" stop-color="#474747"/><stop offset="0.6" stop-color="#4a4a4a"/><stop offset="0.7" stop-color="#4d4d4d"/><stop offset="0.78" stop-color="#505050"/><stop offset="0.85" stop-color="#545454"/><stop offset="0.93" stop-color="#585858"/><stop offset="1.0" stop-color="#5c5c5c"/></linearGradient><linearGradient id="dc130" x1="0" y1="0" x2="0" y2="1"><stop offset="0" stop-color="#3c3c3c"/><stop offset="0.12" stop-color="#3e3e3e"/><stop offset="0.25" stop-color="#404040"/><stop offset="0.38" stop-color="#434343"/><stop offset="0.5" stop-color="#464646"/><stop offset="0.6" stop-color="#494949"/><stop offset="0.7" stop-color="#4c4c4c"/><stop offset="0.78" stop-color="#4f4f4f"/><stop offset="0.85" stop-color="#535353"/><stop offset="0.93" stop-color="#575757"/><stop offset="1.0" stop-color="#5a5a5a"/></linearGradient><linearGradient id="dc131" x1="0" y1="0" x2="0" y2="1"><stop offset="0" stop-color="#3b3b3b"/><stop offset="0.12" stop-color="#3d3d3d"/><stop offset="0.25" stop-color="#3f3f3f"/><stop offset="0.38" stop-color="#424242"/><stop offset="0.5" stop-color="#444444"/><stop offset="0.6" stop-color="#484848"/><stop offset="0.7" stop-color="#4b4b4b"/><stop offset="0.78" stop-color="#4e4e4e"/><stop offset="0.85" stop-color="#525252"/><stop offset="0.93" stop-color="#565656"/><stop offset="1.0" stop-color="#595959"/></linearGradient><linearGradient id="dc132" x1="0" y1="0" x2="0" y2="1"><stop offset="0" stop-color="#393939"/><stop offset="0.12" stop-color="#3b3b3b"/><stop offset="0.25" stop-color="#3d3d3d"/><stop offset="0.38" stop-color="#414141"/><stop offset="0.5" stop-color="#444444"/><stop offset="0.6" stop-color="#474747"/><stop offset="0.7" stop-color="#4a4a4a"/><stop offset="0.78" stop-color="#4d4d4d"/><stop offset="0.85" stop-color="#515151"/><stop offset="0.93" stop-color="#555555"/><stop offset="1.0" stop-color="#585858"/></linearGradient><linearGradient id="dc133" x1="0" y1="0" x2="0" y2="1"><stop offset="0" stop-color="#373737"/><stop offset="0.12" stop-color="#393939"/><stop offset="0.25" stop-color="#3b3b3b"/><stop offset="0.38" stop-color="#404040"/><stop offset="0.5" stop-color="#434343"/><stop offset="0.6" stop-color="#464646"/><stop offset="0.7" stop-color="#494949"/><stop offset="0.78" stop-color="#4c4c4c"/><stop offset="0.85" stop-color="#505050"/><stop offset="0.93" stop-color="#535353"/><stop offset="1.0" stop-color="#575757"/></linearGradient><linearGradient id="dc134" x1="0" y1="0" x2="0" y2="1"><stop offset="0" stop-color="#353535"/><stop offset="0.12" stop-color="#373737"/><stop offset="0.25" stop-color="#3a3a3a"/><stop offset="0.38" stop-color="#3f3f3f"/><stop offset="0.5" stop-color="#434343"/><stop offset="0.6" stop-color="#464646"/><stop offset="0.7" stop-color="#494949"/><stop offset="0.78" stop-color="#4b4b4b"/><stop offset="0.85" stop-color="#4f4f4f"/><stop offset="0.93" stop-color="#525252"/><stop offset="1.0" stop-color="#565656"/></linearGradient><linearGradient id="dc135" x1="0" y1="0" x2="0" y2="1"><stop offset="0" stop-color="#333333"/><stop offset="0.12" stop-color="#363636"/><stop offset="0.25" stop-color="#383838"/><stop offset="0.38" stop-color="#3e3e3e"/><stop offset="0.5" stop-color="#434343"/><stop offset="0.6" stop-color="#454545"/><stop offset="0.7" stop-color="#484848"/><stop offset="0.78" stop-color="#4b4b4b"/><stop offset="0.85" stop-color="#4d4d4d"/><stop offset="0.93" stop-color="#515151"/><stop offset="1.0" stop-color="#555555"/></linearGradient><linearGradient id="dc136" x1="0" y1="0" x2="0" y2="1"><stop offset="0" stop-color="#323232"/><stop offset="0.12" stop-color="#343434"/><stop offset="0.25" stop-color="#373737"/><stop offset="0.38" stop-color="#3d3d3d"/><stop offset="0.5" stop-color="#434343"/><stop offset="0.6" stop-color="#454545"/><stop offset="0.7" stop-color="#474747"/><stop offset="0.78" stop-color="#4a4a4a"/><stop offset="0.85" stop-color="#4d4d4d"/><stop offset="0.93" stop-color="#515151"/><stop offset="1.0" stop-color="#545454"/></linearGradient><linearGradient id="dc137" x1="0" y1="0" x2="0" y2="1"><stop offset="0" stop-color="#303030"/><stop offset="0.12" stop-color="#333333"/><stop offset="0.25" stop-color="#363636"/><stop offset="0.38" stop-color="#3d3d3d"/><stop offset="0.5" stop-color="#424242"/><stop offset="0.6" stop-color="#444444"/><stop offset="0.7" stop-color="#474747"/><stop offset="0.78" stop-color="#494949"/><stop offset="0.85" stop-color="#4d4d4d"/><stop offset="0.93" stop-color="#505050"/><stop offset="1.0" stop-color="#535353"/></linearGradient><linearGradient id="dc138" x1="0" y1="0" x2="0" y2="1"><stop offset="0" stop-color="#2e2e2e"/><stop offset="0.12" stop-color="#323232"/><stop offset="0.25" stop-color="#353535"/><stop offset="0.38" stop-color="#3c3c3c"/><stop offset="0.5" stop-color="#424242"/><stop offset="0.6" stop-color="#444444"/><stop offset="0.7" stop-color="#464646"/><stop offset="0.78" stop-color="#484848"/><stop offset="0.85" stop-color="#4c4c4c"/><stop offset="0.93" stop-color="#505050"/><stop offset="1.0" stop-color="#525252"/></linearGradient><linearGradient id="dc139" x1="0" y1="0" x2="0" y2="1"><stop offset="0" stop-color="#2d2d2d"/><stop offset="0.12" stop-color="#303030"/><stop offset="0.25" stop-color="#343434"/><stop offset="0.38" stop-color="#3b3b3b"/><stop offset="0.5" stop-color="#424242"/><stop offset="0.6" stop-color="#444444"/><stop offset="0.7" stop-color="#464646"/><stop offset="0.78" stop-color="#484848"/><stop offset="0.85" stop-color="#4c4c4c"/><stop offset="0.93" stop-color="#505050"/><stop offset="1.0" stop-color="#525252"/></linearGradient><linearGradient id="dc140" x1="0" y1="0" x2="0" y2="1"><stop offset="0" stop-color="#2b2b2b"/><stop offset="0.12" stop-color="#2f2f2f"/><stop offset="0.25" stop-color="#333333"/><stop offset="0.38" stop-color="#3b3b3b"/><stop offset="0.5" stop-color="#424242"/><stop offset="0.6" stop-color="#434343"/><stop offset="0.7" stop-color="#454545"/><stop offset="0.78" stop-color="#484848"/><stop offset="0.85" stop-color="#4c4c4c"/><stop offset="0.93" stop-color="#4f4f4f"/><stop offset="1.0" stop-color="#525252"/></linearGradient><linearGradient id="dc141" x1="0" y1="0" x2="0" y2="1"><stop offset="0" stop-color="#292929"/><stop offset="0.12" stop-color="#2e2e2e"/><stop offset="0.25" stop-color="#323232"/><stop offset="0.38" stop-color="#3a3a3a"/><stop offset="0.5" stop-color="#414141"/><stop offset="0.6" stop-color="#434343"/><stop offset="0.7" stop-color="#454545"/><stop offset="0.78" stop-color="#484848"/><stop offset="0.85" stop-color="#4b4b4b"/><stop offset="0.93" stop-color="#4f4f4f"/><stop offset="1.0" stop-color="#525252"/></linearGradient><linearGradient id="dc142" x1="0" y1="0" x2="0" y2="1"><stop offset="0" stop-color="#292929"/><stop offset="0.12" stop-color="#2d2d2d"/><stop offset="0.25" stop-color="#313131"/><stop offset="0.38" stop-color="#393939"/><stop offset="0.5" stop-color="#414141"/><stop offset="0.6" stop-color="#434343"/><stop offset="0.7" stop-color="#454545"/><stop offset="0.78" stop-color="#474747"/><stop offset="0.85" stop-color="#4b4b4b"/><stop offset="0.93" stop-color="#4f4f4f"/><stop offset="1.0" stop-color="#525252"/></linearGradient><linearGradient id="dc143" x1="0" y1="0" x2="0" y2="1"><stop offset="0" stop-color="#282828"/><stop offset="0.12" stop-color="#2c2c2c"/><stop offset="0.25" stop-color="#303030"/><stop offset="0.38" stop-color="#393939"/><stop offset="0.5" stop-color="#414141"/><stop offset="0.6" stop-color="#434343"/><stop offset="0.7" stop-color="#444444"/><stop offset="0.78" stop-color="#474747"/><stop offset="0.85" stop-color="#4b4b4b"/><stop offset="0.93" stop-color="#4f4f4f"/><stop offset="1.0" stop-color="#515151"/></linearGradient><linearGradient id="dc144" x1="0" y1="0" x2="0" y2="1"><stop offset="0" stop-color="#272727"/><stop offset="0.12" stop-color="#2b2b2b"/><stop offset="0.25" stop-color="#2f2f2f"/><stop offset="0.38" stop-color="#383838"/><stop offset="0.5" stop-color="#404040"/><stop offset="0.6" stop-color="#424242"/><stop offset="0.7" stop-color="#444444"/><stop offset="0.78" stop-color="#474747"/><stop offset="0.85" stop-color="#4b4b4b"/><stop offset="0.93" stop-color="#4f4f4f"/><stop offset="1.0" stop-color="#515151"/></linearGradient><linearGradient id="dc145" x1="0" y1="0" x2="0" y2="1"><stop offset="0" stop-color="#272727"/><stop offset="0.12" stop-color="#2a2a2a"/><stop offset="0.25" stop-color="#2f2f2f"/><stop offset="0.38" stop-color="#383838"/><stop offset="0.5" stop-color="#404040"/><stop offset="0.6" stop-color="#424242"/><stop offset="0.7" stop-color="#444444"/><stop offset="0.78" stop-color="#464646"/><stop offset="0.85" stop-color="#4a4a4a"/><stop offset="0.93" stop-color="#4e4e4e"/><stop offset="1.0" stop-color="#515151"/></linearGradient><linearGradient id="dc146" x1="0" y1="0" x2="0" y2="1"><stop offset="0" stop-color="#262626"/><stop offset="0.12" stop-color="#2a2a2a"/><stop offset="0.25" stop-color="#2e2e2e"/><stop offset="0.38" stop-color="#373737"/><stop offset="0.5" stop-color="#404040"/><stop offset="0.6" stop-color="#424242"/><stop offset="0.7" stop-color="#434343"/><stop offset="0.78" stop-color="#464646"/><stop offset="0.85" stop-color="#4a4a4a"/><stop offset="0.93" stop-color="#4e4e4e"/><stop offset="1.0" stop-color="#515151"/></linearGradient><linearGradient id="dc147" x1="0" y1="0" x2="0" y2="1"><stop offset="0" stop-color="#252525"/><stop offset="0.12" stop-color="#292929"/><stop offset="0.25" stop-color="#2e2e2e"/><stop offset="0.38" stop-color="#373737"/><stop offset="0.5" stop-color="#3f3f3f"/><stop offset="0.6" stop-color="#414141"/><stop offset="0.7" stop-color="#434343"/><stop offset="0.78" stop-color="#464646"/><stop offset="0.85" stop-color="#4a4a4a"/><stop offset="0.93" stop-color="#4e4e4e"/><stop offset="1.0" stop-color="#515151"/></linearGradient><linearGradient id="dc148" x1="0" y1="0" x2="0" y2="1"><stop offset="0" stop-color="#252525"/><stop offset="0.12" stop-color="#292929"/><stop offset="0.25" stop-color="#2d2d2d"/><stop offset="0.38" stop-color="#363636"/><stop offset="0.5" stop-color="#3e3e3e"/><stop offset="0.6" stop-color="#404040"/><stop offset="0.7" stop-color="#434343"/><stop offset="0.78" stop-color="#464646"/><stop offset="0.85" stop-color="#4a4a4a"/><stop offset="0.93" stop-color="#4e4e4e"/><stop offset="1.0" stop-color="#515151"/></linearGradient><linearGradient id="dc149" x1="0" y1="0" x2="0" y2="1"><stop offset="0" stop-color="#242424"/><stop offset="0.12" stop-color="#282828"/><stop offset="0.25" stop-color="#2d2d2d"/><stop offset="0.38" stop-color="#353535"/><stop offset="0.5" stop-color="#3d3d3d"/><stop offset="0.6" stop-color="#3f3f3f"/><stop offset="0.7" stop-color="#424242"/><stop offset="0.78" stop-color="#454545"/><stop offset="0.85" stop-color="#494949"/><stop offset="0.93" stop-color="#4e4e4e"/><stop offset="1.0" stop-color="#505050"/></linearGradient><linearGradient id="dc150" x1="0" y1="0" x2="0" y2="1"><stop offset="0" stop-color="#232323"/><stop offset="0.12" stop-color="#282828"/><stop offset="0.25" stop-color="#2c2c2c"/><stop offset="0.38" stop-color="#343434"/><stop offset="0.5" stop-color="#3c3c3c"/><stop offset="0.6" stop-color="#3f3f3f"/><stop offset="0.7" stop-color="#424242"/><stop offset="0.78" stop-color="#454545"/><stop offset="0.85" stop-color="#494949"/><stop offset="0.93" stop-color="#4e4e4e"/><stop offset="1.0" stop-color="#505050"/></linearGradient><linearGradient id="dc151" x1="0" y1="0" x2="0" y2="1"><stop offset="0" stop-color="#232323"/><stop offset="0.12" stop-color="#272727"/><stop offset="0.25" stop-color="#2c2c2c"/><stop offset="0.38" stop-color="#333333"/><stop offset="0.5" stop-color="#3b3b3b"/><stop offset="0.6" stop-color="#3e3e3e"/><stop offset="0.7" stop-color="#414141"/><stop offset="0.78" stop-color="#454545"/><stop offset="0.85" stop-color="#494949"/><stop offset="0.93" stop-color="#4d4d4d"/><stop offset="1.0" stop-color="#505050"/></linearGradient><linearGradient id="dc152" x1="0" y1="0" x2="0" y2="1"><stop offset="0" stop-color="#222222"/><stop offset="0.12" stop-color="#262626"/><stop offset="0.25" stop-color="#2b2b2b"/><stop offset="0.38" stop-color="#333333"/><stop offset="0.5" stop-color="#3a3a3a"/><stop offset="0.6" stop-color="#3d3d3d"/><stop offset="0.7" stop-color="#414141"/><stop offset="0.78" stop-color="#444444"/><stop offset="0.85" stop-color="#494949"/><stop offset="0.93" stop-color="#4d4d4d"/><stop offset="1.0" stop-color="#505050"/></linearGradient><linearGradient id="dc153" x1="0" y1="0" x2="0" y2="1"><stop offset="0" stop-color="#212121"/><stop offset="0.12" stop-color="#262626"/><stop offset="0.25" stop-color="#2b2b2b"/><stop offset="0.38" stop-color="#323232"/><stop offset="0.5" stop-color="#393939"/><stop offset="0.6" stop-color="#3c3c3c"/><stop offset="0.7" stop-color="#404040"/><stop offset="0.78" stop-color="#444444"/><stop offset="0.85" stop-color="#494949"/><stop offset="0.93" stop-color="#4d4d4d"/><stop offset="1.0" stop-color="#505050"/></linearGradient><linearGradient id="dc154" x1="0" y1="0" x2="0" y2="1"><stop offset="0" stop-color="#212121"/><stop offset="0.12" stop-color="#252525"/><stop offset="0.25" stop-color="#2a2a2a"/><stop offset="0.38" stop-color="#313131"/><stop offset="0.5" stop-color="#373737"/><stop offset="0.6" stop-color="#3c3c3c"/><stop offset="0.7" stop-color="#404040"/><stop offset="0.78" stop-color="#444444"/><stop offset="0.85" stop-color="#484848"/><stop offset="0.93" stop-color="#4d4d4d"/><stop offset="1.0" stop-color="#505050"/></linearGradient><linearGradient id="dc155" x1="0" y1="0" x2="0" y2="1"><stop offset="0" stop-color="#202020"/><stop offset="0.12" stop-color="#252525"/><stop offset="0.25" stop-color="#2a2a2a"/><stop offset="0.38" stop-color="#303030"/><stop offset="0.5" stop-color="#363636"/><stop offset="0.6" stop-color="#3b3b3b"/><stop offset="0.7" stop-color="#3f3f3f"/><stop offset="0.78" stop-color="#444444"/><stop offset="0.85" stop-color="#484848"/><stop offset="0.93" stop-color="#4d4d4d"/><stop offset="1.0" stop-color="#505050"/></linearGradient><linearGradient id="dc156" x1="0" y1="0" x2="0" y2="1"><stop offset="0" stop-color="#1f1f1f"/><stop offset="0.12" stop-color="#242424"/><stop offset="0.25" stop-color="#292929"/><stop offset="0.38" stop-color="#2f2f2f"/><stop offset="0.5" stop-color="#353535"/><stop offset="0.6" stop-color="#3a3a3a"/><stop offset="0.7" stop-color="#3f3f3f"/><stop offset="0.78" stop-color="#434343"/><stop offset="0.85" stop-color="#484848"/><stop offset="0.93" stop-color="#4c4c4c"/><stop offset="1.0" stop-color="#4f4f4f"/></linearGradient><linearGradient id="dc157" x1="0" y1="0" x2="0" y2="1"><stop offset="0" stop-color="#1f1f1f"/><stop offset="0.12" stop-color="#242424"/><stop offset="0.25" stop-color="#292929"/><stop offset="0.38" stop-color="#2f2f2f"/><stop offset="0.5" stop-color="#343434"/><stop offset="0.6" stop-color="#3a3a3a"/><stop offset="0.7" stop-color="#3f3f3f"/><stop offset="0.78" stop-color="#434343"/><stop offset="0.85" stop-color="#484848"/><stop offset="0.93" stop-color="#4c4c4c"/><stop offset="1.0" stop-color="#4f4f4f"/></linearGradient></defs>
<clipPath id="clipD"><rect x="924.8" y="663" width="469.8" height="362"/></clipPath>
<g clip-path="url(#clipD)"><g filter="url(#cmD)"><rect x="924.8" y="663" width="3.6" height="362" fill="url(#dc0)"/><rect x="927.8" y="663" width="3.6" height="362" fill="url(#dc1)"/><rect x="930.8" y="663" width="3.6" height="362" fill="url(#dc2)"/><rect x="933.8" y="663" width="3.6" height="362" fill="url(#dc3)"/><rect x="936.8" y="663" width="3.6" height="362" fill="url(#dc4)"/><rect x="939.8" y="663" width="3.6" height="362" fill="url(#dc5)"/><rect x="942.8" y="663" width="3.6" height="362" fill="url(#dc6)"/><rect x="945.8" y="663" width="3.6" height="362" fill="url(#dc7)"/><rect x="948.8" y="663" width="3.6" height="362" fill="url(#dc8)"/><rect x="951.8" y="663" width="3.6" height="362" fill="url(#dc9)"/><rect x="954.8" y="663" width="3.6" height="362" fill="url(#dc10)"/><rect x="957.8" y="663" width="3.6" height="362" fill="url(#dc11)"/><rect x="960.8" y="663" width="3.6" height="362" fill="url(#dc12)"/><rect x="963.8" y="663" width="3.6" height="362" fill="url(#dc13)"/><rect x="966.8" y="663" width="3.6" height="362" fill="url(#dc14)"/><rect x="969.8" y="663" width="3.6" height="362" fill="url(#dc15)"/><rect x="972.8" y="663" width="3.6" height="362" fill="url(#dc16)"/><rect x="975.8" y="663" width="3.6" height="362" fill="url(#dc17)"/><rect x="978.8" y="663" width="3.6" height="362" fill="url(#dc18)"/><rect x="981.8" y="663" width="3.6" height="362" fill="url(#dc19)"/><rect x="984.8" y="663" width="3.6" height="362" fill="url(#dc20)"/><rect x="987.8" y="663" width="3.6" height="362" fill="url(#dc21)"/><rect x="990.8" y="663" width="3.6" height="362" fill="url(#dc22)"/><rect x="993.8" y="663" width="3.6" height="362" fill="url(#dc23)"/><rect x="996.8" y="663" width="3.6" height="362" fill="url(#dc24)"/><rect x="999.8" y="663" width="3.6" height="362" fill="url(#dc25)"/><rect x="1002.8" y="663" width="3.6" height="362" fill="url(#dc26)"/><rect x="1005.8" y="663" width="3.6" height="362" fill="url(#dc27)"/><rect x="1008.8" y="663" width="3.6" height="362" fill="url(#dc28)"/><rect x="1011.8" y="663" width="3.6" height="362" fill="url(#dc29)"/><rect x="1014.8" y="663" width="3.6" height="362" fill="url(#dc30)"/><rect x="1017.8" y="663" width="3.6" height="362" fill="url(#dc31)"/><rect x="1020.8" y="663" width="3.6" height="362" fill="url(#dc32)"/><rect x="1023.8" y="663" width="3.6" height="362" fill="url(#dc33)"/><rect x="1026.8" y="663" width="3.6" height="362" fill="url(#dc34)"/><rect x="1029.8" y="663" width="3.6" height="362" fill="url(#dc35)"/><rect x="1032.8" y="663" width="3.6" height="362" fill="url(#dc36)"/><rect x="1035.8" y="663" width="3.6" height="362" fill="url(#dc37)"/><rect x="1038.8" y="663" width="3.6" height="362" fill="url(#dc38)"/><rect x="1041.8" y="663" width="3.6" height="362" fill="url(#dc39)"/><rect x="1044.8" y="663" width="3.6" height="362" fill="url(#dc40)"/><rect x="1047.8" y="663" width="3.6" height="362" fill="url(#dc41)"/><rect x="1050.8" y="663" width="3.6" height="362" fill="url(#dc42)"/><rect x="1053.8" y="663" width="3.6" height="362" fill="url(#dc43)"/><rect x="1056.8" y="663" width="3.6" height="362" fill="url(#dc44)"/><rect x="1059.8" y="663" width="3.6" height="362" fill="url(#dc45)"/><rect x="1062.8" y="663" width="3.6" height="362" fill="url(#dc46)"/><rect x="1065.8" y="663" width="3.6" height="362" fill="url(#dc47)"/><rect x="1068.8" y="663" width="3.6" height="362" fill="url(#dc48)"/><rect x="1071.8" y="663" width="3.6" height="362" fill="url(#dc49)"/><rect x="1074.8" y="663" width="3.6" height="362" fill="url(#dc50)"/><rect x="1077.8" y="663" width="3.6" height="362" fill="url(#dc51)"/><rect x="1080.8" y="663" width="3.6" height="362" fill="url(#dc52)"/><rect x="1083.8" y="663" width="3.6" height="362" fill="url(#dc53)"/><rect x="1086.8" y="663" width="3.6" height="362" fill="url(#dc54)"/><rect x="1089.8" y="663" width="3.6" height="362" fill="url(#dc55)"/><rect x="1092.8" y="663" width="3.6" height="362" fill="url(#dc56)"/><rect x="1095.8" y="663" width="3.6" height="362" fill="url(#dc57)"/><rect x="1098.8" y="663" width="3.6" height="362" fill="url(#dc58)"/><rect x="1101.8" y="663" width="3.6" height="362" fill="url(#dc59)"/><rect x="1104.8" y="663" width="3.6" height="362" fill="url(#dc60)"/><rect x="1107.8" y="663" width="3.6" height="362" fill="url(#dc61)"/><rect x="1110.8" y="663" width="3.6" height="362" fill="url(#dc62)"/><rect x="1113.8" y="663" width="3.6" height="362" fill="url(#dc63)"/><rect x="1116.8" y="663" width="3.6" height="362" fill="url(#dc64)"/><rect x="1119.8" y="663" width="3.6" height="362" fill="url(#dc65)"/><rect x="1122.8" y="663" width="3.6" height="362" fill="url(#dc66)"/><rect x="1125.8" y="663" width="3.6" height="362" fill="url(#dc67)"/><rect x="1128.8" y="663" width="3.6" height="362" fill="url(#dc68)"/><rect x="1131.8" y="663" width="3.6" height="362" fill="url(#dc69)"/><rect x="1134.8" y="663" width="3.6" height="362" fill="url(#dc70)"/><rect x="1137.8" y="663" width="3.6" height="362" fill="url(#dc71)"/><rect x="1140.8" y="663" width="3.6" height="362" fill="url(#dc72)"/><rect x="1143.8" y="663" width="3.6" height="362" fill="url(#dc73)"/><rect x="1146.8" y="663" width="3.6" height="362" fill="url(#dc74)"/><rect x="1149.8" y="663" width="3.6" height="362" fill="url(#dc75)"/><rect x="1152.8" y="663" width="3.6" height="362" fill="url(#dc76)"/><rect x="1155.8" y="663" width="3.6" height="362" fill="url(#dc77)"/><rect x="1158.8" y="663" width="3.6" height="362" fill="url(#dc78)"/><rect x="1161.8" y="663" width="3.6" height="362" fill="url(#dc79)"/><rect x="1164.8" y="663" width="3.6" height="362" fill="url(#dc80)"/><rect x="1167.8" y="663" width="3.6" height="362" fill="url(#dc81)"/><rect x="1170.8" y="663" width="3.6" height="362" fill="url(#dc82)"/><rect x="1173.8" y="663" width="3.6" height="362" fill="url(#dc83)"/><rect x="1176.8" y="663" width="3.6" height="362" fill="url(#dc84)"/><rect x="1179.8" y="663" width="3.6" height="362" fill="url(#dc85)"/><rect x="1182.8" y="663" width="3.6" height="362" fill="url(#dc86)"/><rect x="1185.8" y="663" width="3.6" height="362" fill="url(#dc87)"/><rect x="1188.8" y="663" width="3.6" height="362" fill="url(#dc88)"/><rect x="1191.8" y="663" width="3.6" height="362" fill="url(#dc89)"/><rect x="1194.8" y="663" width="3.6" height="362" fill="url(#dc90)"/><rect x="1197.8" y="663" width="3.6" height="362" fill="url(#dc91)"/><rect x="1200.8" y="663" width="3.6" height="362" fill="url(#dc92)"/><rect x="1203.8" y="663" width="3.6" height="362" fill="url(#dc93)"/><rect x="1206.8" y="663" width="3.6" height="362" fill="url(#dc94)"/><rect x="1209.8" y="663" width="3.6" height="362" fill="url(#dc95)"/><rect x="1212.8" y="663" width="3.6" height="362" fill="url(#dc96)"/><rect x="1215.8" y="663" width="3.6" height="362" fill="url(#dc97)"/><rect x="1218.8" y="663" width="3.6" height="362" fill="url(#dc98)"/><rect x="1221.8" y="663" width="3.6" height="362" fill="url(#dc99)"/><rect x="1224.8" y="663" width="3.6" height="362" fill="url(#dc100)"/><rect x="1227.8" y="663" width="3.6" height="362" fill="url(#dc101)"/><rect x="1230.8" y="663" width="3.6" height="362" fill="url(#dc102)"/><rect x="1233.8" y="663" width="3.6" height="362" fill="url(#dc103)"/><rect x="1236.8" y="663" width="3.6" height="362" fill="url(#dc104)"/><rect x="1239.8" y="663" width="3.6" height="362" fill="url(#dc105)"/><rect x="1242.8" y="663" width="3.6" height="362" fill="url(#dc106)"/><rect x="1245.8" y="663" width="3.6" height="362" fill="url(#dc107)"/><rect x="1248.8" y="663" width="3.6" height="362" fill="url(#dc108)"/><rect x="1251.8" y="663" width="3.6" height="362" fill="url(#dc109)"/><rect x="1254.8" y="663" width="3.6" height="362" fill="url(#dc110)"/><rect x="1257.8" y="663" width="3.6" height="362" fill="url(#dc111)"/><rect x="1260.8" y="663" width="3.6" height="362" fill="url(#dc112)"/><rect x="1263.8" y="663" width="3.6" height="362" fill="url(#dc113)"/><rect x="1266.8" y="663" width="3.6" height="362" fill="url(#dc114)"/><rect x="1269.8" y="663" width="3.6" height="362" fill="url(#dc115)"/><rect x="1272.8" y="663" width="3.6" height="362" fill="url(#dc116)"/><rect x="1275.8" y="663" width="3.6" height="362" fill="url(#dc117)"/><rect x="1278.8" y="663" width="3.6" height="362" fill="url(#dc118)"/><rect x="1281.8" y="663" width="3.6" height="362" fill="url(#dc119)"/><rect x="1284.8" y="663" width="3.6" height="362" fill="url(#dc120)"/><rect x="1287.8" y="663" width="3.6" height="362" fill="url(#dc121)"/><rect x="1290.8" y="663" width="3.6" height="362" fill="url(#dc122)"/><rect x="1293.8" y="663" width="3.6" height="362" fill="url(#dc123)"/><rect x="1296.8" y="663" width="3.6" height="362" fill="url(#dc124)"/><rect x="1299.8" y="663" width="3.6" height="362" fill="url(#dc125)"/><rect x="1302.8" y="663" width="3.6" height="362" fill="url(#dc126)"/><rect x="1305.8" y="663" width="3.6" height="362" fill="url(#dc127)"/><rect x="1308.8" y="663" width="3.6" height="362" fill="url(#dc128)"/><rect x="1311.8" y="663" width="3.6" height="362" fill="url(#dc129)"/><rect x="1314.8" y="663" width="3.6" height="362" fill="url(#dc130)"/><rect x="1317.8" y="663" width="3.6" height="362" fill="url(#dc131)"/><rect x="1320.8" y="663" width="3.6" height="362" fill="url(#dc132)"/><rect x="1323.8" y="663" width="3.6" height="362" fill="url(#dc133)"/><rect x="1326.8" y="663" width="3.6" height="362" fill="url(#dc134)"/><rect x="1329.8" y="663" width="3.6" height="362" fill="url(#dc135)"/><rect x="1332.8" y="663" width="3.6" height="362" fill="url(#dc136)"/><rect x="1335.8" y="663" width="3.6" height="362" fill="url(#dc137)"/><rect x="1338.8" y="663" width="3.6" height="362" fill="url(#dc138)"/><rect x="1341.8" y="663" width="3.6" height="362" fill="url(#dc139)"/><rect x="1344.8" y="663" width="3.6" height="362" fill="url(#dc140)"/><rect x="1347.8" y="663" width="3.6" height="362" fill="url(#dc141)"/><rect x="1350.8" y="663" width="3.6" height="362" fill="url(#dc142)"/><rect x="1353.8" y="663" width="3.6" height="362" fill="url(#dc143)"/><rect x="1356.8" y="663" width="3.6" height="362" fill="url(#dc144)"/><rect x="1359.8" y="663" width="3.6" height="362" fill="url(#dc145)"/><rect x="1362.8" y="663" width="3.6" height="362" fill="url(#dc146)"/><rect x="1365.8" y="663" width="3.6" height="362" fill="url(#dc147)"/><rect x="1368.8" y="663" width="3.6" height="362" fill="url(#dc148)"/><rect x="1371.8" y="663" width="3.6" height="362" fill="url(#dc149)"/><rect x="1374.8" y="663" width="3.6" height="362" fill="url(#dc150)"/><rect x="1377.8" y="663" width="3.6" height="362" fill="url(#dc151)"/><rect x="1380.8" y="663" width="3.6" height="362" fill="url(#dc152)"/><rect x="1383.8" y="663" width="3.6" height="362" fill="url(#dc153)"/><rect x="1386.8" y="663" width="3.6" height="362" fill="url(#dc154)"/><rect x="1389.8" y="663" width="3.6" height="362" fill="url(#dc155)"/><rect x="1392.8" y="663" width="3.6" height="362" fill="url(#dc156)"/><rect x="1395.8" y="663" width="3.6" height="362" fill="url(#dc157)"/></g></g>
<path d="M1201.25,663 L1219.03,797 M1221.82,818 L1249.29,1025" stroke="#f01e28" stroke-width="1.35" fill="none"/>
<text x="1199.17" y="814.6" font-family="'Liberation Sans', Arial, sans-serif" font-size="18.76" fill="#143c2c" >90.0</text>
<text x="1041.33" y="1006.4" font-family="'Liberation Sans', Arial, sans-serif" font-size="15.61" textLength="48.33" lengthAdjust="spacingAndGlyphs" fill="#2a1a10" >165.0</text>
<path d="M1054.5,1025 L1060.5,1011.8 L1066.8,1025" stroke="#5cc6d6" stroke-width="1.8" fill="none"/>
<rect x="924.8" y="663" width="469.8" height="362" fill="none" stroke="#111" stroke-width="2.2"/>
<path d="M920,1025 H924.8 M922.6,988.8 H924.8 M920,952.6 H924.8 M922.6,916.4 H924.8 M920,880.2 H924.8 M922.6,844 H924.8 M920,807.8 H924.8 M922.6,771.6 H924.8 M920,735.4 H924.8 M922.6,699.2 H924.8 M920,663 H924.8 M942.5,1025 V1032 M992.67,1025 V1028.5 M1042.85,1025 V1032 M1093.03,1025 V1028.5 M1143.2,1025 V1032 M1193.38,1025 V1028.5 M1243.55,1025 V1032 M1293.72,1025 V1028.5 M1343.9,1025 V1032 M1394.08,1025 V1028.5" stroke="#111" stroke-width="1.8" fill="none"/>
<text x="868.15" y="1032.1" font-family="'Liberation Sans', Arial, sans-serif" font-size="20.91" textLength="42.75" lengthAdjust="spacingAndGlyphs" fill="#1a1a1a" stroke="#1a1a1a" stroke-width="0.3">130</text>
<text x="868.15" y="959.7" font-family="'Liberation Sans', Arial, sans-serif" font-size="20.91" textLength="42.75" lengthAdjust="spacingAndGlyphs" fill="#1a1a1a" stroke="#1a1a1a" stroke-width="0.3">140</text>
<text x="868.15" y="887.3" font-family="'Liberation Sans', Arial, sans-serif" font-size="20.91" textLength="42.75" lengthAdjust="spacingAndGlyphs" fill="#1a1a1a" stroke="#1a1a1a" stroke-width="0.3">150</text>
<text x="868.15" y="814.9" font-family="'Liberation Sans', Arial, sans-serif" font-size="20.91" textLength="42.75" lengthAdjust="spacingAndGlyphs" fill="#1a1a1a" stroke="#1a1a1a" stroke-width="0.3">160</text>
<text x="868.15" y="742.5" font-family="'Liberation Sans', Arial, sans-serif" font-size="20.91" textLength="42.75" lengthAdjust="spacingAndGlyphs" fill="#1a1a1a" stroke="#1a1a1a" stroke-width="0.3">170</text>
<text x="868.15" y="670.1" font-family="'Liberation Sans', Arial, sans-serif" font-size="20.91" textLength="42.75" lengthAdjust="spacingAndGlyphs" fill="#1a1a1a" stroke="#1a1a1a" stroke-width="0.3">180</text>
<text x="927.77" y="1061.4" font-family="'Liberation Sans', Arial, sans-serif" font-size="23.06" textLength="29.15" lengthAdjust="spacingAndGlyphs" fill="#1a1a1a" stroke="#1a1a1a" stroke-width="0.3">60</text>
<text x="1028.23" y="1061.4" font-family="'Liberation Sans', Arial, sans-serif" font-size="23.06" textLength="29.04" lengthAdjust="spacingAndGlyphs" fill="#1a1a1a" stroke="#1a1a1a" stroke-width="0.3">90</text>
<text x="1121.46" y="1061.4" font-family="'Liberation Sans', Arial, sans-serif" font-size="23.06" textLength="42.54" lengthAdjust="spacingAndGlyphs" fill="#1a1a1a" stroke="#1a1a1a" stroke-width="0.3">120</text>
<text x="1221.81" y="1061.4" font-family="'Liberation Sans', Arial, sans-serif" font-size="23.06" textLength="42.54" lengthAdjust="spacingAndGlyphs" fill="#1a1a1a" stroke="#1a1a1a" stroke-width="0.3">150</text>
<text x="1322.16" y="1061.4" font-family="'Liberation Sans', Arial, sans-serif" font-size="23.06" textLength="42.54" lengthAdjust="spacingAndGlyphs" fill="#1a1a1a" stroke="#1a1a1a" stroke-width="0.3">180</text>
<text x="0" y="0" transform="translate(850.4,855.2) rotate(-90)" font-family="Liberation Sans, Arial, sans-serif" font-size="29.2" text-anchor="middle" fill="#1a1a1a" textLength="216" lengthAdjust="spacingAndGlyphs">Distance <tspan font-style="italic">D</tspan> (nm)</text>
<text x="1079" y="1101.9" font-family="Liberation Sans, Arial, sans-serif" font-size="26.3" fill="#1a1a1a" textLength="181" lengthAdjust="spacingAndGlyphs">Length <tspan font-style="italic">L</tspan>  (nm)</text>
<defs><linearGradient id="gCbD" x1="0" y1="1" x2="0" y2="0"><stop offset="0" stop-color="rgb(224, 16, 16)"/><stop offset="0.06" stop-color="rgb(228, 56, 16)"/><stop offset="0.11" stop-color="rgb(232, 96, 16)"/><stop offset="0.16" stop-color="rgb(244, 160, 0)"/><stop offset="0.19" stop-color="rgb(248, 192, 0)"/><stop offset="0.25" stop-color="rgb(248, 232, 0)"/><stop offset="0.29" stop-color="rgb(220, 224, 0)"/><stop offset="0.35" stop-color="rgb(184, 208, 0)"/><stop offset="0.42" stop-color="rgb(140, 190, 30)"/><stop offset="0.5" stop-color="rgb(96, 176, 48)"/><stop offset="0.6" stop-color="rgb(112, 176, 48)"/><stop offset="0.66" stop-color="rgb(125, 190, 150)"/><stop offset="0.69" stop-color="rgb(128, 196, 180)"/><stop offset="0.75" stop-color="rgb(128, 200, 224)"/><stop offset="0.81" stop-color="rgb(64, 192, 240)"/><stop offset="0.85" stop-color="rgb(72, 150, 220)"/><stop offset="0.89" stop-color="rgb(68, 110, 190)"/><stop offset="0.94" stop-color="rgb(60, 80, 162)"/><stop offset="1" stop-color="rgb(58, 74, 156)"/></linearGradient></defs>
<rect x="1421" y="661.1" width="31.8" height="381.3" fill="url(#gCbD)"/>
<text x="1464.73" y="672.3" font-family="'Liberation Sans', Arial, sans-serif" font-size="19.62" textLength="13.84" lengthAdjust="spacingAndGlyphs" fill="#333" stroke="#333" stroke-width="0.35">0</text>
<text x="1464.81" y="766.7" font-family="'Liberation Sans', Arial, sans-serif" font-size="23.2" fill="#333" stroke="#333" stroke-width="0.35">45.0</text>
<text x="1464.09" y="863.5" font-family="'Liberation Sans', Arial, sans-serif" font-size="22.06" textLength="46.24" lengthAdjust="spacingAndGlyphs" fill="#333" stroke="#333" stroke-width="0.35">90.0</text>
<text x="1463.39" y="958" font-family="'Liberation Sans', Arial, sans-serif" font-size="21.48" textLength="59.54" lengthAdjust="spacingAndGlyphs" fill="#333" stroke="#333" stroke-width="0.35">135.0</text>
<text x="1463.39" y="1052.3" font-family="'Liberation Sans', Arial, sans-serif" font-size="21.34" textLength="59.54" lengthAdjust="spacingAndGlyphs" fill="#333" stroke="#333" stroke-width="0.35">180.0</text>
<filter id="cmE" x="-20%" y="-20%" width="140%" height="140%" color-interpolation-filters="sRGB">
<feGaussianBlur stdDeviation="5.2"/>
<feComponentTransfer><feFuncR type="table" tableValues="0.227 0.227 0.227 0.227 0.227 0.227 0.227 0.227 0.227 0.227 0.227 0.224 0.221 0.218 0.215 0.212 0.209 0.205 0.202 0.199 0.196 0.198 0.201 0.203 0.205 0.208 0.21 0.213 0.215 0.217 0.22 0.241 0.263 0.285 0.306 0.328 0.35 0.371 0.393 0.415 0.436 0.458 0.48 0.501 0.523 0.545 0.567 0.588 0.609 0.63 0.651 0.672 0.693 0.714 0.735 0.756 0.776 0.797 0.818 0.839 0.86 0.881 0.902 0.903 0.904 0.905 0.906 0.907 0.908 0.909 0.91 0.906 0.902 0.898 0.894 0.89 0.886 0.882 0.878 0.875 0.871 0.865 0.859 0.853 0.847 0.841 0.835 0.829 0.824 0.818 0.812 0.811 0.81 0.809 0.809 0.808 0.807 0.806 0.805 0.805 0.804"/><feFuncG type="table" tableValues="0.306 0.308 0.311 0.313 0.315 0.318 0.32 0.322 0.325 0.327 0.329 0.338 0.347 0.355 0.364 0.373 0.381 0.39 0.398 0.407 0.416 0.421 0.427 0.432 0.438 0.443 0.449 0.454 0.46 0.465 0.471 0.484 0.496 0.509 0.522 0.535 0.548 0.561 0.574 0.587 0.6 0.613 0.626 0.639 0.651 0.664 0.677 0.69 0.696 0.702 0.707 0.713 0.719 0.725 0.73 0.736 0.742 0.748 0.753 0.759 0.765 0.771 0.776 0.771 0.765 0.759 0.753 0.747 0.741 0.735 0.729 0.704 0.678 0.652 0.626 0.6 0.574 0.548 0.522 0.496 0.471 0.446 0.422 0.398 0.373 0.349 0.325 0.3 0.276 0.252 0.227 0.224 0.221 0.218 0.215 0.212 0.209 0.205 0.202 0.199 0.196"/><feFuncB type="table" tableValues="0.627 0.624 0.62 0.616 0.612 0.608 0.604 0.6 0.596 0.592 0.588 0.567 0.546 0.525 0.504 0.482 0.461 0.44 0.419 0.398 0.376 0.363 0.35 0.336 0.323 0.31 0.296 0.283 0.27 0.256 0.243 0.242 0.24 0.239 0.238 0.236 0.235 0.233 0.232 0.231 0.229 0.228 0.227 0.225 0.224 0.222 0.221 0.22 0.222 0.224 0.226 0.228 0.23 0.232 0.234 0.236 0.238 0.241 0.243 0.245 0.247 0.249 0.251 0.25 0.249 0.248 0.247 0.246 0.245 0.244 0.243 0.24 0.237 0.234 0.231 0.227 0.224 0.221 0.218 0.215 0.212 0.21 0.208 0.206 0.204 0.202 0.2 0.198 0.196 0.194 0.192 0.192 0.191 0.191 0.191 0.19 0.19 0.189 0.189 0.189 0.188"/></feComponentTransfer>
</filter>
<clipPath id="ccE"><circle cx="0" cy="0" r="42"/></clipPath>
<g transform="translate(181.7,1268.9) scale(1.01)"><g clip-path="url(#ccE)"><g filter="url(#cmE)"><rect x="-58" y="-58" width="116" height="116" fill="#a3a3a3"/><ellipse cx="0" cy="-42" rx="37.8" ry="24.36" fill="#4c4c4c"/><ellipse cx="0" cy="42" rx="37.8" ry="24.36" fill="#4c4c4c"/><ellipse cx="0" cy="-45.36" rx="37.8" ry="13.86" fill="#050505"/><ellipse cx="0" cy="45.36" rx="37.8" ry="13.86" fill="#050505"/><ellipse cx="-32.76" cy="0" rx="8.4" ry="17.64" fill="#ffffff"/><ellipse cx="32.76" cy="0" rx="8.4" ry="17.64" fill="#ffffff"/></g></g><circle cx="0" cy="0" r="41.5" fill="none" stroke="#36586e" stroke-width="1.3"/></g>
<g transform="translate(277,1267.6) scale(1)"><g clip-path="url(#ccE)"><g filter="url(#cmE)"><rect x="-58" y="-58" width="116" height="116" fill="#a3a3a3"/><ellipse cx="0" cy="-42" rx="37.8" ry="24.36" fill="#4c4c4c"/><ellipse cx="0" cy="42" rx="37.8" ry="24.36" fill="#4c4c4c"/><ellipse cx="0" cy="-45.36" rx="37.8" ry="13.86" fill="#050505"/><ellipse cx="0" cy="45.36" rx="37.8" ry="13.86" fill="#050505"/><ellipse cx="-32.76" cy="0" rx="8.4" ry="17.64" fill="#ededed"/><ellipse cx="32.76" cy="0" rx="8.4" ry="17.64" fill="#ffffff"/></g></g><circle cx="0" cy="0" r="41.5" fill="none" stroke="#36586e" stroke-width="1.3"/></g>
<g transform="translate(374.5,1272.1) scale(1.01)"><g clip-path="url(#ccE)"><g filter="url(#cmE)"><rect x="-58" y="-58" width="116" height="116" fill="#919191"/><ellipse cx="0" cy="-42" rx="44.1" ry="27.72" fill="#4c4c4c"/><ellipse cx="0" cy="42" rx="44.1" ry="27.72" fill="#4c4c4c"/><ellipse cx="0" cy="-45.36" rx="37.8" ry="13.86" fill="#050505"/><ellipse cx="0" cy="45.36" rx="37.8" ry="13.86" fill="#050505"/><ellipse cx="-31.5" cy="0" rx="10.08" ry="19.32" fill="#bdbdbd"/><ellipse cx="31.5" cy="0" rx="10.08" ry="19.32" fill="#ffffff"/></g></g><circle cx="0" cy="0" r="41.5" fill="none" stroke="#36586e" stroke-width="1.3"/></g>
<g transform="translate(471.2,1270.9) scale(0.99)"><g clip-path="url(#ccE)"><g filter="url(#cmE)"><rect x="-58" y="-58" width="116" height="116" fill="#575757"/><ellipse cx="-18.9" cy="0" rx="15.96" ry="17.64" fill="#737373"/><ellipse cx="18.9" cy="0.84" rx="25.2" ry="33.6" fill="#a3a3a3"/><ellipse cx="-6.3" cy="-46.2" rx="35.7" ry="14.28" fill="#050505"/><ellipse cx="0" cy="46.2" rx="25.2" ry="12.6" fill="#050505"/><ellipse cx="-39.9" cy="0" rx="5.04" ry="18.9" fill="#858585"/><ellipse cx="31.08" cy="1.26" rx="9.24" ry="17.64" fill="#ffffff"/></g></g><circle cx="0" cy="0" r="41.5" fill="none" stroke="#36586e" stroke-width="1.3"/></g>
<g transform="translate(568.9,1271.8) scale(1)"><g clip-path="url(#ccE)"><g filter="url(#cmE)"><rect x="-58" y="-58" width="116" height="116" fill="#6b6b6b"/><ellipse cx="12.6" cy="2.1" rx="33.6" ry="30.24" fill="#a3a3a3"/><ellipse cx="4.2" cy="-42" rx="42" ry="12.6" fill="#525252"/><ellipse cx="-4.2" cy="42" rx="42" ry="12.6" fill="#525252"/><ellipse cx="-4.2" cy="-47.04" rx="37.8" ry="12.6" fill="#050505"/><ellipse cx="0" cy="47.04" rx="37.8" ry="12.6" fill="#050505"/><ellipse cx="21.84" cy="3.36" rx="19.74" ry="15.12" fill="#ffffff" transform="rotate(12 21.84 3.36)"/></g></g><circle cx="0" cy="0" r="41.5" fill="none" stroke="#36586e" stroke-width="1.3"/></g>
<g transform="translate(671.1,1270.9) scale(1)"><g clip-path="url(#ccE)"><g filter="url(#cmE)"><rect x="-58" y="-58" width="116" height="116" fill="#999999"/><ellipse cx="0" cy="-46.2" rx="46.2" ry="14.7" fill="#4c4c4c"/><ellipse cx="0" cy="46.2" rx="42" ry="12.6" fill="#4c4c4c"/><ellipse cx="-4.2" cy="-49.14" rx="35.7" ry="10.08" fill="#050505"/><ellipse cx="2.1" cy="49.14" rx="35.7" ry="10.08" fill="#050505"/><ellipse cx="-44.1" cy="0" rx="8.4" ry="29.4" fill="#737373"/><ellipse cx="7.56" cy="-2.1" rx="26.88" ry="15.96" fill="#ffffff" transform="rotate(15 7.56 -2.1)"/></g></g><circle cx="0" cy="0" r="41.5" fill="none" stroke="#36586e" stroke-width="1.3"/></g>
<g transform="translate(180.7,1365.2) scale(1.01)"><g clip-path="url(#ccE)"><g filter="url(#cmE)"><rect x="-58" y="-58" width="116" height="116" fill="#a3a3a3"/><ellipse cx="0" cy="-42" rx="37.8" ry="24.36" fill="#4c4c4c"/><ellipse cx="0" cy="42" rx="37.8" ry="24.36" fill="#4c4c4c"/><ellipse cx="0" cy="-45.36" rx="37.8" ry="13.86" fill="#050505"/><ellipse cx="0" cy="45.36" rx="37.8" ry="13.86" fill="#050505"/><ellipse cx="-32.76" cy="0" rx="8.4" ry="17.64" fill="#ffffff"/><ellipse cx="32.76" cy="0" rx="8.4" ry="17.64" fill="#ffffff"/></g></g><circle cx="0" cy="0" r="41.5" fill="none" stroke="#36586e" stroke-width="1.3"/></g>
<g transform="translate(276.8,1364.8) scale(1)"><g clip-path="url(#ccE)"><g filter="url(#cmE)"><rect x="-58" y="-58" width="116" height="116" fill="#a3a3a3"/><ellipse cx="0" cy="-42" rx="37.8" ry="24.36" fill="#4c4c4c"/><ellipse cx="0" cy="42" rx="37.8" ry="24.36" fill="#4c4c4c"/><ellipse cx="0" cy="-45.36" rx="37.8" ry="13.86" fill="#050505"/><ellipse cx="0" cy="45.36" rx="37.8" ry="13.86" fill="#050505"/><ellipse cx="-32.76" cy="0" rx="8.4" ry="17.64" fill="#f2f2f2"/><ellipse cx="32.76" cy="0" rx="8.4" ry="17.64" fill="#ffffff"/></g></g><circle cx="0" cy="0" r="41.5" fill="none" stroke="#36586e" stroke-width="1.3"/></g>
<g transform="translate(373.3,1365.7) scale(1.01)"><g clip-path="url(#ccE)"><g filter="url(#cmE)"><rect x="-58" y="-58" width="116" height="116" fill="#919191"/><ellipse cx="0" cy="-42" rx="44.1" ry="27.72" fill="#4c4c4c"/><ellipse cx="0" cy="42" rx="44.1" ry="27.72" fill="#4c4c4c"/><ellipse cx="0" cy="-45.36" rx="37.8" ry="13.86" fill="#050505"/><ellipse cx="0" cy="45.36" rx="37.8" ry="13.86" fill="#050505"/><ellipse cx="-31.5" cy="0" rx="10.08" ry="19.32" fill="#c2c2c2"/><ellipse cx="31.5" cy="0" rx="10.08" ry="19.32" fill="#ffffff"/></g></g><circle cx="0" cy="0" r="41.5" fill="none" stroke="#36586e" stroke-width="1.3"/></g>
<g transform="translate(470.8,1366.7) scale(1)"><g clip-path="url(#ccE)"><g filter="url(#cmE)"><rect x="-58" y="-58" width="116" height="116" fill="#575757"/><ellipse cx="-18.9" cy="0" rx="15.96" ry="17.64" fill="#757575"/><ellipse cx="18.9" cy="0.84" rx="25.2" ry="33.6" fill="#a3a3a3"/><ellipse cx="-6.3" cy="-46.2" rx="35.7" ry="14.28" fill="#050505"/><ellipse cx="0" cy="46.2" rx="25.2" ry="12.6" fill="#050505"/><ellipse cx="-39.9" cy="0" rx="5.04" ry="18.9" fill="#858585"/><ellipse cx="31.08" cy="1.26" rx="9.24" ry="17.64" fill="#ffffff"/></g></g><circle cx="0" cy="0" r="41.5" fill="none" stroke="#36586e" stroke-width="1.3"/></g>
<g transform="translate(568,1365.7) scale(1.01)"><g clip-path="url(#ccE)"><g filter="url(#cmE)"><rect x="-58" y="-58" width="116" height="116" fill="#6b6b6b"/><ellipse cx="13.44" cy="2.1" rx="33.6" ry="30.24" fill="#a3a3a3"/><ellipse cx="4.2" cy="-42" rx="42" ry="12.6" fill="#525252"/><ellipse cx="-4.2" cy="42" rx="42" ry="12.6" fill="#525252"/><ellipse cx="-4.2" cy="-47.04" rx="37.8" ry="12.6" fill="#050505"/><ellipse cx="0" cy="47.04" rx="37.8" ry="12.6" fill="#050505"/><ellipse cx="22.68" cy="5.04" rx="19.32" ry="14.7" fill="#ffffff" transform="rotate(10 22.68 5.04)"/></g></g><circle cx="0" cy="0" r="41.5" fill="none" stroke="#36586e" stroke-width="1.3"/></g>
<g transform="translate(670.6,1364.8) scale(1.01)"><g clip-path="url(#ccE)"><g filter="url(#cmE)"><rect x="-58" y="-58" width="116" height="116" fill="#999999"/><ellipse cx="0" cy="-44.1" rx="46.2" ry="16.8" fill="#4c4c4c"/><ellipse cx="0" cy="46.2" rx="42" ry="12.6" fill="#4c4c4c"/><ellipse cx="-4.2" cy="-49.14" rx="35.7" ry="10.08" fill="#050505"/><ellipse cx="2.1" cy="49.14" rx="35.7" ry="10.08" fill="#050505"/><ellipse cx="-44.1" cy="0" rx="8.4" ry="29.4" fill="#737373"/><ellipse cx="12.6" cy="3.36" rx="26.04" ry="13.44" fill="#ffffff" transform="rotate(12 12.6 3.36)"/></g></g><circle cx="0" cy="0" r="41.5" fill="none" stroke="#36586e" stroke-width="1.3"/></g>
<g transform="translate(181.7,1456) scale(1.01)"><g clip-path="url(#ccE)"><g filter="url(#cmE)"><rect x="-58" y="-58" width="116" height="116" fill="#a3a3a3"/><ellipse cx="0" cy="-42" rx="37.8" ry="24.36" fill="#4c4c4c"/><ellipse cx="0" cy="42" rx="37.8" ry="24.36" fill="#4c4c4c"/><ellipse cx="0" cy="-45.36" rx="37.8" ry="13.86" fill="#050505"/><ellipse cx="0" cy="45.36" rx="37.8" ry="13.86" fill="#050505"/><ellipse cx="-32.76" cy="0" rx="8.4" ry="17.64" fill="#ffffff"/><ellipse cx="32.76" cy="0" rx="8.4" ry="17.64" fill="#ffffff"/></g></g><circle cx="0" cy="0" r="41.5" fill="none" stroke="#36586e" stroke-width="1.3"/></g>
<g transform="translate(278,1456.9) scale(1)"><g clip-path="url(#ccE)"><g filter="url(#cmE)"><rect x="-58" y="-58" width="116" height="116" fill="#a3a3a3"/><ellipse cx="0" cy="-42" rx="37.8" ry="24.36" fill="#4c4c4c"/><ellipse cx="0" cy="42" rx="37.8" ry="24.36" fill="#4c4c4c"/><ellipse cx="0" cy="-45.36" rx="37.8" ry="13.86" fill="#050505"/><ellipse cx="0" cy="45.36" rx="37.8" ry="13.86" fill="#050505"/><ellipse cx="-32.76" cy="0" rx="8.4" ry="17.64" fill="#ffffff"/><ellipse cx="32.76" cy="0" rx="8.4" ry="17.64" fill="#ffffff"/></g></g><circle cx="0" cy="0" r="41.5" fill="none" stroke="#36586e" stroke-width="1.3"/></g>
<g transform="translate(373.3,1458.6) scale(1.01)"><g clip-path="url(#ccE)"><g filter="url(#cmE)"><rect x="-58" y="-58" width="116" height="116" fill="#919191"/><ellipse cx="0" cy="-42" rx="44.1" ry="27.72" fill="#4c4c4c"/><ellipse cx="0" cy="42" rx="44.1" ry="27.72" fill="#4c4c4c"/><ellipse cx="0" cy="-45.36" rx="37.8" ry="13.86" fill="#050505"/><ellipse cx="0" cy="45.36" rx="37.8" ry="13.86" fill="#050505"/><ellipse cx="-31.5" cy="0" rx="10.08" ry="19.32" fill="#cccccc"/><ellipse cx="31.5" cy="0" rx="10.08" ry="19.32" fill="#ffffff"/></g></g><circle cx="0" cy="0" r="41.5" fill="none" stroke="#36586e" stroke-width="1.3"/></g>
<g transform="translate(470.4,1459.2) scale(1)"><g clip-path="url(#ccE)"><g filter="url(#cmE)"><rect x="-58" y="-58" width="116" height="116" fill="#4f4f4f"/><ellipse cx="-18.9" cy="0" rx="15.96" ry="17.64" fill="#545454"/><ellipse cx="25.2" cy="0.84" rx="17.64" ry="34.44" fill="#a3a3a3"/><ellipse cx="-12.6" cy="-44.1" rx="33.6" ry="16.8" fill="#050505"/><ellipse cx="0" cy="46.2" rx="25.2" ry="12.6" fill="#050505"/><ellipse cx="-39.9" cy="0" rx="5.04" ry="18.9" fill="#808080"/><ellipse cx="31.92" cy="1.26" rx="8.4" ry="17.64" fill="#ffffff"/></g></g><circle cx="0" cy="0" r="41.5" fill="none" stroke="#36586e" stroke-width="1.3"/></g>
<g transform="translate(567.6,1459.6) scale(1)"><g clip-path="url(#ccE)"><g filter="url(#cmE)"><rect x="-58" y="-58" width="116" height="116" fill="#4f4f4f"/><ellipse cx="21.84" cy="2.1" rx="21" ry="33.6" fill="#a3a3a3"/><ellipse cx="4.2" cy="-42" rx="42" ry="12.6" fill="#525252"/><ellipse cx="-4.2" cy="42" rx="42" ry="12.6" fill="#525252"/><ellipse cx="-4.2" cy="-47.04" rx="37.8" ry="12.6" fill="#050505"/><ellipse cx="0" cy="47.04" rx="37.8" ry="12.6" fill="#050505"/><ellipse cx="26.04" cy="3.36" rx="11.76" ry="15.12" fill="#ffffff"/></g></g><circle cx="0" cy="0" r="41.5" fill="none" stroke="#36586e" stroke-width="1.3"/></g>
<g transform="translate(670.9,1458.1) scale(1)"><g clip-path="url(#ccE)"><g filter="url(#cmE)"><rect x="-58" y="-58" width="116" height="116" fill="#616161"/><ellipse cx="14.7" cy="2.1" rx="30.24" ry="31.08" fill="#a3a3a3"/><ellipse cx="4.2" cy="-42" rx="42" ry="12.6" fill="#525252"/><ellipse cx="-4.2" cy="42" rx="42" ry="12.6" fill="#525252"/><ellipse cx="-21" cy="-46.2" rx="21" ry="12.6" fill="#050505"/><ellipse cx="0" cy="47.04" rx="37.8" ry="12.6" fill="#050505"/><ellipse cx="24.36" cy="2.52" rx="14.7" ry="13.86" fill="#ffffff" transform="rotate(20 24.36 2.52)"/></g></g><circle cx="0" cy="0" r="41.5" fill="none" stroke="#36586e" stroke-width="1.3"/></g>
<g transform="translate(179.4,1551) scale(1)"><g clip-path="url(#ccE)"><g filter="url(#cmE)"><rect x="-58" y="-58" width="116" height="116" fill="#a3a3a3"/><ellipse cx="0" cy="-42" rx="37.8" ry="24.36" fill="#4c4c4c"/><ellipse cx="0" cy="42" rx="37.8" ry="24.36" fill="#4c4c4c"/><ellipse cx="0" cy="-45.36" rx="37.8" ry="13.86" fill="#050505"/><ellipse cx="0" cy="45.36" rx="37.8" ry="13.86" fill="#050505"/><ellipse cx="-32.76" cy="0" rx="8.4" ry="17.64" fill="#ffffff"/><ellipse cx="32.76" cy="0" rx="8.4" ry="17.64" fill="#ffffff"/></g></g><circle cx="0" cy="0" r="41.5" fill="none" stroke="#36586e" stroke-width="1.3"/></g>
<g transform="translate(275.9,1552.2) scale(1)"><g clip-path="url(#ccE)"><g filter="url(#cmE)"><rect x="-58" y="-58" width="116" height="116" fill="#a3a3a3"/><ellipse cx="0" cy="-42" rx="37.8" ry="24.36" fill="#4c4c4c"/><ellipse cx="0" cy="42" rx="37.8" ry="24.36" fill="#4c4c4c"/><ellipse cx="0" cy="-45.36" rx="37.8" ry="13.86" fill="#050505"/><ellipse cx="0" cy="45.36" rx="37.8" ry="13.86" fill="#050505"/><ellipse cx="-32.76" cy="0" rx="8.4" ry="17.64" fill="#ffffff"/><ellipse cx="32.76" cy="0" rx="8.4" ry="17.64" fill="#ffffff"/></g></g><circle cx="0" cy="0" r="41.5" fill="none" stroke="#36586e" stroke-width="1.3"/></g>
<g transform="translate(372.6,1550.5) scale(1)"><g clip-path="url(#ccE)"><g filter="url(#cmE)"><rect x="-58" y="-58" width="116" height="116" fill="#949494"/><ellipse cx="0" cy="-42" rx="42" ry="26.88" fill="#4c4c4c"/><ellipse cx="0" cy="42" rx="42" ry="26.88" fill="#4c4c4c"/><ellipse cx="0" cy="-45.36" rx="37.8" ry="13.86" fill="#050505"/><ellipse cx="0" cy="45.36" rx="37.8" ry="13.86" fill="#050505"/><ellipse cx="-31.5" cy="0" rx="10.08" ry="19.32" fill="#fafafa"/><ellipse cx="31.5" cy="0" rx="10.08" ry="19.32" fill="#ffffff"/></g></g><circle cx="0" cy="0" r="41.5" fill="none" stroke="#36586e" stroke-width="1.3"/></g>
<g transform="translate(470.2,1552.7) scale(1)"><g clip-path="url(#ccE)"><g filter="url(#cmE)"><rect x="-58" y="-58" width="116" height="116" fill="#4a4a4a"/><ellipse cx="-18.9" cy="0" rx="15.96" ry="17.64" fill="#4c4c4c"/><ellipse cx="26.04" cy="0.84" rx="16.8" ry="33.6" fill="#a3a3a3"/><ellipse cx="-14.7" cy="-39.9" rx="33.6" ry="21" fill="#050505"/><ellipse cx="0" cy="46.2" rx="27.3" ry="12.6" fill="#050505"/><ellipse cx="-39.9" cy="0" rx="5.04" ry="18.9" fill="#8c8c8c"/><ellipse cx="31.92" cy="1.26" rx="7.98" ry="17.64" fill="#ffffff"/></g></g><circle cx="0" cy="0" r="41.5" fill="none" stroke="#36586e" stroke-width="1.3"/></g>
<g transform="translate(567.4,1554.3) scale(1)"><g clip-path="url(#ccE)"><g filter="url(#cmE)"><rect x="-58" y="-58" width="116" height="116" fill="#474747"/><ellipse cx="22.68" cy="2.1" rx="21" ry="32.76" fill="#a3a3a3"/><ellipse cx="4.2" cy="-42" rx="42" ry="12.6" fill="#525252"/><ellipse cx="-4.2" cy="42" rx="42" ry="12.6" fill="#525252"/><ellipse cx="-25.2" cy="-37.8" rx="25.2" ry="25.2" fill="#050505"/><ellipse cx="0" cy="47.04" rx="37.8" ry="12.6" fill="#050505"/><ellipse cx="26.88" cy="6.3" rx="11.76" ry="14.7" fill="#ffffff"/></g></g><circle cx="0" cy="0" r="41.5" fill="none" stroke="#36586e" stroke-width="1.3"/></g>
<g transform="translate(670.9,1552.7) scale(1)"><g clip-path="url(#ccE)"><g filter="url(#cmE)"><rect x="-58" y="-58" width="116" height="116" fill="#545454"/><ellipse cx="18.9" cy="2.1" rx="25.2" ry="29.4" fill="#a3a3a3"/><ellipse cx="4.2" cy="-42" rx="42" ry="12.6" fill="#525252"/><ellipse cx="-4.2" cy="42" rx="42" ry="12.6" fill="#525252"/><ellipse cx="-8.4" cy="-47.04" rx="29.4" ry="12.6" fill="#050505"/><ellipse cx="0" cy="47.04" rx="37.8" ry="12.6" fill="#050505"/><ellipse cx="26.04" cy="6.3" rx="13.44" ry="14.7" fill="#ffffff"/></g></g><circle cx="0" cy="0" r="41.5" fill="none" stroke="#36586e" stroke-width="1.3"/></g>
<rect x="807.3" y="1290.7" width="303" height="156.8" fill="#fcc200"/>
<polygon points="832.02,1393.8 884.22,1342.7 876.38,1334.7 824.18,1385.8" fill="#fff"/>
<rect x="910.2" y="1332.7" width="13.7" height="65.3" fill="#fff"/>
<polygon points="956.12,1387.78 989.42,1355.78 981.38,1347.42 948.08,1379.42" fill="#fff"/>
<polygon points="1004.82,1387.78 1038.12,1355.78 1030.08,1347.42 996.78,1379.42" fill="#fff"/>
<polygon points="1053.52,1387.78 1086.82,1355.78 1078.78,1347.42 1045.48,1379.42" fill="#fff"/>
<line x1="824.81" y1="1373.33" x2="859.29" y2="1339.67" stroke="#161410" stroke-width="2.9"/><polygon points="865.3,1333.8 861.63,1345.07 853.94,1337.2" fill="#161410"/><polygon points="818.8,1379.2 822.47,1367.93 830.16,1375.8" fill="#161410"/>
<line x1="878.1" y1="1367" x2="900" y2="1367" stroke="#161410" stroke-width="2.9"/><polygon points="908.4,1367 897.9,1372.5 897.9,1361.5" fill="#161410"/><polygon points="869.7,1367 880.2,1361.5 880.2,1372.5" fill="#161410"/>
<line x1="939" y1="1367" x2="958.7" y2="1367" stroke="#161410" stroke-width="2.9"/><polygon points="967.1,1367 956.6,1372.5 956.6,1361.5" fill="#161410"/><polygon points="930.6,1367 941.1,1361.5 941.1,1372.5" fill="#161410"/>
<line x1="986.6" y1="1367" x2="1007.4" y2="1367" stroke="#161410" stroke-width="2.9"/><polygon points="1015.8,1367 1005.3,1372.5 1005.3,1361.5" fill="#161410"/><polygon points="978.2,1367 988.7,1361.5 988.7,1372.5" fill="#161410"/>
<line x1="1034.1" y1="1367" x2="1055" y2="1367" stroke="#161410" stroke-width="2.9"/><polygon points="1063.4,1367 1052.9,1372.5 1052.9,1361.5" fill="#161410"/><polygon points="1025.7,1367 1036.2,1361.5 1036.2,1372.5" fill="#161410"/>
<line x1="927.2" y1="1342.2" x2="927.2" y2="1395.2" stroke="#161410" stroke-width="2.9"/><polygon points="927.2,1403.6 921.7,1393.1 932.7,1393.1" fill="#161410"/><polygon points="927.2,1333.8 932.7,1344.3 921.7,1344.3" fill="#161410"/>
<line x1="1063.84" y1="1387.76" x2="1083.86" y2="1368.44" stroke="#161410" stroke-width="2.9"/><polygon points="1089.9,1362.6 1086.17,1373.85 1078.53,1365.94" fill="#161410"/><polygon points="1057.8,1393.6 1061.53,1382.35 1069.17,1390.26" fill="#161410"/>
<text x="806.99" y="1331.6" font-family="'Liberation Sans', Arial, sans-serif" font-size="24.13" fill="#161410" >155 nm</text>
<text x="889.64" y="1331.6" font-family="'Liberation Sans', Arial, sans-serif" font-size="24.13" fill="#161410" >145 nm</text>
<text x="849.08" y="1405.3" font-family="'Liberation Sans', Arial, sans-serif" font-size="23.06" textLength="79.7" lengthAdjust="spacingAndGlyphs" fill="#161410" >130 nm</text>
<text x="953.1" y="1405.3" font-family="'Liberation Sans', Arial, sans-serif" font-size="23.06" textLength="78.65" lengthAdjust="spacingAndGlyphs" fill="#161410" >130 nm</text>
<text x="1031.27" y="1425.3" font-family="'Liberation Sans', Arial, sans-serif" font-size="23.2" textLength="66.92" lengthAdjust="spacingAndGlyphs" fill="#161410" >95 nm</text>
<filter id="semN" x="0" y="0" width="1" height="1" color-interpolation-filters="sRGB">
<feTurbulence type="fractalNoise" baseFrequency="0.045" numOctaves="3" seed="7" result="n"/>
<feColorMatrix in="n" type="matrix" values="0 0 0 0 0.41  0 0 0 0 0.405  0 0 0 0 0.4  1.3 0 0 0 -0.6" result="nn"/>
<feComposite in="nn" in2="SourceGraphic" operator="atop"/>
</filter>
<filter id="semH" x="-100%" y="-100%" width="300%" height="300%"><feGaussianBlur stdDeviation="4.5"/></filter>
<filter id="semP" x="-50%" y="-50%" width="200%" height="200%"><feGaussianBlur stdDeviation="1.5"/></filter>
<clipPath id="clipSEM"><rect x="807.3" y="1457.7" width="303.2" height="190.4"/></clipPath>
<g clip-path="url(#clipSEM)">
<rect x="807.3" y="1457.7" width="303.2" height="190.4" fill="#595756"/>
<rect x="807.3" y="1457.7" width="303.2" height="190.4" fill="#595756" filter="url(#semN)"/>
<g filter="url(#semH)" fill="#7e7c7b" stroke="#7e7c7b" opacity="0.75">
<line x1="840" y1="1565.5" x2="861" y2="1543.7" stroke-width="28" stroke-linecap="round"/>
<line x1="902.3" y1="1541" x2="905.5" y2="1571" stroke-width="28" stroke-linecap="round"/>
<circle cx="961.6" cy="1556.2" r="15"/>
<circle cx="1020.2" cy="1555.1" r="15"/>
<circle cx="1077.8" cy="1555.1" r="15"/>
</g>
<g filter="url(#semP)" fill="#2f2d2c" stroke="#2f2d2c">
<line x1="840" y1="1565.5" x2="861" y2="1543.7" stroke-width="13" stroke-linecap="round"/>
<line x1="902.3" y1="1541" x2="905.5" y2="1571" stroke-width="13.5" stroke-linecap="round"/>
<ellipse cx="961.6" cy="1556.2" rx="8.8" ry="10.6" transform="rotate(25 961.6 1556.2)" stroke="none"/>
<ellipse cx="1020.2" cy="1555.1" rx="8.8" ry="10.6" transform="rotate(25 1020.2 1555.1)" stroke="none"/>
<ellipse cx="1077.8" cy="1555.1" rx="8.8" ry="10.6" transform="rotate(25 1077.8 1555.1)" stroke="none"/>
</g>
</g>
<text x="1007.53" y="1617.1" font-family="'Liberation Sans', Arial, sans-serif" font-size="23.77" fill="#ffffff" >100 nm</text>
<rect x="1026.9" y="1628.6" width="39.4" height="5.1" fill="#fff"/>
<rect x="1120.5" y="1291.6" width="359.2" height="356.7" fill="#0d0b0a"/>
<filter id="cmF" x="0" y="0" width="1" height="1" color-interpolation-filters="sRGB">
<feGaussianBlur in="SourceGraphic" stdDeviation="8" result="b"/>
<feComponentTransfer in="b" result="m"><feFuncR type="table" tableValues="0 0 0 0 0 0 0.24 1 1 1 1"/><feFuncG type="table" tableValues="0 0 0 0 0 0 0.24 1 1 1 1"/><feFuncB type="table" tableValues="0 0 0 0 0 0 0.24 1 1 1 1"/></feComponentTransfer>
<feTurbulence type="fractalNoise" baseFrequency="0.21 0.17" numOctaves="2" seed="11" result="t"/>
<feColorMatrix in="t" type="matrix" values="1 0 0 0 0  1 0 0 0 0  1 0 0 0 0  0 0 0 0 1" result="tg"/>
<feComponentTransfer in="tg" result="sp"><feFuncR type="linear" slope="3.2" intercept="-1.55"/><feFuncG type="linear" slope="3.2" intercept="-1.55"/><feFuncB type="linear" slope="3.2" intercept="-1.55"/></feComponentTransfer>
<feComposite in="m" in2="sp" operator="arithmetic" k1="1" k2="0" k3="0" k4="0" result="ms"/>
<feComposite in="b" in2="ms" operator="arithmetic" k1="0" k2="1" k3="0.26" k4="0" result="o1"/>
<feTurbulence type="fractalNoise" baseFrequency="0.16" numOctaves="2" seed="5" result="t2"/>
<feColorMatrix in="t2" type="matrix" values="1 0 0 0 0  1 0 0 0 0  1 0 0 0 0  0 0 0 0 1" result="t2g"/>
<feComposite in="o1" in2="t2g" operator="arithmetic" k1="0" k2="1" k3="0.2" k4="-0.1" result="o2"/>
<feComponentTransfer in="o2"><feFuncR type="table" tableValues="0.047 0.053 0.059 0.062 0.064 0.067 0.07 0.073 0.076 0.078 0.09 0.102 0.114 0.125 0.137 0.151 0.165 0.179 0.193 0.207 0.221 0.235 0.235 0.235 0.235 0.226 0.217 0.208 0.198 0.189 0.18 0.171 0.161 0.146 0.123 0.101 0.078 0.078 0.078 0.078 0.078 0.078 0.078 0.078 0.078 0.078 0.078 0.157 0.235 0.314 0.392 0.471 0.529 0.588 0.647 0.706 0.741 0.776 0.812 0.847 0.882 0.889 0.895 0.902 0.906 0.91 0.914 0.918 0.922 0.928 0.935 0.941 0.948 0.954 0.961 0.965 0.969 0.974 0.978 0.98 0.98 0.98 0.98 0.98 0.98 0.98 0.98 0.983 0.986 0.989 0.992 0.994 0.997 1 1 1 1 1 1 1 1"/><feFuncG type="table" tableValues="0.039 0.043 0.047 0.052 0.056 0.061 0.065 0.069 0.074 0.078 0.09 0.102 0.114 0.125 0.137 0.156 0.174 0.193 0.211 0.23 0.248 0.267 0.269 0.272 0.275 0.27 0.265 0.261 0.256 0.251 0.247 0.242 0.238 0.252 0.286 0.319 0.353 0.376 0.399 0.422 0.444 0.467 0.49 0.485 0.48 0.475 0.471 0.439 0.408 0.376 0.345 0.314 0.275 0.235 0.196 0.157 0.137 0.118 0.098 0.078 0.059 0.055 0.051 0.047 0.085 0.122 0.16 0.198 0.235 0.288 0.34 0.392 0.444 0.497 0.549 0.593 0.636 0.68 0.723 0.762 0.795 0.828 0.861 0.894 0.897 0.899 0.902 0.91 0.919 0.927 0.936 0.944 0.952 0.961 0.974 0.987 1 1 1 1 1"/><feFuncB type="table" tableValues="0.047 0.053 0.059 0.084 0.109 0.134 0.16 0.185 0.21 0.235 0.275 0.314 0.353 0.392 0.431 0.464 0.496 0.529 0.561 0.594 0.626 0.659 0.661 0.664 0.667 0.657 0.648 0.639 0.63 0.621 0.611 0.602 0.593 0.566 0.521 0.476 0.431 0.395 0.359 0.324 0.288 0.252 0.216 0.211 0.206 0.201 0.196 0.18 0.165 0.149 0.133 0.118 0.108 0.098 0.088 0.078 0.077 0.075 0.074 0.072 0.071 0.073 0.076 0.078 0.071 0.063 0.055 0.047 0.039 0.033 0.026 0.02 0.013 0.007 0 0 0 0 0 0 0 0 0 0 0 0 0 0.101 0.202 0.303 0.403 0.504 0.605 0.706 0.791 0.876 0.961 0.971 0.98 0.99 1"/><feFuncA type="linear" slope="0" intercept="1"/></feComponentTransfer>
</filter>
<clipPath id="clipDisk"><circle cx="1300.4" cy="1470.4" r="152.3"/></clipPath>
<g clip-path="url(#clipDisk)"><g filter="url(#cmF)">
<rect x="1130" y="1300" width="340" height="340" fill="#424242"/>
<ellipse cx="1338" cy="1468" rx="118" ry="152" fill="#707070" transform="rotate(-18 1338 1468)"/>
<circle cx="1300.4" cy="1470.4" r="160" fill="none" stroke="#4c4c4c" stroke-width="24"/>
<ellipse cx="1362" cy="1482" rx="84" ry="116" fill="#9a9a9a" transform="rotate(-30 1362 1482)"/>
<ellipse cx="1425" cy="1480" rx="30" ry="55" fill="#999999"/>
<ellipse cx="1392" cy="1500" rx="40" ry="64" fill="#aaaaaa" transform="rotate(-35 1392 1500)"/>
</g></g>
<circle cx="1245.9" cy="1436.7" r="10.5" fill="none" stroke="#c04020" stroke-width="1.5" opacity="0.7"/>
<circle cx="1245.9" cy="1436.7" r="8" fill="#3840a8"/>
<circle cx="1245.9" cy="1436.7" r="2.8" fill="#202050"/>
<circle cx="1283.3" cy="1452" r="9.0" fill="none" stroke="#c04020" stroke-width="1.5" opacity="0.7"/>
<circle cx="1283.3" cy="1452" r="6.5" fill="#3840a8"/>
<circle cx="1283.3" cy="1452" r="2.275" fill="#202050"/>
<circle cx="1272.2" cy="1506" r="9.0" fill="none" stroke="#c04020" stroke-width="1.5" opacity="0.7"/>
<circle cx="1272.2" cy="1506" r="6.5" fill="#3840a8"/>
<circle cx="1272.2" cy="1506" r="2.275" fill="#202050"/>
<circle cx="1416.5" cy="1536.5" r="8.5" fill="none" stroke="#c04020" stroke-width="1.5" opacity="0.7"/>
<circle cx="1416.5" cy="1536.5" r="6" fill="#3840a8"/>
<circle cx="1416.5" cy="1536.5" r="2.0999999999999996" fill="#202050"/>
<circle cx="1395.7" cy="1582.3" r="8.0" fill="none" stroke="#c04020" stroke-width="1.5" opacity="0.7"/>
<circle cx="1395.7" cy="1582.3" r="5.5" fill="#3840a8"/>
<circle cx="1395.7" cy="1582.3" r="1.9249999999999998" fill="#202050"/>
<circle cx="1300.4" cy="1471" r="7" fill="#f0e060" opacity="0.8"/>
<circle cx="1300.4" cy="1471" r="5" fill="#ffffff"/>
<defs><linearGradient id="gCbF" x1="0" y1="0" x2="0" y2="1"><stop offset="0" stop-color="rgb(255, 255, 255)"/><stop offset="0.04" stop-color="rgb(255, 255, 245)"/><stop offset="0.07" stop-color="rgb(255, 245, 180)"/><stop offset="0.14" stop-color="rgb(250, 230, 0)"/><stop offset="0.17" stop-color="rgb(250, 228, 0)"/><stop offset="0.21" stop-color="rgb(250, 190, 0)"/><stop offset="0.26" stop-color="rgb(245, 140, 0)"/><stop offset="0.32" stop-color="rgb(235, 60, 10)"/><stop offset="0.37" stop-color="rgb(230, 12, 20)"/><stop offset="0.4" stop-color="rgb(225, 15, 18)"/><stop offset="0.45" stop-color="rgb(180, 40, 20)"/><stop offset="0.49" stop-color="rgb(120, 80, 30)"/><stop offset="0.54" stop-color="rgb(20, 120, 50)"/><stop offset="0.58" stop-color="rgb(20, 125, 55)"/><stop offset="0.64" stop-color="rgb(20, 90, 110)"/><stop offset="0.68" stop-color="rgb(40, 60, 150)"/><stop offset="0.76" stop-color="rgb(60, 70, 170)"/><stop offset="0.79" stop-color="rgb(60, 68, 168)"/><stop offset="0.86" stop-color="rgb(35, 35, 110)"/><stop offset="0.91" stop-color="rgb(20, 20, 60)"/><stop offset="0.98" stop-color="rgb(15, 12, 15)"/><stop offset="1" stop-color="rgb(12, 10, 12)"/></linearGradient></defs>
<rect x="1497.5" y="1332.7" width="28.5" height="284.3" fill="url(#gCbF)" stroke="#333" stroke-width="1"/>
<text x="1499.67" y="1321.6" font-family="'Liberation Sans', Arial, sans-serif" font-size="26.16" fill="#111" >1</text>
<text x="1501.16" y="1648.3" font-family="'Liberation Sans', Arial, sans-serif" font-size="26.92" fill="#111" >0</text>
</svg>
</body></html>
